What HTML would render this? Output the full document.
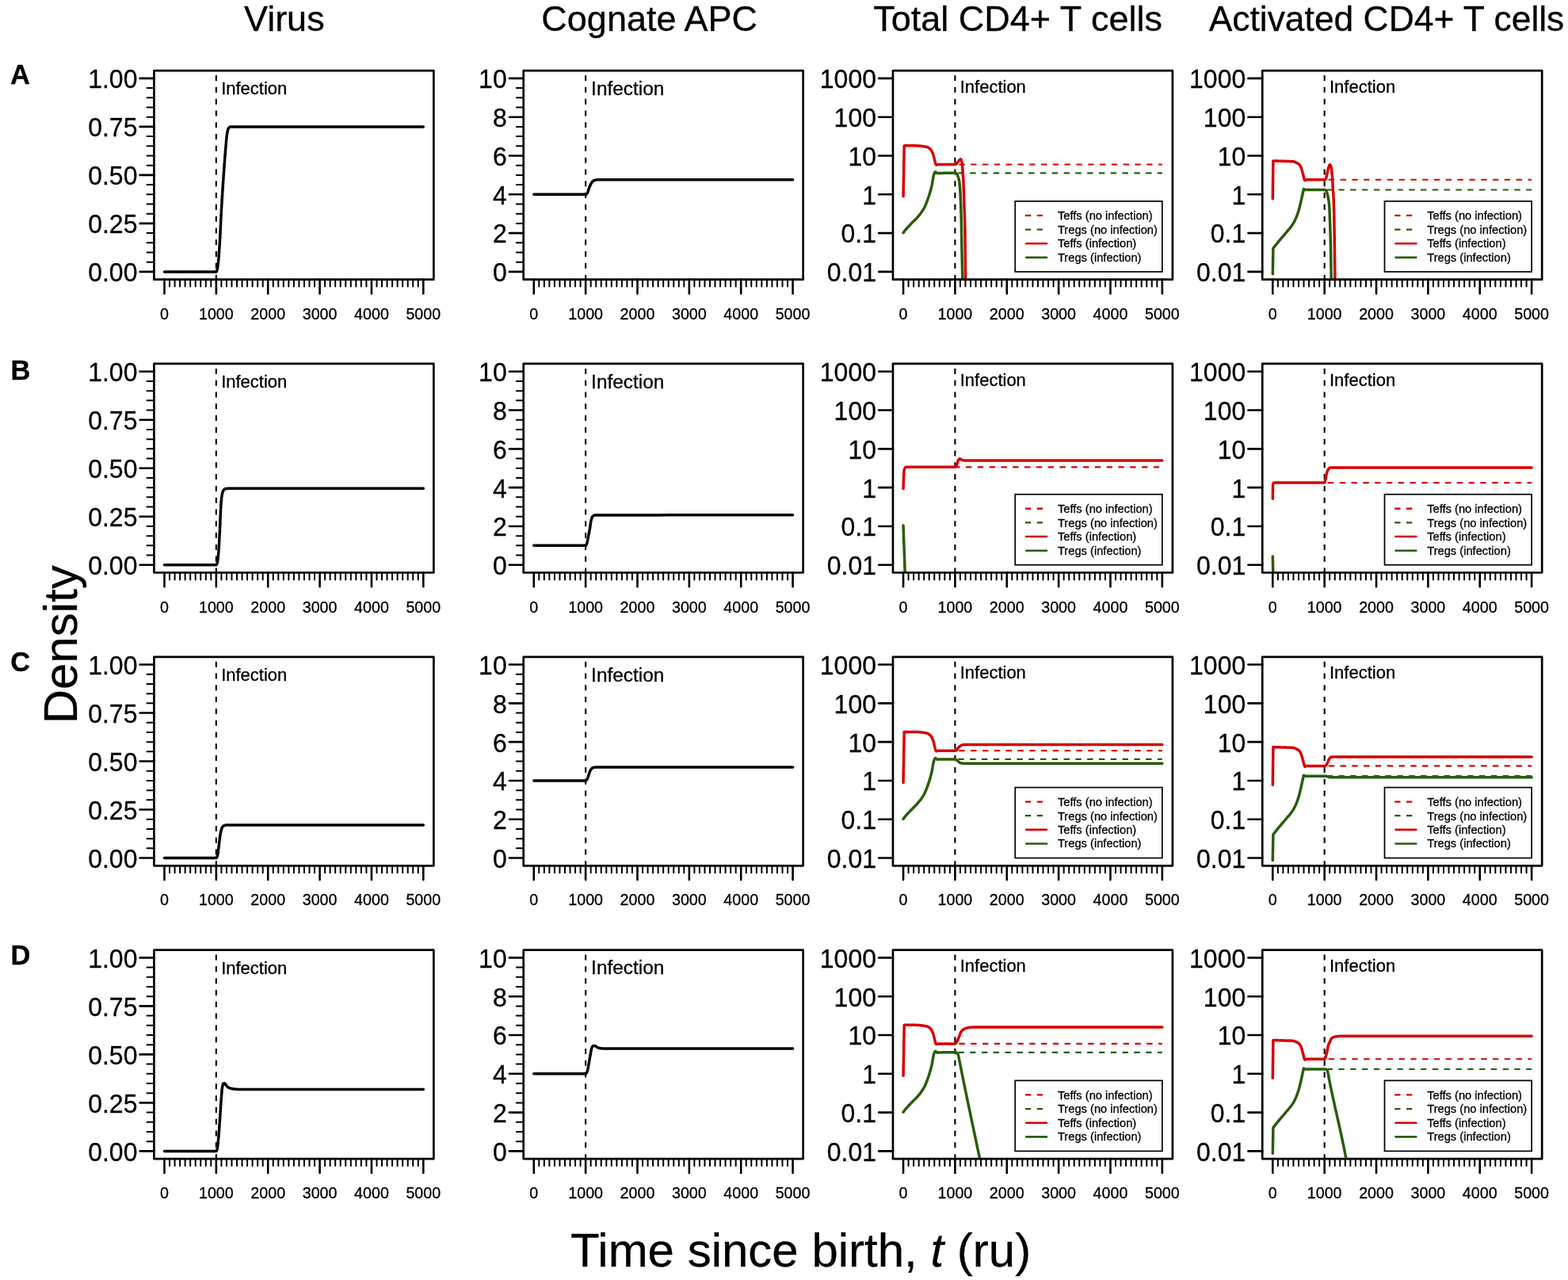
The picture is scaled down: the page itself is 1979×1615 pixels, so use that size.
<!DOCTYPE html><html><head><meta charset="utf-8"><title>Figure</title><style>html,body{margin:0;padding:0;background:#fff;}svg{display:block}text{font-family:'Liberation Sans',Arial,Helvetica,sans-serif;stroke:#000;stroke-width:0.3px}</style></head><body>
<svg width="1979" height="1615" viewBox="0 0 1979 1615">
<rect width="1979" height="1615" fill="#fff"/>
<defs>
<clipPath id="cp00"><rect x="194.43" y="89.14" width="352.94" height="263.52"/></clipPath>
<clipPath id="cp01"><rect x="660.70" y="89.14" width="352.94" height="263.52"/></clipPath>
<clipPath id="cp02"><rect x="1126.97" y="89.14" width="352.94" height="263.52"/></clipPath>
<clipPath id="cp03"><rect x="1593.24" y="89.14" width="352.94" height="263.52"/></clipPath>
<clipPath id="cp10"><rect x="194.43" y="458.97" width="352.94" height="263.52"/></clipPath>
<clipPath id="cp11"><rect x="660.70" y="458.97" width="352.94" height="263.52"/></clipPath>
<clipPath id="cp12"><rect x="1126.97" y="458.97" width="352.94" height="263.52"/></clipPath>
<clipPath id="cp13"><rect x="1593.24" y="458.97" width="352.94" height="263.52"/></clipPath>
<clipPath id="cp20"><rect x="194.43" y="828.80" width="352.94" height="263.52"/></clipPath>
<clipPath id="cp21"><rect x="660.70" y="828.80" width="352.94" height="263.52"/></clipPath>
<clipPath id="cp22"><rect x="1126.97" y="828.80" width="352.94" height="263.52"/></clipPath>
<clipPath id="cp23"><rect x="1593.24" y="828.80" width="352.94" height="263.52"/></clipPath>
<clipPath id="cp30"><rect x="194.43" y="1198.63" width="352.94" height="263.52"/></clipPath>
<clipPath id="cp31"><rect x="660.70" y="1198.63" width="352.94" height="263.52"/></clipPath>
<clipPath id="cp32"><rect x="1126.97" y="1198.63" width="352.94" height="263.52"/></clipPath>
<clipPath id="cp33"><rect x="1593.24" y="1198.63" width="352.94" height="263.52"/></clipPath>
</defs>
<text x="358.8" y="38.8" font-size="45.0" text-anchor="middle">Virus</text>
<text x="819.7" y="38.8" font-size="45.0" text-anchor="middle">Cognate APC</text>
<text x="1284.6" y="38.8" font-size="45.0" text-anchor="middle">Total CD4+ T cells</text>
<text x="1750.0" y="38.8" font-size="44.4" text-anchor="middle">Activated CD4+ T cells</text>
<text x="13.0" y="105.9" font-size="34.5" font-weight="bold">A</text>
<text x="13.6" y="479.2" font-size="34.5" font-weight="bold">B</text>
<text x="13.2" y="847.3" font-size="34.5" font-weight="bold">C</text>
<text x="13.6" y="1217.0" font-size="34.5" font-weight="bold">D</text>
<text transform="translate(96.9,813.3) rotate(-90)" font-size="60" text-anchor="middle">Density</text>
<text x="1010.5" y="1598.3" font-size="60" text-anchor="middle">Time since birth, <tspan font-style="italic">t</tspan> (ru)</text>
<g><line x1="194.43" y1="342.90" x2="176.63" y2="342.90" stroke="#000" stroke-width="2.60" stroke-linecap="round"/><text transform="translate(173.43,343.50) scale(1,1.050)" font-size="32.0" text-anchor="end" dominant-baseline="central">0.00</text><line x1="194.43" y1="281.90" x2="176.63" y2="281.90" stroke="#000" stroke-width="2.60" stroke-linecap="round"/><text transform="translate(173.43,282.50) scale(1,1.050)" font-size="32.0" text-anchor="end" dominant-baseline="central">0.25</text><line x1="194.43" y1="220.90" x2="176.63" y2="220.90" stroke="#000" stroke-width="2.60" stroke-linecap="round"/><text transform="translate(173.43,221.50) scale(1,1.050)" font-size="32.0" text-anchor="end" dominant-baseline="central">0.50</text><line x1="194.43" y1="159.90" x2="176.63" y2="159.90" stroke="#000" stroke-width="2.60" stroke-linecap="round"/><text transform="translate(173.43,160.50) scale(1,1.050)" font-size="32.0" text-anchor="end" dominant-baseline="central">0.75</text><line x1="194.43" y1="98.90" x2="176.63" y2="98.90" stroke="#000" stroke-width="2.60" stroke-linecap="round"/><text transform="translate(173.43,99.50) scale(1,1.050)" font-size="32.0" text-anchor="end" dominant-baseline="central">1.00</text><line x1="194.43" y1="330.70" x2="185.53" y2="330.70" stroke="#000" stroke-width="2.00" stroke-linecap="round"/><line x1="194.43" y1="318.50" x2="185.53" y2="318.50" stroke="#000" stroke-width="2.00" stroke-linecap="round"/><line x1="194.43" y1="306.30" x2="185.53" y2="306.30" stroke="#000" stroke-width="2.00" stroke-linecap="round"/><line x1="194.43" y1="294.10" x2="185.53" y2="294.10" stroke="#000" stroke-width="2.00" stroke-linecap="round"/><line x1="194.43" y1="269.70" x2="185.53" y2="269.70" stroke="#000" stroke-width="2.00" stroke-linecap="round"/><line x1="194.43" y1="257.50" x2="185.53" y2="257.50" stroke="#000" stroke-width="2.00" stroke-linecap="round"/><line x1="194.43" y1="245.30" x2="185.53" y2="245.30" stroke="#000" stroke-width="2.00" stroke-linecap="round"/><line x1="194.43" y1="233.10" x2="185.53" y2="233.10" stroke="#000" stroke-width="2.00" stroke-linecap="round"/><line x1="194.43" y1="208.70" x2="185.53" y2="208.70" stroke="#000" stroke-width="2.00" stroke-linecap="round"/><line x1="194.43" y1="196.50" x2="185.53" y2="196.50" stroke="#000" stroke-width="2.00" stroke-linecap="round"/><line x1="194.43" y1="184.30" x2="185.53" y2="184.30" stroke="#000" stroke-width="2.00" stroke-linecap="round"/><line x1="194.43" y1="172.10" x2="185.53" y2="172.10" stroke="#000" stroke-width="2.00" stroke-linecap="round"/><line x1="194.43" y1="147.70" x2="185.53" y2="147.70" stroke="#000" stroke-width="2.00" stroke-linecap="round"/><line x1="194.43" y1="135.50" x2="185.53" y2="135.50" stroke="#000" stroke-width="2.00" stroke-linecap="round"/><line x1="194.43" y1="123.30" x2="185.53" y2="123.30" stroke="#000" stroke-width="2.00" stroke-linecap="round"/><line x1="194.43" y1="111.10" x2="185.53" y2="111.10" stroke="#000" stroke-width="2.00" stroke-linecap="round"/><line x1="207.50" y1="352.66" x2="207.50" y2="370.46" stroke="#000" stroke-width="2.60" stroke-linecap="round"/><text transform="translate(207.50,402.80) scale(1,1.050)" font-size="19.7" text-anchor="middle">0</text><line x1="214.04" y1="352.66" x2="214.04" y2="361.56" stroke="#000" stroke-width="2.00" stroke-linecap="round"/><line x1="220.57" y1="352.66" x2="220.57" y2="361.56" stroke="#000" stroke-width="2.00" stroke-linecap="round"/><line x1="227.11" y1="352.66" x2="227.11" y2="361.56" stroke="#000" stroke-width="2.00" stroke-linecap="round"/><line x1="233.64" y1="352.66" x2="233.64" y2="361.56" stroke="#000" stroke-width="2.00" stroke-linecap="round"/><line x1="240.18" y1="352.66" x2="240.18" y2="361.56" stroke="#000" stroke-width="2.00" stroke-linecap="round"/><line x1="246.72" y1="352.66" x2="246.72" y2="361.56" stroke="#000" stroke-width="2.00" stroke-linecap="round"/><line x1="253.25" y1="352.66" x2="253.25" y2="361.56" stroke="#000" stroke-width="2.00" stroke-linecap="round"/><line x1="259.79" y1="352.66" x2="259.79" y2="361.56" stroke="#000" stroke-width="2.00" stroke-linecap="round"/><line x1="266.32" y1="352.66" x2="266.32" y2="361.56" stroke="#000" stroke-width="2.00" stroke-linecap="round"/><line x1="272.86" y1="352.66" x2="272.86" y2="370.46" stroke="#000" stroke-width="2.60" stroke-linecap="round"/><text transform="translate(272.86,402.80) scale(1,1.050)" font-size="19.7" text-anchor="middle">1000</text><line x1="279.40" y1="352.66" x2="279.40" y2="361.56" stroke="#000" stroke-width="2.00" stroke-linecap="round"/><line x1="285.93" y1="352.66" x2="285.93" y2="361.56" stroke="#000" stroke-width="2.00" stroke-linecap="round"/><line x1="292.47" y1="352.66" x2="292.47" y2="361.56" stroke="#000" stroke-width="2.00" stroke-linecap="round"/><line x1="299.00" y1="352.66" x2="299.00" y2="361.56" stroke="#000" stroke-width="2.00" stroke-linecap="round"/><line x1="305.54" y1="352.66" x2="305.54" y2="361.56" stroke="#000" stroke-width="2.00" stroke-linecap="round"/><line x1="312.08" y1="352.66" x2="312.08" y2="361.56" stroke="#000" stroke-width="2.00" stroke-linecap="round"/><line x1="318.61" y1="352.66" x2="318.61" y2="361.56" stroke="#000" stroke-width="2.00" stroke-linecap="round"/><line x1="325.15" y1="352.66" x2="325.15" y2="361.56" stroke="#000" stroke-width="2.00" stroke-linecap="round"/><line x1="331.68" y1="352.66" x2="331.68" y2="361.56" stroke="#000" stroke-width="2.00" stroke-linecap="round"/><line x1="338.22" y1="352.66" x2="338.22" y2="370.46" stroke="#000" stroke-width="2.60" stroke-linecap="round"/><text transform="translate(338.22,402.80) scale(1,1.050)" font-size="19.7" text-anchor="middle">2000</text><line x1="344.76" y1="352.66" x2="344.76" y2="361.56" stroke="#000" stroke-width="2.00" stroke-linecap="round"/><line x1="351.29" y1="352.66" x2="351.29" y2="361.56" stroke="#000" stroke-width="2.00" stroke-linecap="round"/><line x1="357.83" y1="352.66" x2="357.83" y2="361.56" stroke="#000" stroke-width="2.00" stroke-linecap="round"/><line x1="364.36" y1="352.66" x2="364.36" y2="361.56" stroke="#000" stroke-width="2.00" stroke-linecap="round"/><line x1="370.90" y1="352.66" x2="370.90" y2="361.56" stroke="#000" stroke-width="2.00" stroke-linecap="round"/><line x1="377.44" y1="352.66" x2="377.44" y2="361.56" stroke="#000" stroke-width="2.00" stroke-linecap="round"/><line x1="383.97" y1="352.66" x2="383.97" y2="361.56" stroke="#000" stroke-width="2.00" stroke-linecap="round"/><line x1="390.51" y1="352.66" x2="390.51" y2="361.56" stroke="#000" stroke-width="2.00" stroke-linecap="round"/><line x1="397.04" y1="352.66" x2="397.04" y2="361.56" stroke="#000" stroke-width="2.00" stroke-linecap="round"/><line x1="403.58" y1="352.66" x2="403.58" y2="370.46" stroke="#000" stroke-width="2.60" stroke-linecap="round"/><text transform="translate(403.58,402.80) scale(1,1.050)" font-size="19.7" text-anchor="middle">3000</text><line x1="410.12" y1="352.66" x2="410.12" y2="361.56" stroke="#000" stroke-width="2.00" stroke-linecap="round"/><line x1="416.65" y1="352.66" x2="416.65" y2="361.56" stroke="#000" stroke-width="2.00" stroke-linecap="round"/><line x1="423.19" y1="352.66" x2="423.19" y2="361.56" stroke="#000" stroke-width="2.00" stroke-linecap="round"/><line x1="429.72" y1="352.66" x2="429.72" y2="361.56" stroke="#000" stroke-width="2.00" stroke-linecap="round"/><line x1="436.26" y1="352.66" x2="436.26" y2="361.56" stroke="#000" stroke-width="2.00" stroke-linecap="round"/><line x1="442.80" y1="352.66" x2="442.80" y2="361.56" stroke="#000" stroke-width="2.00" stroke-linecap="round"/><line x1="449.33" y1="352.66" x2="449.33" y2="361.56" stroke="#000" stroke-width="2.00" stroke-linecap="round"/><line x1="455.87" y1="352.66" x2="455.87" y2="361.56" stroke="#000" stroke-width="2.00" stroke-linecap="round"/><line x1="462.40" y1="352.66" x2="462.40" y2="361.56" stroke="#000" stroke-width="2.00" stroke-linecap="round"/><line x1="468.94" y1="352.66" x2="468.94" y2="370.46" stroke="#000" stroke-width="2.60" stroke-linecap="round"/><text transform="translate(468.94,402.80) scale(1,1.050)" font-size="19.7" text-anchor="middle">4000</text><line x1="475.48" y1="352.66" x2="475.48" y2="361.56" stroke="#000" stroke-width="2.00" stroke-linecap="round"/><line x1="482.01" y1="352.66" x2="482.01" y2="361.56" stroke="#000" stroke-width="2.00" stroke-linecap="round"/><line x1="488.55" y1="352.66" x2="488.55" y2="361.56" stroke="#000" stroke-width="2.00" stroke-linecap="round"/><line x1="495.08" y1="352.66" x2="495.08" y2="361.56" stroke="#000" stroke-width="2.00" stroke-linecap="round"/><line x1="501.62" y1="352.66" x2="501.62" y2="361.56" stroke="#000" stroke-width="2.00" stroke-linecap="round"/><line x1="508.16" y1="352.66" x2="508.16" y2="361.56" stroke="#000" stroke-width="2.00" stroke-linecap="round"/><line x1="514.69" y1="352.66" x2="514.69" y2="361.56" stroke="#000" stroke-width="2.00" stroke-linecap="round"/><line x1="521.23" y1="352.66" x2="521.23" y2="361.56" stroke="#000" stroke-width="2.00" stroke-linecap="round"/><line x1="527.76" y1="352.66" x2="527.76" y2="361.56" stroke="#000" stroke-width="2.00" stroke-linecap="round"/><line x1="534.30" y1="352.66" x2="534.30" y2="370.46" stroke="#000" stroke-width="2.60" stroke-linecap="round"/><text transform="translate(534.30,402.80) scale(1,1.050)" font-size="19.7" text-anchor="middle">5000</text><line x1="272.86" y1="89.14" x2="272.86" y2="352.66" stroke="#000" stroke-width="2.10" stroke-dasharray="7.0 7.8" stroke-dashoffset="8.89"/><text x="279.16" y="119.20" font-size="22.0">Infection</text><path d="M207.50,342.90 L211.59,342.90 L215.67,342.90 L219.75,342.90 L223.84,342.90 L227.93,342.90 L232.01,342.90 L236.09,342.90 L240.18,342.90 L244.26,342.90 L248.35,342.90 L252.44,342.90 L256.52,342.90 L260.61,342.90 L264.69,342.90 L268.77,342.90 L272.86,342.90 L272.94,342.88 L273.02,342.84 L273.11,342.76 L273.19,342.65 L273.27,342.52 L273.35,342.36 L273.43,342.19 L273.51,341.99 L273.60,341.78 L273.68,341.55 L273.76,341.31 L273.84,341.06 L273.92,340.79 L274.00,340.52 L274.09,340.25 L274.17,339.97 L274.26,339.62 L274.36,339.20 L274.45,338.72 L274.54,338.18 L274.64,337.59 L274.73,336.95 L274.82,336.26 L274.92,335.53 L275.01,334.77 L275.11,333.97 L275.20,333.15 L275.29,332.30 L275.39,331.43 L275.48,330.55 L275.58,329.65 L275.67,328.75 L275.78,327.60 L275.90,326.37 L276.01,325.06 L276.13,323.67 L276.24,322.22 L276.36,320.70 L276.47,319.12 L276.59,317.49 L276.70,315.81 L276.81,314.09 L276.93,312.33 L277.04,310.53 L277.16,308.71 L277.27,306.86 L277.39,305.00 L277.50,303.13 L277.61,301.19 L277.73,299.13 L277.84,296.98 L277.96,294.75 L278.07,292.44 L278.19,290.08 L278.30,287.69 L278.42,285.26 L278.53,282.83 L278.64,280.41 L278.76,278.00 L278.87,275.62 L278.99,273.30 L279.10,271.04 L279.22,268.86 L279.33,266.77 L279.50,263.74 L279.67,260.76 L279.85,257.83 L280.02,254.94 L280.19,252.09 L280.36,249.28 L280.53,246.52 L280.70,243.79 L280.87,241.09 L281.05,238.43 L281.22,235.81 L281.39,233.21 L281.56,230.64 L281.73,228.10 L281.90,225.59 L282.08,223.10 L282.25,220.62 L282.42,218.17 L282.59,215.73 L282.76,213.31 L282.93,210.91 L283.11,208.54 L283.28,206.20 L283.45,203.88 L283.62,201.60 L283.79,199.36 L283.96,197.15 L284.13,194.98 L284.31,192.85 L284.48,190.76 L284.65,188.73 L284.82,186.74 L284.93,185.46 L285.04,184.16 L285.15,182.85 L285.26,181.53 L285.37,180.22 L285.48,178.92 L285.59,177.64 L285.70,176.40 L285.81,175.19 L285.92,174.04 L286.03,172.95 L286.14,171.92 L286.25,170.97 L286.37,170.11 L286.48,169.34 L286.59,168.68 L286.70,168.06 L286.81,167.46 L286.93,166.88 L287.04,166.31 L287.16,165.77 L287.27,165.25 L287.39,164.76 L287.50,164.30 L287.62,163.87 L287.73,163.47 L287.84,163.10 L287.96,162.77 L288.07,162.48 L288.19,162.23 L288.30,162.02 L288.42,161.85 L288.59,161.64 L288.76,161.44 L288.93,161.25 L289.10,161.06 L289.27,160.89 L289.45,160.73 L289.62,160.58 L289.79,160.45 L289.96,160.32 L290.13,160.22 L290.30,160.12 L290.47,160.04 L290.65,159.98 L290.82,159.94 L290.99,159.91 L291.16,159.90 L291.65,159.90 L292.14,159.90 L292.63,159.90 L293.12,159.90 L293.61,159.90 L294.10,159.90 L294.59,159.90 L295.08,159.90 L295.57,159.90 L296.06,159.90 L296.55,159.90 L297.04,159.90 L297.53,159.90 L298.02,159.90 L298.51,159.90 L299.00,159.90 L313.71,159.90 L328.42,159.90 L343.12,159.90 L357.83,159.90 L372.53,159.90 L387.24,159.90 L401.95,159.90 L416.65,159.90 L431.36,159.90 L446.06,159.90 L460.77,159.90 L475.48,159.90 L490.18,159.90 L504.89,159.90 L519.59,159.90 L534.30,159.90" fill="none" stroke="#000" stroke-width="3.50" stroke-linecap="round" stroke-linejoin="round" clip-path="url(#cp00)"/><rect x="194.43" y="89.14" width="352.94" height="263.52" fill="none" stroke="#000" stroke-width="2.70" stroke-linejoin="round"/></g>
<g><line x1="660.70" y1="342.90" x2="642.90" y2="342.90" stroke="#000" stroke-width="2.60" stroke-linecap="round"/><text transform="translate(639.70,343.50) scale(1,1.050)" font-size="32.0" text-anchor="end" dominant-baseline="central">0</text><line x1="660.70" y1="294.10" x2="642.90" y2="294.10" stroke="#000" stroke-width="2.60" stroke-linecap="round"/><text transform="translate(639.70,294.70) scale(1,1.050)" font-size="32.0" text-anchor="end" dominant-baseline="central">2</text><line x1="660.70" y1="245.30" x2="642.90" y2="245.30" stroke="#000" stroke-width="2.60" stroke-linecap="round"/><text transform="translate(639.70,245.90) scale(1,1.050)" font-size="32.0" text-anchor="end" dominant-baseline="central">4</text><line x1="660.70" y1="196.50" x2="642.90" y2="196.50" stroke="#000" stroke-width="2.60" stroke-linecap="round"/><text transform="translate(639.70,197.10) scale(1,1.050)" font-size="32.0" text-anchor="end" dominant-baseline="central">6</text><line x1="660.70" y1="147.70" x2="642.90" y2="147.70" stroke="#000" stroke-width="2.60" stroke-linecap="round"/><text transform="translate(639.70,148.30) scale(1,1.050)" font-size="32.0" text-anchor="end" dominant-baseline="central">8</text><line x1="660.70" y1="98.90" x2="642.90" y2="98.90" stroke="#000" stroke-width="2.60" stroke-linecap="round"/><text transform="translate(639.70,99.50) scale(1,1.050)" font-size="32.0" text-anchor="end" dominant-baseline="central">10</text><line x1="660.70" y1="330.70" x2="651.80" y2="330.70" stroke="#000" stroke-width="2.00" stroke-linecap="round"/><line x1="660.70" y1="318.50" x2="651.80" y2="318.50" stroke="#000" stroke-width="2.00" stroke-linecap="round"/><line x1="660.70" y1="306.30" x2="651.80" y2="306.30" stroke="#000" stroke-width="2.00" stroke-linecap="round"/><line x1="660.70" y1="281.90" x2="651.80" y2="281.90" stroke="#000" stroke-width="2.00" stroke-linecap="round"/><line x1="660.70" y1="269.70" x2="651.80" y2="269.70" stroke="#000" stroke-width="2.00" stroke-linecap="round"/><line x1="660.70" y1="257.50" x2="651.80" y2="257.50" stroke="#000" stroke-width="2.00" stroke-linecap="round"/><line x1="660.70" y1="233.10" x2="651.80" y2="233.10" stroke="#000" stroke-width="2.00" stroke-linecap="round"/><line x1="660.70" y1="220.90" x2="651.80" y2="220.90" stroke="#000" stroke-width="2.00" stroke-linecap="round"/><line x1="660.70" y1="208.70" x2="651.80" y2="208.70" stroke="#000" stroke-width="2.00" stroke-linecap="round"/><line x1="660.70" y1="184.30" x2="651.80" y2="184.30" stroke="#000" stroke-width="2.00" stroke-linecap="round"/><line x1="660.70" y1="172.10" x2="651.80" y2="172.10" stroke="#000" stroke-width="2.00" stroke-linecap="round"/><line x1="660.70" y1="159.90" x2="651.80" y2="159.90" stroke="#000" stroke-width="2.00" stroke-linecap="round"/><line x1="660.70" y1="135.50" x2="651.80" y2="135.50" stroke="#000" stroke-width="2.00" stroke-linecap="round"/><line x1="660.70" y1="123.30" x2="651.80" y2="123.30" stroke="#000" stroke-width="2.00" stroke-linecap="round"/><line x1="660.70" y1="111.10" x2="651.80" y2="111.10" stroke="#000" stroke-width="2.00" stroke-linecap="round"/><line x1="673.77" y1="352.66" x2="673.77" y2="370.46" stroke="#000" stroke-width="2.60" stroke-linecap="round"/><text transform="translate(673.77,402.80) scale(1,1.050)" font-size="19.7" text-anchor="middle">0</text><line x1="680.31" y1="352.66" x2="680.31" y2="361.56" stroke="#000" stroke-width="2.00" stroke-linecap="round"/><line x1="686.84" y1="352.66" x2="686.84" y2="361.56" stroke="#000" stroke-width="2.00" stroke-linecap="round"/><line x1="693.38" y1="352.66" x2="693.38" y2="361.56" stroke="#000" stroke-width="2.00" stroke-linecap="round"/><line x1="699.91" y1="352.66" x2="699.91" y2="361.56" stroke="#000" stroke-width="2.00" stroke-linecap="round"/><line x1="706.45" y1="352.66" x2="706.45" y2="361.56" stroke="#000" stroke-width="2.00" stroke-linecap="round"/><line x1="712.99" y1="352.66" x2="712.99" y2="361.56" stroke="#000" stroke-width="2.00" stroke-linecap="round"/><line x1="719.52" y1="352.66" x2="719.52" y2="361.56" stroke="#000" stroke-width="2.00" stroke-linecap="round"/><line x1="726.06" y1="352.66" x2="726.06" y2="361.56" stroke="#000" stroke-width="2.00" stroke-linecap="round"/><line x1="732.59" y1="352.66" x2="732.59" y2="361.56" stroke="#000" stroke-width="2.00" stroke-linecap="round"/><line x1="739.13" y1="352.66" x2="739.13" y2="370.46" stroke="#000" stroke-width="2.60" stroke-linecap="round"/><text transform="translate(739.13,402.80) scale(1,1.050)" font-size="19.7" text-anchor="middle">1000</text><line x1="745.67" y1="352.66" x2="745.67" y2="361.56" stroke="#000" stroke-width="2.00" stroke-linecap="round"/><line x1="752.20" y1="352.66" x2="752.20" y2="361.56" stroke="#000" stroke-width="2.00" stroke-linecap="round"/><line x1="758.74" y1="352.66" x2="758.74" y2="361.56" stroke="#000" stroke-width="2.00" stroke-linecap="round"/><line x1="765.27" y1="352.66" x2="765.27" y2="361.56" stroke="#000" stroke-width="2.00" stroke-linecap="round"/><line x1="771.81" y1="352.66" x2="771.81" y2="361.56" stroke="#000" stroke-width="2.00" stroke-linecap="round"/><line x1="778.35" y1="352.66" x2="778.35" y2="361.56" stroke="#000" stroke-width="2.00" stroke-linecap="round"/><line x1="784.88" y1="352.66" x2="784.88" y2="361.56" stroke="#000" stroke-width="2.00" stroke-linecap="round"/><line x1="791.42" y1="352.66" x2="791.42" y2="361.56" stroke="#000" stroke-width="2.00" stroke-linecap="round"/><line x1="797.95" y1="352.66" x2="797.95" y2="361.56" stroke="#000" stroke-width="2.00" stroke-linecap="round"/><line x1="804.49" y1="352.66" x2="804.49" y2="370.46" stroke="#000" stroke-width="2.60" stroke-linecap="round"/><text transform="translate(804.49,402.80) scale(1,1.050)" font-size="19.7" text-anchor="middle">2000</text><line x1="811.03" y1="352.66" x2="811.03" y2="361.56" stroke="#000" stroke-width="2.00" stroke-linecap="round"/><line x1="817.56" y1="352.66" x2="817.56" y2="361.56" stroke="#000" stroke-width="2.00" stroke-linecap="round"/><line x1="824.10" y1="352.66" x2="824.10" y2="361.56" stroke="#000" stroke-width="2.00" stroke-linecap="round"/><line x1="830.63" y1="352.66" x2="830.63" y2="361.56" stroke="#000" stroke-width="2.00" stroke-linecap="round"/><line x1="837.17" y1="352.66" x2="837.17" y2="361.56" stroke="#000" stroke-width="2.00" stroke-linecap="round"/><line x1="843.71" y1="352.66" x2="843.71" y2="361.56" stroke="#000" stroke-width="2.00" stroke-linecap="round"/><line x1="850.24" y1="352.66" x2="850.24" y2="361.56" stroke="#000" stroke-width="2.00" stroke-linecap="round"/><line x1="856.78" y1="352.66" x2="856.78" y2="361.56" stroke="#000" stroke-width="2.00" stroke-linecap="round"/><line x1="863.31" y1="352.66" x2="863.31" y2="361.56" stroke="#000" stroke-width="2.00" stroke-linecap="round"/><line x1="869.85" y1="352.66" x2="869.85" y2="370.46" stroke="#000" stroke-width="2.60" stroke-linecap="round"/><text transform="translate(869.85,402.80) scale(1,1.050)" font-size="19.7" text-anchor="middle">3000</text><line x1="876.39" y1="352.66" x2="876.39" y2="361.56" stroke="#000" stroke-width="2.00" stroke-linecap="round"/><line x1="882.92" y1="352.66" x2="882.92" y2="361.56" stroke="#000" stroke-width="2.00" stroke-linecap="round"/><line x1="889.46" y1="352.66" x2="889.46" y2="361.56" stroke="#000" stroke-width="2.00" stroke-linecap="round"/><line x1="895.99" y1="352.66" x2="895.99" y2="361.56" stroke="#000" stroke-width="2.00" stroke-linecap="round"/><line x1="902.53" y1="352.66" x2="902.53" y2="361.56" stroke="#000" stroke-width="2.00" stroke-linecap="round"/><line x1="909.07" y1="352.66" x2="909.07" y2="361.56" stroke="#000" stroke-width="2.00" stroke-linecap="round"/><line x1="915.60" y1="352.66" x2="915.60" y2="361.56" stroke="#000" stroke-width="2.00" stroke-linecap="round"/><line x1="922.14" y1="352.66" x2="922.14" y2="361.56" stroke="#000" stroke-width="2.00" stroke-linecap="round"/><line x1="928.67" y1="352.66" x2="928.67" y2="361.56" stroke="#000" stroke-width="2.00" stroke-linecap="round"/><line x1="935.21" y1="352.66" x2="935.21" y2="370.46" stroke="#000" stroke-width="2.60" stroke-linecap="round"/><text transform="translate(935.21,402.80) scale(1,1.050)" font-size="19.7" text-anchor="middle">4000</text><line x1="941.75" y1="352.66" x2="941.75" y2="361.56" stroke="#000" stroke-width="2.00" stroke-linecap="round"/><line x1="948.28" y1="352.66" x2="948.28" y2="361.56" stroke="#000" stroke-width="2.00" stroke-linecap="round"/><line x1="954.82" y1="352.66" x2="954.82" y2="361.56" stroke="#000" stroke-width="2.00" stroke-linecap="round"/><line x1="961.35" y1="352.66" x2="961.35" y2="361.56" stroke="#000" stroke-width="2.00" stroke-linecap="round"/><line x1="967.89" y1="352.66" x2="967.89" y2="361.56" stroke="#000" stroke-width="2.00" stroke-linecap="round"/><line x1="974.43" y1="352.66" x2="974.43" y2="361.56" stroke="#000" stroke-width="2.00" stroke-linecap="round"/><line x1="980.96" y1="352.66" x2="980.96" y2="361.56" stroke="#000" stroke-width="2.00" stroke-linecap="round"/><line x1="987.50" y1="352.66" x2="987.50" y2="361.56" stroke="#000" stroke-width="2.00" stroke-linecap="round"/><line x1="994.03" y1="352.66" x2="994.03" y2="361.56" stroke="#000" stroke-width="2.00" stroke-linecap="round"/><line x1="1000.57" y1="352.66" x2="1000.57" y2="370.46" stroke="#000" stroke-width="2.60" stroke-linecap="round"/><text transform="translate(1000.57,402.80) scale(1,1.050)" font-size="19.7" text-anchor="middle">5000</text><line x1="739.13" y1="89.14" x2="739.13" y2="352.66" stroke="#000" stroke-width="2.10" stroke-dasharray="7.0 7.8" stroke-dashoffset="8.89"/><text x="746.12" y="120.00" font-size="24.4">Infection</text><path d="M673.77,245.30 L677.86,245.30 L681.94,245.30 L686.02,245.30 L690.11,245.30 L694.19,245.30 L698.28,245.30 L702.37,245.30 L706.45,245.30 L710.53,245.30 L714.62,245.30 L718.70,245.30 L722.79,245.30 L726.88,245.30 L730.96,245.30 L735.04,245.30 L739.13,245.30 L739.25,245.29 L739.38,245.27 L739.50,245.23 L739.62,245.18 L739.74,245.11 L739.87,245.03 L739.99,244.95 L740.11,244.85 L740.23,244.74 L740.36,244.63 L740.48,244.51 L740.60,244.38 L740.72,244.25 L740.85,244.11 L740.97,243.98 L741.09,243.84 L741.25,243.62 L741.42,243.33 L741.58,242.99 L741.74,242.60 L741.91,242.18 L742.07,241.71 L742.23,241.22 L742.40,240.71 L742.56,240.18 L742.72,239.65 L742.89,239.13 L743.05,238.61 L743.22,238.10 L743.38,237.62 L743.54,237.17 L743.71,236.76 L743.87,236.37 L744.03,235.97 L744.20,235.57 L744.36,235.18 L744.52,234.78 L744.69,234.39 L744.85,234.01 L745.01,233.64 L745.18,233.27 L745.34,232.92 L745.50,232.58 L745.67,232.26 L745.83,231.95 L745.99,231.66 L746.16,231.39 L746.32,231.15 L746.52,230.86 L746.73,230.57 L746.93,230.29 L747.14,230.02 L747.34,229.75 L747.55,229.49 L747.75,229.24 L747.95,229.01 L748.16,228.79 L748.36,228.58 L748.57,228.39 L748.77,228.22 L748.97,228.06 L749.18,227.93 L749.38,227.82 L749.59,227.73 L749.87,227.63 L750.16,227.53 L750.45,227.43 L750.73,227.34 L751.02,227.26 L751.30,227.18 L751.59,227.10 L751.88,227.03 L752.16,226.97 L752.45,226.92 L752.73,226.87 L753.02,226.83 L753.30,226.80 L753.59,226.77 L753.88,226.76 L754.16,226.76 L769.56,226.76 L784.96,226.76 L800.36,226.76 L815.76,226.76 L831.17,226.76 L846.57,226.76 L861.97,226.76 L877.37,226.76 L892.77,226.76 L908.17,226.76 L923.57,226.76 L938.97,226.76 L954.37,226.76 L969.77,226.76 L985.17,226.76 L1000.57,226.76" fill="none" stroke="#000" stroke-width="3.50" stroke-linecap="round" stroke-linejoin="round" clip-path="url(#cp01)"/><rect x="660.70" y="89.14" width="352.94" height="263.52" fill="none" stroke="#000" stroke-width="2.70" stroke-linejoin="round"/></g>
<g><line x1="1126.97" y1="342.90" x2="1109.17" y2="342.90" stroke="#000" stroke-width="2.60" stroke-linecap="round"/><text transform="translate(1105.97,343.50) scale(1,1.050)" font-size="32.0" text-anchor="end" dominant-baseline="central">0.01</text><line x1="1126.97" y1="294.10" x2="1109.17" y2="294.10" stroke="#000" stroke-width="2.60" stroke-linecap="round"/><text transform="translate(1105.97,294.70) scale(1,1.050)" font-size="32.0" text-anchor="end" dominant-baseline="central">0.1</text><line x1="1126.97" y1="245.30" x2="1109.17" y2="245.30" stroke="#000" stroke-width="2.60" stroke-linecap="round"/><text transform="translate(1105.97,245.90) scale(1,1.050)" font-size="32.0" text-anchor="end" dominant-baseline="central">1</text><line x1="1126.97" y1="196.50" x2="1109.17" y2="196.50" stroke="#000" stroke-width="2.60" stroke-linecap="round"/><text transform="translate(1105.97,197.10) scale(1,1.050)" font-size="32.0" text-anchor="end" dominant-baseline="central">10</text><line x1="1126.97" y1="147.70" x2="1109.17" y2="147.70" stroke="#000" stroke-width="2.60" stroke-linecap="round"/><text transform="translate(1105.97,148.30) scale(1,1.050)" font-size="32.0" text-anchor="end" dominant-baseline="central">100</text><line x1="1126.97" y1="98.90" x2="1109.17" y2="98.90" stroke="#000" stroke-width="2.60" stroke-linecap="round"/><text transform="translate(1105.97,99.50) scale(1,1.050)" font-size="32.0" text-anchor="end" dominant-baseline="central">1000</text><line x1="1140.04" y1="352.66" x2="1140.04" y2="370.46" stroke="#000" stroke-width="2.60" stroke-linecap="round"/><text transform="translate(1140.04,402.80) scale(1,1.050)" font-size="19.7" text-anchor="middle">0</text><line x1="1146.58" y1="352.66" x2="1146.58" y2="361.56" stroke="#000" stroke-width="2.00" stroke-linecap="round"/><line x1="1153.11" y1="352.66" x2="1153.11" y2="361.56" stroke="#000" stroke-width="2.00" stroke-linecap="round"/><line x1="1159.65" y1="352.66" x2="1159.65" y2="361.56" stroke="#000" stroke-width="2.00" stroke-linecap="round"/><line x1="1166.18" y1="352.66" x2="1166.18" y2="361.56" stroke="#000" stroke-width="2.00" stroke-linecap="round"/><line x1="1172.72" y1="352.66" x2="1172.72" y2="361.56" stroke="#000" stroke-width="2.00" stroke-linecap="round"/><line x1="1179.26" y1="352.66" x2="1179.26" y2="361.56" stroke="#000" stroke-width="2.00" stroke-linecap="round"/><line x1="1185.79" y1="352.66" x2="1185.79" y2="361.56" stroke="#000" stroke-width="2.00" stroke-linecap="round"/><line x1="1192.33" y1="352.66" x2="1192.33" y2="361.56" stroke="#000" stroke-width="2.00" stroke-linecap="round"/><line x1="1198.86" y1="352.66" x2="1198.86" y2="361.56" stroke="#000" stroke-width="2.00" stroke-linecap="round"/><line x1="1205.40" y1="352.66" x2="1205.40" y2="370.46" stroke="#000" stroke-width="2.60" stroke-linecap="round"/><text transform="translate(1205.40,402.80) scale(1,1.050)" font-size="19.7" text-anchor="middle">1000</text><line x1="1211.94" y1="352.66" x2="1211.94" y2="361.56" stroke="#000" stroke-width="2.00" stroke-linecap="round"/><line x1="1218.47" y1="352.66" x2="1218.47" y2="361.56" stroke="#000" stroke-width="2.00" stroke-linecap="round"/><line x1="1225.01" y1="352.66" x2="1225.01" y2="361.56" stroke="#000" stroke-width="2.00" stroke-linecap="round"/><line x1="1231.54" y1="352.66" x2="1231.54" y2="361.56" stroke="#000" stroke-width="2.00" stroke-linecap="round"/><line x1="1238.08" y1="352.66" x2="1238.08" y2="361.56" stroke="#000" stroke-width="2.00" stroke-linecap="round"/><line x1="1244.62" y1="352.66" x2="1244.62" y2="361.56" stroke="#000" stroke-width="2.00" stroke-linecap="round"/><line x1="1251.15" y1="352.66" x2="1251.15" y2="361.56" stroke="#000" stroke-width="2.00" stroke-linecap="round"/><line x1="1257.69" y1="352.66" x2="1257.69" y2="361.56" stroke="#000" stroke-width="2.00" stroke-linecap="round"/><line x1="1264.22" y1="352.66" x2="1264.22" y2="361.56" stroke="#000" stroke-width="2.00" stroke-linecap="round"/><line x1="1270.76" y1="352.66" x2="1270.76" y2="370.46" stroke="#000" stroke-width="2.60" stroke-linecap="round"/><text transform="translate(1270.76,402.80) scale(1,1.050)" font-size="19.7" text-anchor="middle">2000</text><line x1="1277.30" y1="352.66" x2="1277.30" y2="361.56" stroke="#000" stroke-width="2.00" stroke-linecap="round"/><line x1="1283.83" y1="352.66" x2="1283.83" y2="361.56" stroke="#000" stroke-width="2.00" stroke-linecap="round"/><line x1="1290.37" y1="352.66" x2="1290.37" y2="361.56" stroke="#000" stroke-width="2.00" stroke-linecap="round"/><line x1="1296.90" y1="352.66" x2="1296.90" y2="361.56" stroke="#000" stroke-width="2.00" stroke-linecap="round"/><line x1="1303.44" y1="352.66" x2="1303.44" y2="361.56" stroke="#000" stroke-width="2.00" stroke-linecap="round"/><line x1="1309.98" y1="352.66" x2="1309.98" y2="361.56" stroke="#000" stroke-width="2.00" stroke-linecap="round"/><line x1="1316.51" y1="352.66" x2="1316.51" y2="361.56" stroke="#000" stroke-width="2.00" stroke-linecap="round"/><line x1="1323.05" y1="352.66" x2="1323.05" y2="361.56" stroke="#000" stroke-width="2.00" stroke-linecap="round"/><line x1="1329.58" y1="352.66" x2="1329.58" y2="361.56" stroke="#000" stroke-width="2.00" stroke-linecap="round"/><line x1="1336.12" y1="352.66" x2="1336.12" y2="370.46" stroke="#000" stroke-width="2.60" stroke-linecap="round"/><text transform="translate(1336.12,402.80) scale(1,1.050)" font-size="19.7" text-anchor="middle">3000</text><line x1="1342.66" y1="352.66" x2="1342.66" y2="361.56" stroke="#000" stroke-width="2.00" stroke-linecap="round"/><line x1="1349.19" y1="352.66" x2="1349.19" y2="361.56" stroke="#000" stroke-width="2.00" stroke-linecap="round"/><line x1="1355.73" y1="352.66" x2="1355.73" y2="361.56" stroke="#000" stroke-width="2.00" stroke-linecap="round"/><line x1="1362.26" y1="352.66" x2="1362.26" y2="361.56" stroke="#000" stroke-width="2.00" stroke-linecap="round"/><line x1="1368.80" y1="352.66" x2="1368.80" y2="361.56" stroke="#000" stroke-width="2.00" stroke-linecap="round"/><line x1="1375.34" y1="352.66" x2="1375.34" y2="361.56" stroke="#000" stroke-width="2.00" stroke-linecap="round"/><line x1="1381.87" y1="352.66" x2="1381.87" y2="361.56" stroke="#000" stroke-width="2.00" stroke-linecap="round"/><line x1="1388.41" y1="352.66" x2="1388.41" y2="361.56" stroke="#000" stroke-width="2.00" stroke-linecap="round"/><line x1="1394.94" y1="352.66" x2="1394.94" y2="361.56" stroke="#000" stroke-width="2.00" stroke-linecap="round"/><line x1="1401.48" y1="352.66" x2="1401.48" y2="370.46" stroke="#000" stroke-width="2.60" stroke-linecap="round"/><text transform="translate(1401.48,402.80) scale(1,1.050)" font-size="19.7" text-anchor="middle">4000</text><line x1="1408.02" y1="352.66" x2="1408.02" y2="361.56" stroke="#000" stroke-width="2.00" stroke-linecap="round"/><line x1="1414.55" y1="352.66" x2="1414.55" y2="361.56" stroke="#000" stroke-width="2.00" stroke-linecap="round"/><line x1="1421.09" y1="352.66" x2="1421.09" y2="361.56" stroke="#000" stroke-width="2.00" stroke-linecap="round"/><line x1="1427.62" y1="352.66" x2="1427.62" y2="361.56" stroke="#000" stroke-width="2.00" stroke-linecap="round"/><line x1="1434.16" y1="352.66" x2="1434.16" y2="361.56" stroke="#000" stroke-width="2.00" stroke-linecap="round"/><line x1="1440.70" y1="352.66" x2="1440.70" y2="361.56" stroke="#000" stroke-width="2.00" stroke-linecap="round"/><line x1="1447.23" y1="352.66" x2="1447.23" y2="361.56" stroke="#000" stroke-width="2.00" stroke-linecap="round"/><line x1="1453.77" y1="352.66" x2="1453.77" y2="361.56" stroke="#000" stroke-width="2.00" stroke-linecap="round"/><line x1="1460.30" y1="352.66" x2="1460.30" y2="361.56" stroke="#000" stroke-width="2.00" stroke-linecap="round"/><line x1="1466.84" y1="352.66" x2="1466.84" y2="370.46" stroke="#000" stroke-width="2.60" stroke-linecap="round"/><text transform="translate(1466.84,402.80) scale(1,1.050)" font-size="19.7" text-anchor="middle">5000</text><line x1="1205.40" y1="89.14" x2="1205.40" y2="352.66" stroke="#000" stroke-width="2.10" stroke-dasharray="7.0 7.8" stroke-dashoffset="8.89"/><text x="1211.70" y="116.80" font-size="22.0">Infection</text><path d="M1205.40,207.48 L1466.84,207.48" fill="none" stroke="#d70000" stroke-width="2.20" stroke-dasharray="7.4 7.4" stroke-dashoffset="9.80" clip-path="url(#cp02)"/><path d="M1205.40,218.31 L1466.84,218.31" fill="none" stroke="#2a5c0a" stroke-width="2.20" stroke-dasharray="7.4 7.4" stroke-dashoffset="10.85" clip-path="url(#cp02)"/><path d="M1140.04,247.79 L1141.22,183.91 L1141.39,183.90 L1141.56,183.88 L1141.73,183.87 L1141.90,183.85 L1142.07,183.84 L1142.25,183.82 L1142.42,183.80 L1142.59,183.79 L1142.76,183.77 L1142.93,183.76 L1143.10,183.75 L1143.28,183.74 L1143.45,183.73 L1143.62,183.72 L1143.79,183.72 L1143.96,183.71 L1144.84,183.72 L1145.73,183.72 L1146.61,183.72 L1147.49,183.73 L1148.37,183.73 L1149.26,183.74 L1150.14,183.75 L1151.02,183.77 L1151.90,183.78 L1152.79,183.79 L1153.67,183.81 L1154.55,183.83 L1155.43,183.85 L1156.31,183.87 L1157.20,183.89 L1158.08,183.91 L1158.59,183.93 L1159.09,183.95 L1159.60,183.98 L1160.11,184.02 L1160.61,184.07 L1161.12,184.12 L1161.63,184.17 L1162.13,184.23 L1162.64,184.30 L1163.14,184.36 L1163.65,184.43 L1164.16,184.50 L1164.66,184.57 L1165.17,184.64 L1165.68,184.72 L1166.18,184.79 L1166.43,184.82 L1166.68,184.86 L1166.93,184.89 L1167.18,184.93 L1167.43,184.96 L1167.68,185.00 L1167.93,185.04 L1168.18,185.08 L1168.43,185.12 L1168.68,185.17 L1168.93,185.22 L1169.17,185.27 L1169.42,185.33 L1169.67,185.39 L1169.92,185.45 L1170.17,185.52 L1170.35,185.58 L1170.53,185.64 L1170.71,185.72 L1170.89,185.80 L1171.07,185.90 L1171.25,185.99 L1171.43,186.10 L1171.61,186.21 L1171.79,186.33 L1171.97,186.45 L1172.15,186.57 L1172.33,186.70 L1172.51,186.83 L1172.69,186.96 L1172.87,187.09 L1173.05,187.23 L1173.17,187.32 L1173.29,187.41 L1173.41,187.51 L1173.54,187.61 L1173.66,187.71 L1173.78,187.81 L1173.90,187.92 L1174.03,188.03 L1174.15,188.14 L1174.27,188.26 L1174.39,188.38 L1174.52,188.51 L1174.64,188.65 L1174.76,188.79 L1174.89,188.93 L1175.01,189.08 L1175.11,189.22 L1175.21,189.36 L1175.31,189.52 L1175.42,189.68 L1175.52,189.86 L1175.62,190.04 L1175.72,190.23 L1175.82,190.42 L1175.93,190.62 L1176.03,190.83 L1176.13,191.04 L1176.23,191.25 L1176.34,191.46 L1176.44,191.68 L1176.54,191.89 L1176.64,192.11 L1176.72,192.27 L1176.80,192.44 L1176.87,192.60 L1176.95,192.77 L1177.03,192.94 L1177.11,193.11 L1177.18,193.29 L1177.26,193.47 L1177.34,193.65 L1177.42,193.84 L1177.50,194.03 L1177.57,194.23 L1177.65,194.44 L1177.73,194.65 L1177.81,194.86 L1177.88,195.08 L1177.95,195.28 L1178.01,195.49 L1178.08,195.70 L1178.14,195.92 L1178.21,196.15 L1178.28,196.39 L1178.34,196.63 L1178.41,196.87 L1178.47,197.12 L1178.54,197.38 L1178.60,197.64 L1178.67,197.89 L1178.73,198.16 L1178.80,198.42 L1178.86,198.68 L1178.93,198.94 L1178.99,199.19 L1179.05,199.44 L1179.11,199.70 L1179.17,199.97 L1179.24,200.24 L1179.30,200.52 L1179.36,200.79 L1179.42,201.07 L1179.48,201.34 L1179.54,201.62 L1179.60,201.89 L1179.66,202.16 L1179.73,202.43 L1179.79,202.69 L1179.85,202.94 L1179.91,203.19 L1179.97,203.43 L1180.03,203.68 L1180.09,203.94 L1180.15,204.20 L1180.22,204.46 L1180.28,204.72 L1180.34,204.98 L1180.40,205.23 L1180.46,205.47 L1180.52,205.70 L1180.58,205.92 L1180.64,206.12 L1180.71,206.31 L1180.77,206.48 L1180.83,206.62 L1180.89,206.75 L1180.96,206.87 L1181.02,206.99 L1181.09,207.10 L1181.15,207.22 L1181.22,207.32 L1181.28,207.43 L1181.35,207.53 L1181.41,207.62 L1181.48,207.71 L1181.54,207.78 L1181.61,207.85 L1181.67,207.91 L1181.74,207.95 L1181.81,207.99 L1181.87,208.01 L1181.94,208.02 L1182.10,208.01 L1182.25,207.99 L1182.41,207.97 L1182.57,207.93 L1182.73,207.89 L1182.89,207.85 L1183.05,207.80 L1183.21,207.75 L1183.37,207.70 L1183.53,207.65 L1183.69,207.60 L1183.85,207.56 L1184.01,207.53 L1184.17,207.50 L1184.33,207.49 L1184.48,207.48 L1185.79,207.48 L1187.10,207.48 L1188.41,207.48 L1189.71,207.48 L1191.02,207.48 L1192.33,207.48 L1193.64,207.48 L1194.94,207.48 L1196.25,207.48 L1197.56,207.48 L1198.86,207.48 L1200.17,207.48 L1201.48,207.48 L1202.79,207.48 L1204.09,207.48 L1205.40,207.48 L1205.49,207.48 L1205.58,207.46 L1205.67,207.44 L1205.76,207.42 L1205.85,207.38 L1205.94,207.34 L1206.03,207.30 L1206.12,207.25 L1206.21,207.20 L1206.30,207.15 L1206.39,207.09 L1206.48,207.03 L1206.57,206.97 L1206.66,206.91 L1206.75,206.85 L1206.84,206.80 L1206.96,206.71 L1207.08,206.62 L1207.21,206.52 L1207.33,206.41 L1207.45,206.30 L1207.57,206.18 L1207.70,206.05 L1207.82,205.92 L1207.94,205.78 L1208.06,205.64 L1208.19,205.50 L1208.31,205.36 L1208.43,205.22 L1208.55,205.08 L1208.68,204.94 L1208.80,204.80 L1208.95,204.61 L1209.11,204.42 L1209.26,204.22 L1209.42,204.00 L1209.57,203.79 L1209.73,203.57 L1209.89,203.34 L1210.04,203.12 L1210.20,202.90 L1210.35,202.69 L1210.51,202.48 L1210.66,202.28 L1210.82,202.10 L1210.97,201.92 L1211.13,201.77 L1211.28,201.62 L1211.36,201.56 L1211.44,201.49 L1211.52,201.42 L1211.59,201.35 L1211.67,201.28 L1211.75,201.21 L1211.83,201.14 L1211.90,201.08 L1211.98,201.02 L1212.06,200.96 L1212.14,200.92 L1212.21,200.87 L1212.29,200.84 L1212.37,200.82 L1212.45,200.80 L1212.52,200.79 L1212.58,200.80 L1212.63,200.82 L1212.68,200.84 L1212.74,200.88 L1212.79,200.93 L1212.84,200.98 L1212.90,201.05 L1212.95,201.12 L1213.00,201.20 L1213.06,201.28 L1213.11,201.37 L1213.16,201.46 L1213.21,201.56 L1213.27,201.66 L1213.32,201.76 L1213.37,201.87 L1213.42,201.97 L1213.46,202.08 L1213.51,202.21 L1213.55,202.36 L1213.60,202.53 L1213.64,202.70 L1213.69,202.89 L1213.73,203.10 L1213.78,203.31 L1213.82,203.54 L1213.87,203.77 L1213.91,204.02 L1213.96,204.28 L1214.00,204.54 L1214.05,204.81 L1214.09,205.09 L1214.15,205.50 L1214.22,205.97 L1214.28,206.49 L1214.34,207.06 L1214.40,207.67 L1214.46,208.32 L1214.52,209.00 L1214.58,209.71 L1214.64,210.45 L1214.71,211.22 L1214.77,212.00 L1214.83,212.79 L1214.89,213.60 L1214.95,214.40 L1215.01,215.21 L1215.07,216.02 L1215.13,216.77 L1215.19,217.53 L1215.24,218.30 L1215.30,219.09 L1215.36,219.89 L1215.42,220.71 L1215.47,221.55 L1215.53,222.41 L1215.59,223.30 L1215.65,224.22 L1215.70,225.17 L1215.76,226.16 L1215.82,227.18 L1215.87,228.25 L1215.93,229.36 L1215.99,230.51 L1216.05,231.75 L1216.10,233.10 L1216.16,234.56 L1216.22,236.10 L1216.27,237.73 L1216.33,239.42 L1216.39,241.16 L1216.45,242.95 L1216.50,244.77 L1216.56,246.62 L1216.62,248.47 L1216.67,250.33 L1216.73,252.17 L1216.79,253.99 L1216.85,255.77 L1216.90,257.50 L1216.96,259.16 L1217.02,260.75 L1217.07,262.28 L1217.13,263.77 L1217.19,265.24 L1217.25,266.70 L1217.30,268.18 L1217.36,269.69 L1217.42,271.25 L1217.48,272.88 L1217.53,274.60 L1217.59,276.42 L1217.65,278.37 L1217.70,280.45 L1217.76,282.70 L1217.82,285.12 L1217.87,287.77 L1217.92,290.97 L1217.98,294.67 L1218.03,298.78 L1218.08,303.23 L1218.14,307.94 L1218.19,312.84 L1218.24,317.84 L1218.30,322.87 L1218.35,327.87 L1218.40,332.74 L1218.46,337.42 L1218.51,341.83 L1218.56,345.89 L1218.61,349.52 L1218.67,352.66 L1218.70,354.16 L1218.73,355.59 L1218.75,356.96 L1218.78,358.26 L1218.81,359.52 L1218.84,360.73 L1218.87,361.91 L1218.90,363.06 L1218.93,364.19 L1218.95,365.31 L1218.98,366.43 L1219.01,367.54 L1219.04,368.67 L1219.07,369.81 L1219.10,370.98 L1219.13,372.18" fill="none" stroke="#d70000" stroke-width="3.50" stroke-linecap="round" stroke-linejoin="round" clip-path="url(#cp02)"/><path d="M1140.04,293.71 L1140.08,293.66 L1140.12,293.61 L1140.16,293.56 L1140.20,293.51 L1140.24,293.45 L1140.29,293.40 L1140.33,293.35 L1140.37,293.30 L1140.41,293.25 L1140.45,293.20 L1140.49,293.15 L1140.53,293.10 L1140.57,293.04 L1140.61,292.99 L1140.65,292.94 L1140.69,292.88 L1140.78,292.77 L1140.86,292.65 L1140.94,292.53 L1141.02,292.41 L1141.10,292.29 L1141.18,292.16 L1141.27,292.03 L1141.35,291.91 L1141.43,291.78 L1141.51,291.65 L1141.59,291.52 L1141.67,291.39 L1141.76,291.26 L1141.84,291.13 L1141.92,291.01 L1142.00,290.88 L1142.49,290.35 L1142.98,289.81 L1143.47,289.28 L1143.96,288.74 L1144.45,288.21 L1144.94,287.67 L1145.43,287.14 L1145.92,286.60 L1146.41,286.07 L1146.90,285.53 L1147.39,285.00 L1147.88,284.48 L1148.37,283.95 L1148.86,283.43 L1149.35,282.90 L1149.84,282.39 L1150.36,281.85 L1150.87,281.33 L1151.39,280.82 L1151.90,280.31 L1152.42,279.81 L1152.93,279.32 L1153.45,278.82 L1153.96,278.32 L1154.48,277.82 L1154.99,277.31 L1155.51,276.79 L1156.02,276.26 L1156.54,275.72 L1157.05,275.16 L1157.56,274.59 L1158.08,273.99 L1158.59,273.40 L1159.09,272.80 L1159.60,272.19 L1160.11,271.58 L1160.61,270.95 L1161.12,270.31 L1161.63,269.66 L1162.13,268.99 L1162.64,268.30 L1163.14,267.59 L1163.65,266.85 L1164.16,266.09 L1164.66,265.30 L1165.17,264.47 L1165.68,263.62 L1166.18,262.72 L1166.54,262.07 L1166.89,261.39 L1167.24,260.67 L1167.59,259.92 L1167.94,259.14 L1168.29,258.33 L1168.64,257.50 L1168.99,256.64 L1169.35,255.75 L1169.70,254.85 L1170.05,253.92 L1170.40,252.97 L1170.75,252.00 L1171.10,251.02 L1171.45,250.02 L1171.80,249.01 L1172.06,248.25 L1172.32,247.48 L1172.58,246.70 L1172.83,245.89 L1173.09,245.07 L1173.35,244.23 L1173.61,243.37 L1173.86,242.49 L1174.12,241.59 L1174.38,240.66 L1174.64,239.72 L1174.89,238.74 L1175.15,237.75 L1175.41,236.73 L1175.67,235.68 L1175.92,234.61 L1176.10,233.83 L1176.27,232.97 L1176.45,232.05 L1176.63,231.07 L1176.80,230.06 L1176.98,229.02 L1177.15,227.97 L1177.33,226.93 L1177.50,225.89 L1177.68,224.88 L1177.85,223.92 L1178.03,223.00 L1178.21,222.15 L1178.38,221.38 L1178.56,220.70 L1178.73,220.12 L1178.81,219.90 L1178.88,219.69 L1178.95,219.48 L1179.03,219.28 L1179.10,219.08 L1179.17,218.89 L1179.25,218.70 L1179.32,218.53 L1179.39,218.36 L1179.47,218.20 L1179.54,218.05 L1179.62,217.91 L1179.69,217.79 L1179.76,217.67 L1179.84,217.57 L1179.91,217.48 L1179.96,217.43 L1180.01,217.38 L1180.06,217.32 L1180.11,217.27 L1180.15,217.22 L1180.20,217.17 L1180.25,217.13 L1180.30,217.08 L1180.35,217.05 L1180.40,217.01 L1180.45,216.98 L1180.50,216.95 L1180.55,216.93 L1180.60,216.91 L1180.64,216.90 L1180.69,216.90 L1180.77,216.91 L1180.84,216.94 L1180.91,216.98 L1180.99,217.03 L1181.06,217.10 L1181.14,217.18 L1181.21,217.26 L1181.28,217.35 L1181.36,217.44 L1181.43,217.53 L1181.50,217.62 L1181.58,217.71 L1181.65,217.79 L1181.72,217.86 L1181.80,217.92 L1181.87,217.97 L1181.95,218.02 L1182.03,218.07 L1182.10,218.11 L1182.18,218.16 L1182.26,218.20 L1182.34,218.25 L1182.41,218.29 L1182.49,218.33 L1182.57,218.37 L1182.65,218.40 L1182.72,218.43 L1182.80,218.46 L1182.88,218.48 L1182.96,218.50 L1183.03,218.51 L1183.11,218.51 L1183.28,218.51 L1183.45,218.51 L1183.61,218.50 L1183.78,218.49 L1183.95,218.49 L1184.12,218.48 L1184.28,218.47 L1184.45,218.46 L1184.62,218.45 L1184.79,218.45 L1184.95,218.44 L1185.12,218.43 L1185.29,218.42 L1185.46,218.42 L1185.62,218.41 L1185.79,218.41 L1187.02,218.40 L1188.24,218.39 L1189.47,218.38 L1190.69,218.37 L1191.92,218.36 L1193.14,218.35 L1194.37,218.34 L1195.60,218.34 L1196.82,218.33 L1198.05,218.33 L1199.27,218.32 L1200.50,218.32 L1201.72,218.32 L1202.95,218.31 L1204.17,218.31 L1205.40,218.31 L1205.48,218.31 L1205.56,218.32 L1205.65,218.32 L1205.73,218.33 L1205.81,218.34 L1205.89,218.35 L1205.97,218.37 L1206.05,218.38 L1206.14,218.40 L1206.22,218.42 L1206.30,218.44 L1206.38,218.46 L1206.46,218.48 L1206.54,218.51 L1206.63,218.53 L1206.71,218.56 L1206.79,218.59 L1206.87,218.64 L1206.95,218.69 L1207.03,218.76 L1207.12,218.84 L1207.20,218.93 L1207.28,219.02 L1207.36,219.13 L1207.44,219.24 L1207.52,219.35 L1207.61,219.47 L1207.69,219.60 L1207.77,219.73 L1207.85,219.86 L1207.93,219.99 L1208.01,220.12 L1208.10,220.26 L1208.18,220.41 L1208.26,220.57 L1208.34,220.74 L1208.42,220.93 L1208.50,221.12 L1208.59,221.32 L1208.67,221.53 L1208.75,221.74 L1208.83,221.96 L1208.91,222.18 L1208.99,222.41 L1209.08,222.64 L1209.16,222.87 L1209.24,223.11 L1209.32,223.34 L1209.40,223.55 L1209.47,223.75 L1209.54,223.95 L1209.62,224.15 L1209.69,224.36 L1209.76,224.57 L1209.84,224.78 L1209.91,225.00 L1209.98,225.24 L1210.06,225.48 L1210.13,225.74 L1210.20,226.01 L1210.28,226.30 L1210.35,226.61 L1210.42,226.94 L1210.50,227.29 L1210.58,227.71 L1210.65,228.17 L1210.73,228.69 L1210.81,229.26 L1210.89,229.88 L1210.96,230.54 L1211.04,231.25 L1211.12,232.01 L1211.20,232.80 L1211.27,233.64 L1211.35,234.51 L1211.43,235.42 L1211.51,236.37 L1211.58,237.35 L1211.66,238.36 L1211.74,239.40 L1211.79,240.09 L1211.84,240.84 L1211.89,241.65 L1211.94,242.50 L1211.99,243.41 L1212.03,244.35 L1212.08,245.34 L1212.13,246.37 L1212.18,247.42 L1212.23,248.51 L1212.28,249.63 L1212.33,250.77 L1212.38,251.93 L1212.43,253.10 L1212.48,254.30 L1212.52,255.50 L1212.57,256.71 L1212.62,257.92 L1212.67,259.14 L1212.72,260.39 L1212.77,261.66 L1212.82,262.97 L1212.87,264.32 L1212.92,265.72 L1212.97,267.18 L1213.01,268.70 L1213.06,270.30 L1213.11,271.97 L1213.16,273.73 L1213.21,275.58 L1213.26,277.54 L1213.31,279.61 L1213.33,280.75 L1213.36,282.03 L1213.38,283.45 L1213.41,284.97 L1213.43,286.58 L1213.46,288.26 L1213.48,290.00 L1213.50,291.76 L1213.53,293.55 L1213.55,295.32 L1213.58,297.08 L1213.60,298.79 L1213.63,300.44 L1213.65,302.01 L1213.68,303.48 L1213.70,304.84 L1213.74,306.94 L1213.78,308.95 L1213.82,310.88 L1213.86,312.75 L1213.90,314.55 L1213.95,316.30 L1213.99,318.01 L1214.03,319.69 L1214.07,321.35 L1214.11,322.99 L1214.15,324.63 L1214.19,326.28 L1214.23,327.95 L1214.27,329.64 L1214.31,331.37 L1214.35,333.14 L1214.40,334.94 L1214.44,336.75 L1214.48,338.57 L1214.52,340.39 L1214.56,342.22 L1214.60,344.05 L1214.64,345.88 L1214.68,347.72 L1214.72,349.56 L1214.76,351.40 L1214.80,353.24 L1214.84,355.08 L1214.89,356.92 L1214.93,358.75 L1214.97,360.59 L1215.01,362.42" fill="none" stroke="#2a5c0a" stroke-width="3.50" stroke-linecap="round" stroke-linejoin="round" clip-path="url(#cp02)"/><rect x="1281.24" y="253.90" width="185.60" height="89.00" fill="#fff" stroke="#000" stroke-width="1.7"/><line x1="1293.94" y1="271.90" x2="1322.24" y2="271.90" stroke="#d70000" stroke-width="2.3" stroke-dasharray="7.3 7.5"/><text x="1334.94" y="277.40" font-size="14.7">Teffs (no infection)</text><line x1="1293.94" y1="289.55" x2="1322.24" y2="289.55" stroke="#2a5c0a" stroke-width="2.3" stroke-dasharray="7.3 7.5"/><text x="1334.94" y="294.85" font-size="14.7">Tregs (no infection)</text><line x1="1295.24" y1="307.20" x2="1321.04" y2="307.20" stroke="#d70000" stroke-width="2.6" stroke-linecap="round"/><text x="1334.94" y="312.30" font-size="14.7">Teffs (infection)</text><line x1="1295.24" y1="324.85" x2="1321.04" y2="324.85" stroke="#2a5c0a" stroke-width="2.6" stroke-linecap="round"/><text x="1334.94" y="329.75" font-size="14.7">Tregs (infection)</text><rect x="1126.97" y="89.14" width="352.94" height="263.52" fill="none" stroke="#000" stroke-width="2.70" stroke-linejoin="round"/></g>
<g><line x1="1593.24" y1="342.90" x2="1575.44" y2="342.90" stroke="#000" stroke-width="2.60" stroke-linecap="round"/><text transform="translate(1572.24,343.50) scale(1,1.050)" font-size="32.0" text-anchor="end" dominant-baseline="central">0.01</text><line x1="1593.24" y1="294.10" x2="1575.44" y2="294.10" stroke="#000" stroke-width="2.60" stroke-linecap="round"/><text transform="translate(1572.24,294.70) scale(1,1.050)" font-size="32.0" text-anchor="end" dominant-baseline="central">0.1</text><line x1="1593.24" y1="245.30" x2="1575.44" y2="245.30" stroke="#000" stroke-width="2.60" stroke-linecap="round"/><text transform="translate(1572.24,245.90) scale(1,1.050)" font-size="32.0" text-anchor="end" dominant-baseline="central">1</text><line x1="1593.24" y1="196.50" x2="1575.44" y2="196.50" stroke="#000" stroke-width="2.60" stroke-linecap="round"/><text transform="translate(1572.24,197.10) scale(1,1.050)" font-size="32.0" text-anchor="end" dominant-baseline="central">10</text><line x1="1593.24" y1="147.70" x2="1575.44" y2="147.70" stroke="#000" stroke-width="2.60" stroke-linecap="round"/><text transform="translate(1572.24,148.30) scale(1,1.050)" font-size="32.0" text-anchor="end" dominant-baseline="central">100</text><line x1="1593.24" y1="98.90" x2="1575.44" y2="98.90" stroke="#000" stroke-width="2.60" stroke-linecap="round"/><text transform="translate(1572.24,99.50) scale(1,1.050)" font-size="32.0" text-anchor="end" dominant-baseline="central">1000</text><line x1="1606.31" y1="352.66" x2="1606.31" y2="370.46" stroke="#000" stroke-width="2.60" stroke-linecap="round"/><text transform="translate(1606.31,402.80) scale(1,1.050)" font-size="19.7" text-anchor="middle">0</text><line x1="1612.85" y1="352.66" x2="1612.85" y2="361.56" stroke="#000" stroke-width="2.00" stroke-linecap="round"/><line x1="1619.38" y1="352.66" x2="1619.38" y2="361.56" stroke="#000" stroke-width="2.00" stroke-linecap="round"/><line x1="1625.92" y1="352.66" x2="1625.92" y2="361.56" stroke="#000" stroke-width="2.00" stroke-linecap="round"/><line x1="1632.45" y1="352.66" x2="1632.45" y2="361.56" stroke="#000" stroke-width="2.00" stroke-linecap="round"/><line x1="1638.99" y1="352.66" x2="1638.99" y2="361.56" stroke="#000" stroke-width="2.00" stroke-linecap="round"/><line x1="1645.53" y1="352.66" x2="1645.53" y2="361.56" stroke="#000" stroke-width="2.00" stroke-linecap="round"/><line x1="1652.06" y1="352.66" x2="1652.06" y2="361.56" stroke="#000" stroke-width="2.00" stroke-linecap="round"/><line x1="1658.60" y1="352.66" x2="1658.60" y2="361.56" stroke="#000" stroke-width="2.00" stroke-linecap="round"/><line x1="1665.13" y1="352.66" x2="1665.13" y2="361.56" stroke="#000" stroke-width="2.00" stroke-linecap="round"/><line x1="1671.67" y1="352.66" x2="1671.67" y2="370.46" stroke="#000" stroke-width="2.60" stroke-linecap="round"/><text transform="translate(1671.67,402.80) scale(1,1.050)" font-size="19.7" text-anchor="middle">1000</text><line x1="1678.21" y1="352.66" x2="1678.21" y2="361.56" stroke="#000" stroke-width="2.00" stroke-linecap="round"/><line x1="1684.74" y1="352.66" x2="1684.74" y2="361.56" stroke="#000" stroke-width="2.00" stroke-linecap="round"/><line x1="1691.28" y1="352.66" x2="1691.28" y2="361.56" stroke="#000" stroke-width="2.00" stroke-linecap="round"/><line x1="1697.81" y1="352.66" x2="1697.81" y2="361.56" stroke="#000" stroke-width="2.00" stroke-linecap="round"/><line x1="1704.35" y1="352.66" x2="1704.35" y2="361.56" stroke="#000" stroke-width="2.00" stroke-linecap="round"/><line x1="1710.89" y1="352.66" x2="1710.89" y2="361.56" stroke="#000" stroke-width="2.00" stroke-linecap="round"/><line x1="1717.42" y1="352.66" x2="1717.42" y2="361.56" stroke="#000" stroke-width="2.00" stroke-linecap="round"/><line x1="1723.96" y1="352.66" x2="1723.96" y2="361.56" stroke="#000" stroke-width="2.00" stroke-linecap="round"/><line x1="1730.49" y1="352.66" x2="1730.49" y2="361.56" stroke="#000" stroke-width="2.00" stroke-linecap="round"/><line x1="1737.03" y1="352.66" x2="1737.03" y2="370.46" stroke="#000" stroke-width="2.60" stroke-linecap="round"/><text transform="translate(1737.03,402.80) scale(1,1.050)" font-size="19.7" text-anchor="middle">2000</text><line x1="1743.57" y1="352.66" x2="1743.57" y2="361.56" stroke="#000" stroke-width="2.00" stroke-linecap="round"/><line x1="1750.10" y1="352.66" x2="1750.10" y2="361.56" stroke="#000" stroke-width="2.00" stroke-linecap="round"/><line x1="1756.64" y1="352.66" x2="1756.64" y2="361.56" stroke="#000" stroke-width="2.00" stroke-linecap="round"/><line x1="1763.17" y1="352.66" x2="1763.17" y2="361.56" stroke="#000" stroke-width="2.00" stroke-linecap="round"/><line x1="1769.71" y1="352.66" x2="1769.71" y2="361.56" stroke="#000" stroke-width="2.00" stroke-linecap="round"/><line x1="1776.25" y1="352.66" x2="1776.25" y2="361.56" stroke="#000" stroke-width="2.00" stroke-linecap="round"/><line x1="1782.78" y1="352.66" x2="1782.78" y2="361.56" stroke="#000" stroke-width="2.00" stroke-linecap="round"/><line x1="1789.32" y1="352.66" x2="1789.32" y2="361.56" stroke="#000" stroke-width="2.00" stroke-linecap="round"/><line x1="1795.85" y1="352.66" x2="1795.85" y2="361.56" stroke="#000" stroke-width="2.00" stroke-linecap="round"/><line x1="1802.39" y1="352.66" x2="1802.39" y2="370.46" stroke="#000" stroke-width="2.60" stroke-linecap="round"/><text transform="translate(1802.39,402.80) scale(1,1.050)" font-size="19.7" text-anchor="middle">3000</text><line x1="1808.93" y1="352.66" x2="1808.93" y2="361.56" stroke="#000" stroke-width="2.00" stroke-linecap="round"/><line x1="1815.46" y1="352.66" x2="1815.46" y2="361.56" stroke="#000" stroke-width="2.00" stroke-linecap="round"/><line x1="1822.00" y1="352.66" x2="1822.00" y2="361.56" stroke="#000" stroke-width="2.00" stroke-linecap="round"/><line x1="1828.53" y1="352.66" x2="1828.53" y2="361.56" stroke="#000" stroke-width="2.00" stroke-linecap="round"/><line x1="1835.07" y1="352.66" x2="1835.07" y2="361.56" stroke="#000" stroke-width="2.00" stroke-linecap="round"/><line x1="1841.61" y1="352.66" x2="1841.61" y2="361.56" stroke="#000" stroke-width="2.00" stroke-linecap="round"/><line x1="1848.14" y1="352.66" x2="1848.14" y2="361.56" stroke="#000" stroke-width="2.00" stroke-linecap="round"/><line x1="1854.68" y1="352.66" x2="1854.68" y2="361.56" stroke="#000" stroke-width="2.00" stroke-linecap="round"/><line x1="1861.21" y1="352.66" x2="1861.21" y2="361.56" stroke="#000" stroke-width="2.00" stroke-linecap="round"/><line x1="1867.75" y1="352.66" x2="1867.75" y2="370.46" stroke="#000" stroke-width="2.60" stroke-linecap="round"/><text transform="translate(1867.75,402.80) scale(1,1.050)" font-size="19.7" text-anchor="middle">4000</text><line x1="1874.29" y1="352.66" x2="1874.29" y2="361.56" stroke="#000" stroke-width="2.00" stroke-linecap="round"/><line x1="1880.82" y1="352.66" x2="1880.82" y2="361.56" stroke="#000" stroke-width="2.00" stroke-linecap="round"/><line x1="1887.36" y1="352.66" x2="1887.36" y2="361.56" stroke="#000" stroke-width="2.00" stroke-linecap="round"/><line x1="1893.89" y1="352.66" x2="1893.89" y2="361.56" stroke="#000" stroke-width="2.00" stroke-linecap="round"/><line x1="1900.43" y1="352.66" x2="1900.43" y2="361.56" stroke="#000" stroke-width="2.00" stroke-linecap="round"/><line x1="1906.97" y1="352.66" x2="1906.97" y2="361.56" stroke="#000" stroke-width="2.00" stroke-linecap="round"/><line x1="1913.50" y1="352.66" x2="1913.50" y2="361.56" stroke="#000" stroke-width="2.00" stroke-linecap="round"/><line x1="1920.04" y1="352.66" x2="1920.04" y2="361.56" stroke="#000" stroke-width="2.00" stroke-linecap="round"/><line x1="1926.57" y1="352.66" x2="1926.57" y2="361.56" stroke="#000" stroke-width="2.00" stroke-linecap="round"/><line x1="1933.11" y1="352.66" x2="1933.11" y2="370.46" stroke="#000" stroke-width="2.60" stroke-linecap="round"/><text transform="translate(1933.11,402.80) scale(1,1.050)" font-size="19.7" text-anchor="middle">5000</text><line x1="1671.67" y1="89.14" x2="1671.67" y2="352.66" stroke="#000" stroke-width="2.10" stroke-dasharray="7.0 7.8" stroke-dashoffset="8.89"/><text x="1677.97" y="116.70" font-size="22.0">Infection</text><path d="M1671.67,226.76 L1933.11,226.76" fill="none" stroke="#d70000" stroke-width="2.20" stroke-dasharray="7.4 7.4" stroke-dashoffset="9.75" clip-path="url(#cp03)"/><path d="M1671.67,239.49 L1933.11,239.49" fill="none" stroke="#2a5c0a" stroke-width="2.20" stroke-dasharray="7.4 7.4" stroke-dashoffset="11.88" clip-path="url(#cp03)"/><path d="M1606.31,250.81 L1606.90,202.89 L1607.47,202.91 L1608.05,202.94 L1608.63,202.96 L1609.20,202.98 L1609.78,203.00 L1610.35,203.02 L1610.93,203.04 L1611.51,203.06 L1612.08,203.08 L1612.66,203.10 L1613.23,203.13 L1613.81,203.15 L1614.39,203.17 L1614.96,203.19 L1615.54,203.21 L1616.11,203.23 L1617.15,203.27 L1618.19,203.31 L1619.23,203.33 L1620.26,203.36 L1621.30,203.39 L1622.34,203.41 L1623.38,203.44 L1624.41,203.47 L1625.45,203.50 L1626.49,203.54 L1627.53,203.58 L1628.57,203.63 L1629.60,203.69 L1630.64,203.75 L1631.68,203.83 L1632.72,203.92 L1632.99,203.95 L1633.25,204.00 L1633.52,204.07 L1633.79,204.16 L1634.06,204.26 L1634.33,204.37 L1634.60,204.49 L1634.87,204.62 L1635.14,204.76 L1635.41,204.90 L1635.68,205.05 L1635.95,205.19 L1636.22,205.34 L1636.49,205.49 L1636.76,205.63 L1637.03,205.77 L1637.19,205.85 L1637.35,205.93 L1637.51,206.01 L1637.67,206.09 L1637.83,206.17 L1637.99,206.25 L1638.14,206.33 L1638.30,206.42 L1638.46,206.51 L1638.62,206.60 L1638.78,206.70 L1638.94,206.80 L1639.10,206.91 L1639.26,207.03 L1639.42,207.15 L1639.58,207.28 L1639.68,207.38 L1639.79,207.49 L1639.90,207.60 L1640.00,207.72 L1640.11,207.85 L1640.22,207.99 L1640.32,208.13 L1640.43,208.28 L1640.53,208.44 L1640.64,208.60 L1640.75,208.77 L1640.85,208.94 L1640.96,209.12 L1641.07,209.30 L1641.17,209.49 L1641.28,209.68 L1641.36,209.83 L1641.44,209.98 L1641.52,210.15 L1641.60,210.32 L1641.69,210.50 L1641.77,210.68 L1641.85,210.88 L1641.93,211.07 L1642.01,211.27 L1642.09,211.48 L1642.18,211.69 L1642.26,211.90 L1642.34,212.12 L1642.42,212.35 L1642.50,212.57 L1642.58,212.80 L1642.69,213.09 L1642.79,213.40 L1642.89,213.72 L1642.99,214.04 L1643.10,214.38 L1643.20,214.73 L1643.30,215.08 L1643.40,215.44 L1643.50,215.81 L1643.61,216.18 L1643.71,216.56 L1643.81,216.94 L1643.91,217.32 L1644.01,217.70 L1644.12,218.08 L1644.22,218.46 L1644.30,218.77 L1644.38,219.09 L1644.46,219.43 L1644.55,219.77 L1644.63,220.11 L1644.71,220.46 L1644.79,220.81 L1644.87,221.16 L1644.95,221.51 L1645.04,221.85 L1645.12,222.19 L1645.20,222.51 L1645.28,222.83 L1645.36,223.13 L1645.44,223.41 L1645.53,223.68 L1645.62,223.99 L1645.71,224.30 L1645.81,224.63 L1645.90,224.96 L1646.00,225.29 L1646.09,225.61 L1646.18,225.93 L1646.28,226.23 L1646.37,226.51 L1646.47,226.77 L1646.56,227.00 L1646.65,227.20 L1646.75,227.36 L1646.84,227.48 L1646.94,227.56 L1647.03,227.59 L1647.10,227.58 L1647.17,227.56 L1647.24,227.54 L1647.31,227.50 L1647.38,227.46 L1647.45,227.41 L1647.52,227.36 L1647.58,227.31 L1647.65,227.26 L1647.72,227.21 L1647.79,227.16 L1647.86,227.11 L1647.93,227.07 L1648.00,227.04 L1648.07,227.01 L1648.14,227.00 L1648.39,226.97 L1648.63,226.94 L1648.88,226.91 L1649.12,226.89 L1649.37,226.87 L1649.61,226.85 L1649.86,226.83 L1650.10,226.81 L1650.35,226.80 L1650.59,226.79 L1650.84,226.78 L1651.08,226.77 L1651.33,226.76 L1651.57,226.76 L1651.82,226.76 L1652.06,226.76 L1653.29,226.76 L1654.51,226.76 L1655.74,226.76 L1656.96,226.76 L1658.19,226.76 L1659.41,226.76 L1660.64,226.76 L1661.87,226.76 L1663.09,226.76 L1664.32,226.76 L1665.54,226.76 L1666.77,226.76 L1667.99,226.76 L1669.22,226.76 L1670.44,226.76 L1671.67,226.76 L1671.79,226.75 L1671.92,226.72 L1672.04,226.67 L1672.16,226.61 L1672.28,226.53 L1672.41,226.43 L1672.53,226.32 L1672.65,226.20 L1672.77,226.06 L1672.90,225.91 L1673.02,225.75 L1673.14,225.58 L1673.26,225.40 L1673.39,225.21 L1673.51,225.01 L1673.63,224.80 L1673.71,224.65 L1673.79,224.45 L1673.86,224.20 L1673.94,223.92 L1674.02,223.61 L1674.10,223.27 L1674.17,222.91 L1674.25,222.53 L1674.33,222.14 L1674.41,221.75 L1674.48,221.35 L1674.56,220.95 L1674.64,220.56 L1674.72,220.18 L1674.80,219.82 L1674.87,219.48 L1675.00,218.94 L1675.13,218.39 L1675.25,217.82 L1675.38,217.24 L1675.51,216.66 L1675.63,216.08 L1675.76,215.51 L1675.89,214.94 L1676.01,214.39 L1676.14,213.85 L1676.27,213.32 L1676.39,212.83 L1676.52,212.35 L1676.65,211.91 L1676.77,211.51 L1676.90,211.14 L1677.00,210.86 L1677.10,210.56 L1677.21,210.27 L1677.31,209.98 L1677.41,209.69 L1677.51,209.40 L1677.61,209.13 L1677.72,208.87 L1677.82,208.63 L1677.92,208.41 L1678.02,208.22 L1678.12,208.05 L1678.23,207.91 L1678.33,207.81 L1678.43,207.75 L1678.53,207.72 L1678.61,207.74 L1678.70,207.78 L1678.78,207.84 L1678.86,207.92 L1678.94,208.03 L1679.02,208.16 L1679.10,208.30 L1679.19,208.46 L1679.27,208.64 L1679.35,208.83 L1679.43,209.03 L1679.51,209.24 L1679.59,209.46 L1679.68,209.69 L1679.76,209.92 L1679.84,210.16 L1679.93,210.46 L1680.02,210.82 L1680.11,211.24 L1680.20,211.71 L1680.29,212.24 L1680.38,212.82 L1680.47,213.45 L1680.56,214.13 L1680.65,214.84 L1680.74,215.61 L1680.83,216.41 L1680.92,217.24 L1681.01,218.11 L1681.10,219.01 L1681.19,219.94 L1681.28,220.90 L1681.33,221.52 L1681.38,222.22 L1681.44,223.01 L1681.49,223.85 L1681.54,224.76 L1681.60,225.71 L1681.65,226.69 L1681.70,227.70 L1681.76,228.73 L1681.81,229.77 L1681.86,230.80 L1681.92,231.81 L1681.97,232.81 L1682.02,233.76 L1682.07,234.68 L1682.13,235.54 L1682.18,236.40 L1682.24,237.21 L1682.30,237.98 L1682.36,238.71 L1682.41,239.42 L1682.47,240.11 L1682.53,240.80 L1682.59,241.50 L1682.64,242.22 L1682.70,242.97 L1682.76,243.75 L1682.81,244.58 L1682.87,245.48 L1682.93,246.44 L1682.99,247.48 L1683.04,248.62 L1683.11,250.06 L1683.17,251.67 L1683.24,253.45 L1683.30,255.40 L1683.37,257.49 L1683.43,259.74 L1683.50,262.13 L1683.57,264.67 L1683.63,267.33 L1683.70,270.12 L1683.76,273.04 L1683.83,276.06 L1683.89,279.20 L1683.96,282.45 L1684.02,285.79 L1684.09,289.22 L1684.14,292.04 L1684.19,295.27 L1684.24,298.83 L1684.28,302.69 L1684.33,306.78 L1684.38,311.06 L1684.43,315.46 L1684.48,319.94 L1684.53,324.45 L1684.58,328.93 L1684.63,333.32 L1684.68,337.58 L1684.73,341.64 L1684.77,345.47 L1684.82,349.00 L1684.87,352.17 L1684.90,353.63 L1684.92,355.04 L1684.95,356.40 L1684.97,357.72 L1685.00,359.00 L1685.02,360.24 L1685.04,361.46 L1685.07,362.66 L1685.09,363.84 L1685.12,365.02 L1685.14,366.19 L1685.17,367.36 L1685.19,368.54 L1685.22,369.73 L1685.24,370.94 L1685.26,372.18" fill="none" stroke="#d70000" stroke-width="3.50" stroke-linecap="round" stroke-linejoin="round" clip-path="url(#cp03)"/><path d="M1606.31,345.83 L1606.90,313.28 L1607.39,312.66 L1607.89,312.04 L1608.38,311.41 L1608.88,310.79 L1609.37,310.16 L1609.86,309.54 L1610.36,308.91 L1610.85,308.29 L1611.35,307.66 L1611.84,307.04 L1612.34,306.42 L1612.83,305.80 L1613.32,305.19 L1613.82,304.58 L1614.31,303.97 L1614.81,303.37 L1615.31,302.77 L1615.80,302.18 L1616.30,301.59 L1616.80,301.01 L1617.30,300.43 L1617.80,299.85 L1618.30,299.28 L1618.79,298.71 L1619.29,298.13 L1619.79,297.55 L1620.29,296.98 L1620.79,296.39 L1621.29,295.81 L1621.78,295.21 L1622.28,294.61 L1622.78,294.00 L1623.40,293.25 L1624.02,292.51 L1624.64,291.79 L1625.26,291.07 L1625.89,290.35 L1626.51,289.63 L1627.13,288.91 L1627.75,288.17 L1628.37,287.41 L1628.99,286.62 L1629.61,285.81 L1630.23,284.96 L1630.85,284.07 L1631.47,283.14 L1632.09,282.16 L1632.72,281.12 L1633.08,280.47 L1633.45,279.80 L1633.82,279.09 L1634.19,278.36 L1634.55,277.59 L1634.92,276.80 L1635.29,275.97 L1635.66,275.12 L1636.02,274.23 L1636.39,273.32 L1636.76,272.37 L1637.13,271.40 L1637.49,270.40 L1637.86,269.37 L1638.23,268.30 L1638.60,267.21 L1638.85,266.44 L1639.10,265.62 L1639.35,264.76 L1639.59,263.86 L1639.84,262.92 L1640.09,261.96 L1640.34,260.96 L1640.59,259.95 L1640.84,258.91 L1641.09,257.86 L1641.34,256.79 L1641.59,255.72 L1641.84,254.64 L1642.09,253.56 L1642.34,252.47 L1642.58,251.40 L1642.71,250.87 L1642.83,250.32 L1642.95,249.76 L1643.08,249.19 L1643.20,248.62 L1643.32,248.03 L1643.44,247.45 L1643.57,246.86 L1643.69,246.28 L1643.81,245.70 L1643.93,245.12 L1644.06,244.55 L1644.18,243.99 L1644.30,243.43 L1644.42,242.90 L1644.55,242.37 L1644.61,242.10 L1644.67,241.81 L1644.73,241.51 L1644.79,241.19 L1644.85,240.87 L1644.91,240.55 L1644.97,240.23 L1645.04,239.93 L1645.10,239.64 L1645.16,239.37 L1645.22,239.13 L1645.28,238.93 L1645.34,238.75 L1645.40,238.63 L1645.46,238.54 L1645.53,238.52 L1645.59,238.53 L1645.65,238.56 L1645.71,238.60 L1645.77,238.66 L1645.83,238.73 L1645.89,238.81 L1645.95,238.89 L1646.02,238.97 L1646.08,239.06 L1646.14,239.14 L1646.20,239.22 L1646.26,239.29 L1646.32,239.35 L1646.38,239.40 L1646.45,239.43 L1646.51,239.44 L1646.65,239.45 L1646.79,239.46 L1646.94,239.46 L1647.08,239.47 L1647.22,239.47 L1647.36,239.48 L1647.51,239.48 L1647.65,239.48 L1647.79,239.48 L1647.94,239.49 L1648.08,239.49 L1648.22,239.49 L1648.37,239.49 L1648.51,239.49 L1648.65,239.49 L1648.79,239.49 L1650.22,239.49 L1651.65,239.49 L1653.08,239.49 L1654.51,239.49 L1655.94,239.49 L1657.37,239.49 L1658.80,239.49 L1660.23,239.49 L1661.66,239.49 L1663.09,239.49 L1664.52,239.49 L1665.95,239.49 L1667.38,239.49 L1668.81,239.49 L1670.24,239.49 L1671.67,239.49 L1671.79,239.50 L1671.92,239.51 L1672.04,239.53 L1672.16,239.56 L1672.28,239.60 L1672.41,239.64 L1672.53,239.70 L1672.65,239.76 L1672.77,239.82 L1672.90,239.89 L1673.02,239.97 L1673.14,240.05 L1673.26,240.14 L1673.39,240.23 L1673.51,240.32 L1673.63,240.42 L1673.71,240.49 L1673.79,240.59 L1673.86,240.70 L1673.94,240.83 L1674.02,240.97 L1674.10,241.13 L1674.17,241.30 L1674.25,241.48 L1674.33,241.67 L1674.41,241.88 L1674.48,242.08 L1674.56,242.30 L1674.64,242.52 L1674.72,242.75 L1674.80,242.97 L1674.87,243.20 L1674.96,243.46 L1675.04,243.75 L1675.13,244.05 L1675.22,244.37 L1675.30,244.71 L1675.39,245.06 L1675.47,245.43 L1675.56,245.81 L1675.64,246.20 L1675.73,246.61 L1675.82,247.02 L1675.90,247.45 L1675.99,247.88 L1676.07,248.31 L1676.16,248.76 L1676.25,249.20 L1676.33,249.63 L1676.41,250.04 L1676.49,250.45 L1676.57,250.86 L1676.65,251.28 L1676.74,251.71 L1676.82,252.15 L1676.90,252.62 L1676.98,253.11 L1677.06,253.63 L1677.14,254.19 L1677.23,254.79 L1677.31,255.44 L1677.39,256.13 L1677.47,256.88 L1677.55,257.70 L1677.61,258.40 L1677.67,259.25 L1677.74,260.23 L1677.80,261.33 L1677.86,262.54 L1677.92,263.84 L1677.98,265.22 L1678.04,266.68 L1678.10,268.19 L1678.17,269.75 L1678.23,271.35 L1678.29,272.97 L1678.35,274.60 L1678.41,276.24 L1678.47,277.86 L1678.53,279.46 L1678.58,280.73 L1678.63,282.01 L1678.68,283.30 L1678.73,284.62 L1678.78,285.95 L1678.83,287.31 L1678.88,288.71 L1678.92,290.14 L1678.97,291.61 L1679.02,293.12 L1679.07,294.68 L1679.12,296.30 L1679.17,297.97 L1679.22,299.70 L1679.27,301.50 L1679.32,303.37 L1679.38,305.88 L1679.44,308.61 L1679.50,311.54 L1679.56,314.66 L1679.62,317.93 L1679.68,321.33 L1679.75,324.85 L1679.81,328.45 L1679.87,332.11 L1679.93,335.82 L1679.99,339.53 L1680.05,343.25 L1680.11,346.92 L1680.17,350.55 L1680.24,354.10 L1680.30,357.54" fill="none" stroke="#2a5c0a" stroke-width="3.50" stroke-linecap="round" stroke-linejoin="round" clip-path="url(#cp03)"/><rect x="1747.51" y="253.90" width="185.60" height="89.00" fill="#fff" stroke="#000" stroke-width="1.7"/><line x1="1760.21" y1="271.90" x2="1788.51" y2="271.90" stroke="#d70000" stroke-width="2.3" stroke-dasharray="7.3 7.5"/><text x="1801.21" y="277.40" font-size="14.7">Teffs (no infection)</text><line x1="1760.21" y1="289.55" x2="1788.51" y2="289.55" stroke="#2a5c0a" stroke-width="2.3" stroke-dasharray="7.3 7.5"/><text x="1801.21" y="294.85" font-size="14.7">Tregs (no infection)</text><line x1="1761.51" y1="307.20" x2="1787.31" y2="307.20" stroke="#d70000" stroke-width="2.6" stroke-linecap="round"/><text x="1801.21" y="312.30" font-size="14.7">Teffs (infection)</text><line x1="1761.51" y1="324.85" x2="1787.31" y2="324.85" stroke="#2a5c0a" stroke-width="2.6" stroke-linecap="round"/><text x="1801.21" y="329.75" font-size="14.7">Tregs (infection)</text><rect x="1593.24" y="89.14" width="352.94" height="263.52" fill="none" stroke="#000" stroke-width="2.70" stroke-linejoin="round"/></g>
<g><line x1="194.43" y1="712.73" x2="176.63" y2="712.73" stroke="#000" stroke-width="2.60" stroke-linecap="round"/><text transform="translate(173.43,713.33) scale(1,1.050)" font-size="32.0" text-anchor="end" dominant-baseline="central">0.00</text><line x1="194.43" y1="651.73" x2="176.63" y2="651.73" stroke="#000" stroke-width="2.60" stroke-linecap="round"/><text transform="translate(173.43,652.33) scale(1,1.050)" font-size="32.0" text-anchor="end" dominant-baseline="central">0.25</text><line x1="194.43" y1="590.73" x2="176.63" y2="590.73" stroke="#000" stroke-width="2.60" stroke-linecap="round"/><text transform="translate(173.43,591.33) scale(1,1.050)" font-size="32.0" text-anchor="end" dominant-baseline="central">0.50</text><line x1="194.43" y1="529.73" x2="176.63" y2="529.73" stroke="#000" stroke-width="2.60" stroke-linecap="round"/><text transform="translate(173.43,530.33) scale(1,1.050)" font-size="32.0" text-anchor="end" dominant-baseline="central">0.75</text><line x1="194.43" y1="468.73" x2="176.63" y2="468.73" stroke="#000" stroke-width="2.60" stroke-linecap="round"/><text transform="translate(173.43,469.33) scale(1,1.050)" font-size="32.0" text-anchor="end" dominant-baseline="central">1.00</text><line x1="194.43" y1="700.53" x2="185.53" y2="700.53" stroke="#000" stroke-width="2.00" stroke-linecap="round"/><line x1="194.43" y1="688.33" x2="185.53" y2="688.33" stroke="#000" stroke-width="2.00" stroke-linecap="round"/><line x1="194.43" y1="676.13" x2="185.53" y2="676.13" stroke="#000" stroke-width="2.00" stroke-linecap="round"/><line x1="194.43" y1="663.93" x2="185.53" y2="663.93" stroke="#000" stroke-width="2.00" stroke-linecap="round"/><line x1="194.43" y1="639.53" x2="185.53" y2="639.53" stroke="#000" stroke-width="2.00" stroke-linecap="round"/><line x1="194.43" y1="627.33" x2="185.53" y2="627.33" stroke="#000" stroke-width="2.00" stroke-linecap="round"/><line x1="194.43" y1="615.13" x2="185.53" y2="615.13" stroke="#000" stroke-width="2.00" stroke-linecap="round"/><line x1="194.43" y1="602.93" x2="185.53" y2="602.93" stroke="#000" stroke-width="2.00" stroke-linecap="round"/><line x1="194.43" y1="578.53" x2="185.53" y2="578.53" stroke="#000" stroke-width="2.00" stroke-linecap="round"/><line x1="194.43" y1="566.33" x2="185.53" y2="566.33" stroke="#000" stroke-width="2.00" stroke-linecap="round"/><line x1="194.43" y1="554.13" x2="185.53" y2="554.13" stroke="#000" stroke-width="2.00" stroke-linecap="round"/><line x1="194.43" y1="541.93" x2="185.53" y2="541.93" stroke="#000" stroke-width="2.00" stroke-linecap="round"/><line x1="194.43" y1="517.53" x2="185.53" y2="517.53" stroke="#000" stroke-width="2.00" stroke-linecap="round"/><line x1="194.43" y1="505.33" x2="185.53" y2="505.33" stroke="#000" stroke-width="2.00" stroke-linecap="round"/><line x1="194.43" y1="493.13" x2="185.53" y2="493.13" stroke="#000" stroke-width="2.00" stroke-linecap="round"/><line x1="194.43" y1="480.93" x2="185.53" y2="480.93" stroke="#000" stroke-width="2.00" stroke-linecap="round"/><line x1="207.50" y1="722.49" x2="207.50" y2="740.29" stroke="#000" stroke-width="2.60" stroke-linecap="round"/><text transform="translate(207.50,772.63) scale(1,1.050)" font-size="19.7" text-anchor="middle">0</text><line x1="214.04" y1="722.49" x2="214.04" y2="731.39" stroke="#000" stroke-width="2.00" stroke-linecap="round"/><line x1="220.57" y1="722.49" x2="220.57" y2="731.39" stroke="#000" stroke-width="2.00" stroke-linecap="round"/><line x1="227.11" y1="722.49" x2="227.11" y2="731.39" stroke="#000" stroke-width="2.00" stroke-linecap="round"/><line x1="233.64" y1="722.49" x2="233.64" y2="731.39" stroke="#000" stroke-width="2.00" stroke-linecap="round"/><line x1="240.18" y1="722.49" x2="240.18" y2="731.39" stroke="#000" stroke-width="2.00" stroke-linecap="round"/><line x1="246.72" y1="722.49" x2="246.72" y2="731.39" stroke="#000" stroke-width="2.00" stroke-linecap="round"/><line x1="253.25" y1="722.49" x2="253.25" y2="731.39" stroke="#000" stroke-width="2.00" stroke-linecap="round"/><line x1="259.79" y1="722.49" x2="259.79" y2="731.39" stroke="#000" stroke-width="2.00" stroke-linecap="round"/><line x1="266.32" y1="722.49" x2="266.32" y2="731.39" stroke="#000" stroke-width="2.00" stroke-linecap="round"/><line x1="272.86" y1="722.49" x2="272.86" y2="740.29" stroke="#000" stroke-width="2.60" stroke-linecap="round"/><text transform="translate(272.86,772.63) scale(1,1.050)" font-size="19.7" text-anchor="middle">1000</text><line x1="279.40" y1="722.49" x2="279.40" y2="731.39" stroke="#000" stroke-width="2.00" stroke-linecap="round"/><line x1="285.93" y1="722.49" x2="285.93" y2="731.39" stroke="#000" stroke-width="2.00" stroke-linecap="round"/><line x1="292.47" y1="722.49" x2="292.47" y2="731.39" stroke="#000" stroke-width="2.00" stroke-linecap="round"/><line x1="299.00" y1="722.49" x2="299.00" y2="731.39" stroke="#000" stroke-width="2.00" stroke-linecap="round"/><line x1="305.54" y1="722.49" x2="305.54" y2="731.39" stroke="#000" stroke-width="2.00" stroke-linecap="round"/><line x1="312.08" y1="722.49" x2="312.08" y2="731.39" stroke="#000" stroke-width="2.00" stroke-linecap="round"/><line x1="318.61" y1="722.49" x2="318.61" y2="731.39" stroke="#000" stroke-width="2.00" stroke-linecap="round"/><line x1="325.15" y1="722.49" x2="325.15" y2="731.39" stroke="#000" stroke-width="2.00" stroke-linecap="round"/><line x1="331.68" y1="722.49" x2="331.68" y2="731.39" stroke="#000" stroke-width="2.00" stroke-linecap="round"/><line x1="338.22" y1="722.49" x2="338.22" y2="740.29" stroke="#000" stroke-width="2.60" stroke-linecap="round"/><text transform="translate(338.22,772.63) scale(1,1.050)" font-size="19.7" text-anchor="middle">2000</text><line x1="344.76" y1="722.49" x2="344.76" y2="731.39" stroke="#000" stroke-width="2.00" stroke-linecap="round"/><line x1="351.29" y1="722.49" x2="351.29" y2="731.39" stroke="#000" stroke-width="2.00" stroke-linecap="round"/><line x1="357.83" y1="722.49" x2="357.83" y2="731.39" stroke="#000" stroke-width="2.00" stroke-linecap="round"/><line x1="364.36" y1="722.49" x2="364.36" y2="731.39" stroke="#000" stroke-width="2.00" stroke-linecap="round"/><line x1="370.90" y1="722.49" x2="370.90" y2="731.39" stroke="#000" stroke-width="2.00" stroke-linecap="round"/><line x1="377.44" y1="722.49" x2="377.44" y2="731.39" stroke="#000" stroke-width="2.00" stroke-linecap="round"/><line x1="383.97" y1="722.49" x2="383.97" y2="731.39" stroke="#000" stroke-width="2.00" stroke-linecap="round"/><line x1="390.51" y1="722.49" x2="390.51" y2="731.39" stroke="#000" stroke-width="2.00" stroke-linecap="round"/><line x1="397.04" y1="722.49" x2="397.04" y2="731.39" stroke="#000" stroke-width="2.00" stroke-linecap="round"/><line x1="403.58" y1="722.49" x2="403.58" y2="740.29" stroke="#000" stroke-width="2.60" stroke-linecap="round"/><text transform="translate(403.58,772.63) scale(1,1.050)" font-size="19.7" text-anchor="middle">3000</text><line x1="410.12" y1="722.49" x2="410.12" y2="731.39" stroke="#000" stroke-width="2.00" stroke-linecap="round"/><line x1="416.65" y1="722.49" x2="416.65" y2="731.39" stroke="#000" stroke-width="2.00" stroke-linecap="round"/><line x1="423.19" y1="722.49" x2="423.19" y2="731.39" stroke="#000" stroke-width="2.00" stroke-linecap="round"/><line x1="429.72" y1="722.49" x2="429.72" y2="731.39" stroke="#000" stroke-width="2.00" stroke-linecap="round"/><line x1="436.26" y1="722.49" x2="436.26" y2="731.39" stroke="#000" stroke-width="2.00" stroke-linecap="round"/><line x1="442.80" y1="722.49" x2="442.80" y2="731.39" stroke="#000" stroke-width="2.00" stroke-linecap="round"/><line x1="449.33" y1="722.49" x2="449.33" y2="731.39" stroke="#000" stroke-width="2.00" stroke-linecap="round"/><line x1="455.87" y1="722.49" x2="455.87" y2="731.39" stroke="#000" stroke-width="2.00" stroke-linecap="round"/><line x1="462.40" y1="722.49" x2="462.40" y2="731.39" stroke="#000" stroke-width="2.00" stroke-linecap="round"/><line x1="468.94" y1="722.49" x2="468.94" y2="740.29" stroke="#000" stroke-width="2.60" stroke-linecap="round"/><text transform="translate(468.94,772.63) scale(1,1.050)" font-size="19.7" text-anchor="middle">4000</text><line x1="475.48" y1="722.49" x2="475.48" y2="731.39" stroke="#000" stroke-width="2.00" stroke-linecap="round"/><line x1="482.01" y1="722.49" x2="482.01" y2="731.39" stroke="#000" stroke-width="2.00" stroke-linecap="round"/><line x1="488.55" y1="722.49" x2="488.55" y2="731.39" stroke="#000" stroke-width="2.00" stroke-linecap="round"/><line x1="495.08" y1="722.49" x2="495.08" y2="731.39" stroke="#000" stroke-width="2.00" stroke-linecap="round"/><line x1="501.62" y1="722.49" x2="501.62" y2="731.39" stroke="#000" stroke-width="2.00" stroke-linecap="round"/><line x1="508.16" y1="722.49" x2="508.16" y2="731.39" stroke="#000" stroke-width="2.00" stroke-linecap="round"/><line x1="514.69" y1="722.49" x2="514.69" y2="731.39" stroke="#000" stroke-width="2.00" stroke-linecap="round"/><line x1="521.23" y1="722.49" x2="521.23" y2="731.39" stroke="#000" stroke-width="2.00" stroke-linecap="round"/><line x1="527.76" y1="722.49" x2="527.76" y2="731.39" stroke="#000" stroke-width="2.00" stroke-linecap="round"/><line x1="534.30" y1="722.49" x2="534.30" y2="740.29" stroke="#000" stroke-width="2.60" stroke-linecap="round"/><text transform="translate(534.30,772.63) scale(1,1.050)" font-size="19.7" text-anchor="middle">5000</text><line x1="272.86" y1="458.97" x2="272.86" y2="722.49" stroke="#000" stroke-width="2.10" stroke-dasharray="7.0 7.8" stroke-dashoffset="8.89"/><text x="279.16" y="489.03" font-size="22.0">Infection</text><path d="M207.50,712.73 L211.59,712.73 L215.67,712.73 L219.75,712.73 L223.84,712.73 L227.93,712.73 L232.01,712.73 L236.09,712.73 L240.18,712.73 L244.26,712.73 L248.35,712.73 L252.44,712.73 L256.52,712.73 L260.61,712.73 L264.69,712.73 L268.77,712.73 L272.86,712.73 L272.95,712.71 L273.04,712.67 L273.13,712.59 L273.22,712.49 L273.31,712.37 L273.40,712.22 L273.49,712.05 L273.58,711.86 L273.67,711.65 L273.76,711.42 L273.85,711.18 L273.94,710.92 L274.03,710.66 L274.12,710.38 L274.21,710.09 L274.30,709.80 L274.39,709.45 L274.49,709.01 L274.58,708.49 L274.67,707.89 L274.77,707.23 L274.86,706.50 L274.96,705.71 L275.05,704.86 L275.14,703.97 L275.24,703.04 L275.33,702.07 L275.43,701.07 L275.52,700.05 L275.61,699.00 L275.71,697.94 L275.80,696.87 L275.90,695.65 L276.01,694.32 L276.11,692.88 L276.21,691.36 L276.31,689.75 L276.41,688.07 L276.52,686.31 L276.62,684.50 L276.72,682.63 L276.82,680.73 L276.92,678.78 L277.03,676.81 L277.13,674.82 L277.23,672.82 L277.33,670.81 L277.44,668.81 L277.52,667.15 L277.60,665.38 L277.68,663.51 L277.76,661.56 L277.84,659.57 L277.93,657.53 L278.01,655.48 L278.09,653.43 L278.17,651.41 L278.25,649.43 L278.33,647.51 L278.42,645.67 L278.50,643.93 L278.58,642.32 L278.66,640.84 L278.74,639.53 L278.82,638.43 L278.89,637.36 L278.96,636.30 L279.04,635.28 L279.11,634.28 L279.18,633.31 L279.26,632.38 L279.33,631.49 L279.40,630.64 L279.48,629.83 L279.55,629.07 L279.62,628.37 L279.70,627.71 L279.77,627.12 L279.85,626.58 L279.92,626.11 L280.03,625.46 L280.14,624.84 L280.25,624.25 L280.36,623.69 L280.47,623.15 L280.58,622.65 L280.69,622.17 L280.80,621.72 L280.91,621.30 L281.02,620.92 L281.13,620.56 L281.24,620.24 L281.35,619.95 L281.46,619.69 L281.57,619.47 L281.68,619.28 L281.85,619.03 L282.01,618.79 L282.17,618.56 L282.34,618.35 L282.50,618.15 L282.66,617.96 L282.83,617.78 L282.99,617.62 L283.15,617.47 L283.32,617.33 L283.48,617.21 L283.64,617.11 L283.81,617.02 L283.97,616.94 L284.13,616.88 L284.30,616.84 L284.56,616.78 L284.83,616.73 L285.09,616.68 L285.36,616.63 L285.63,616.59 L285.89,616.55 L286.16,616.51 L286.42,616.48 L286.69,616.45 L286.95,616.42 L287.22,616.40 L287.48,616.38 L287.75,616.37 L288.02,616.36 L288.28,616.35 L288.55,616.35 L303.91,616.35 L319.27,616.35 L334.63,616.35 L349.98,616.35 L365.34,616.35 L380.70,616.35 L396.06,616.35 L411.42,616.35 L426.78,616.35 L442.14,616.35 L457.50,616.35 L472.86,616.35 L488.22,616.35 L503.58,616.35 L518.94,616.35 L534.30,616.35" fill="none" stroke="#000" stroke-width="3.50" stroke-linecap="round" stroke-linejoin="round" clip-path="url(#cp10)"/><rect x="194.43" y="458.97" width="352.94" height="263.52" fill="none" stroke="#000" stroke-width="2.70" stroke-linejoin="round"/></g>
<g><line x1="660.70" y1="712.73" x2="642.90" y2="712.73" stroke="#000" stroke-width="2.60" stroke-linecap="round"/><text transform="translate(639.70,713.33) scale(1,1.050)" font-size="32.0" text-anchor="end" dominant-baseline="central">0</text><line x1="660.70" y1="663.93" x2="642.90" y2="663.93" stroke="#000" stroke-width="2.60" stroke-linecap="round"/><text transform="translate(639.70,664.53) scale(1,1.050)" font-size="32.0" text-anchor="end" dominant-baseline="central">2</text><line x1="660.70" y1="615.13" x2="642.90" y2="615.13" stroke="#000" stroke-width="2.60" stroke-linecap="round"/><text transform="translate(639.70,615.73) scale(1,1.050)" font-size="32.0" text-anchor="end" dominant-baseline="central">4</text><line x1="660.70" y1="566.33" x2="642.90" y2="566.33" stroke="#000" stroke-width="2.60" stroke-linecap="round"/><text transform="translate(639.70,566.93) scale(1,1.050)" font-size="32.0" text-anchor="end" dominant-baseline="central">6</text><line x1="660.70" y1="517.53" x2="642.90" y2="517.53" stroke="#000" stroke-width="2.60" stroke-linecap="round"/><text transform="translate(639.70,518.13) scale(1,1.050)" font-size="32.0" text-anchor="end" dominant-baseline="central">8</text><line x1="660.70" y1="468.73" x2="642.90" y2="468.73" stroke="#000" stroke-width="2.60" stroke-linecap="round"/><text transform="translate(639.70,469.33) scale(1,1.050)" font-size="32.0" text-anchor="end" dominant-baseline="central">10</text><line x1="660.70" y1="700.53" x2="651.80" y2="700.53" stroke="#000" stroke-width="2.00" stroke-linecap="round"/><line x1="660.70" y1="688.33" x2="651.80" y2="688.33" stroke="#000" stroke-width="2.00" stroke-linecap="round"/><line x1="660.70" y1="676.13" x2="651.80" y2="676.13" stroke="#000" stroke-width="2.00" stroke-linecap="round"/><line x1="660.70" y1="651.73" x2="651.80" y2="651.73" stroke="#000" stroke-width="2.00" stroke-linecap="round"/><line x1="660.70" y1="639.53" x2="651.80" y2="639.53" stroke="#000" stroke-width="2.00" stroke-linecap="round"/><line x1="660.70" y1="627.33" x2="651.80" y2="627.33" stroke="#000" stroke-width="2.00" stroke-linecap="round"/><line x1="660.70" y1="602.93" x2="651.80" y2="602.93" stroke="#000" stroke-width="2.00" stroke-linecap="round"/><line x1="660.70" y1="590.73" x2="651.80" y2="590.73" stroke="#000" stroke-width="2.00" stroke-linecap="round"/><line x1="660.70" y1="578.53" x2="651.80" y2="578.53" stroke="#000" stroke-width="2.00" stroke-linecap="round"/><line x1="660.70" y1="554.13" x2="651.80" y2="554.13" stroke="#000" stroke-width="2.00" stroke-linecap="round"/><line x1="660.70" y1="541.93" x2="651.80" y2="541.93" stroke="#000" stroke-width="2.00" stroke-linecap="round"/><line x1="660.70" y1="529.73" x2="651.80" y2="529.73" stroke="#000" stroke-width="2.00" stroke-linecap="round"/><line x1="660.70" y1="505.33" x2="651.80" y2="505.33" stroke="#000" stroke-width="2.00" stroke-linecap="round"/><line x1="660.70" y1="493.13" x2="651.80" y2="493.13" stroke="#000" stroke-width="2.00" stroke-linecap="round"/><line x1="660.70" y1="480.93" x2="651.80" y2="480.93" stroke="#000" stroke-width="2.00" stroke-linecap="round"/><line x1="673.77" y1="722.49" x2="673.77" y2="740.29" stroke="#000" stroke-width="2.60" stroke-linecap="round"/><text transform="translate(673.77,772.63) scale(1,1.050)" font-size="19.7" text-anchor="middle">0</text><line x1="680.31" y1="722.49" x2="680.31" y2="731.39" stroke="#000" stroke-width="2.00" stroke-linecap="round"/><line x1="686.84" y1="722.49" x2="686.84" y2="731.39" stroke="#000" stroke-width="2.00" stroke-linecap="round"/><line x1="693.38" y1="722.49" x2="693.38" y2="731.39" stroke="#000" stroke-width="2.00" stroke-linecap="round"/><line x1="699.91" y1="722.49" x2="699.91" y2="731.39" stroke="#000" stroke-width="2.00" stroke-linecap="round"/><line x1="706.45" y1="722.49" x2="706.45" y2="731.39" stroke="#000" stroke-width="2.00" stroke-linecap="round"/><line x1="712.99" y1="722.49" x2="712.99" y2="731.39" stroke="#000" stroke-width="2.00" stroke-linecap="round"/><line x1="719.52" y1="722.49" x2="719.52" y2="731.39" stroke="#000" stroke-width="2.00" stroke-linecap="round"/><line x1="726.06" y1="722.49" x2="726.06" y2="731.39" stroke="#000" stroke-width="2.00" stroke-linecap="round"/><line x1="732.59" y1="722.49" x2="732.59" y2="731.39" stroke="#000" stroke-width="2.00" stroke-linecap="round"/><line x1="739.13" y1="722.49" x2="739.13" y2="740.29" stroke="#000" stroke-width="2.60" stroke-linecap="round"/><text transform="translate(739.13,772.63) scale(1,1.050)" font-size="19.7" text-anchor="middle">1000</text><line x1="745.67" y1="722.49" x2="745.67" y2="731.39" stroke="#000" stroke-width="2.00" stroke-linecap="round"/><line x1="752.20" y1="722.49" x2="752.20" y2="731.39" stroke="#000" stroke-width="2.00" stroke-linecap="round"/><line x1="758.74" y1="722.49" x2="758.74" y2="731.39" stroke="#000" stroke-width="2.00" stroke-linecap="round"/><line x1="765.27" y1="722.49" x2="765.27" y2="731.39" stroke="#000" stroke-width="2.00" stroke-linecap="round"/><line x1="771.81" y1="722.49" x2="771.81" y2="731.39" stroke="#000" stroke-width="2.00" stroke-linecap="round"/><line x1="778.35" y1="722.49" x2="778.35" y2="731.39" stroke="#000" stroke-width="2.00" stroke-linecap="round"/><line x1="784.88" y1="722.49" x2="784.88" y2="731.39" stroke="#000" stroke-width="2.00" stroke-linecap="round"/><line x1="791.42" y1="722.49" x2="791.42" y2="731.39" stroke="#000" stroke-width="2.00" stroke-linecap="round"/><line x1="797.95" y1="722.49" x2="797.95" y2="731.39" stroke="#000" stroke-width="2.00" stroke-linecap="round"/><line x1="804.49" y1="722.49" x2="804.49" y2="740.29" stroke="#000" stroke-width="2.60" stroke-linecap="round"/><text transform="translate(804.49,772.63) scale(1,1.050)" font-size="19.7" text-anchor="middle">2000</text><line x1="811.03" y1="722.49" x2="811.03" y2="731.39" stroke="#000" stroke-width="2.00" stroke-linecap="round"/><line x1="817.56" y1="722.49" x2="817.56" y2="731.39" stroke="#000" stroke-width="2.00" stroke-linecap="round"/><line x1="824.10" y1="722.49" x2="824.10" y2="731.39" stroke="#000" stroke-width="2.00" stroke-linecap="round"/><line x1="830.63" y1="722.49" x2="830.63" y2="731.39" stroke="#000" stroke-width="2.00" stroke-linecap="round"/><line x1="837.17" y1="722.49" x2="837.17" y2="731.39" stroke="#000" stroke-width="2.00" stroke-linecap="round"/><line x1="843.71" y1="722.49" x2="843.71" y2="731.39" stroke="#000" stroke-width="2.00" stroke-linecap="round"/><line x1="850.24" y1="722.49" x2="850.24" y2="731.39" stroke="#000" stroke-width="2.00" stroke-linecap="round"/><line x1="856.78" y1="722.49" x2="856.78" y2="731.39" stroke="#000" stroke-width="2.00" stroke-linecap="round"/><line x1="863.31" y1="722.49" x2="863.31" y2="731.39" stroke="#000" stroke-width="2.00" stroke-linecap="round"/><line x1="869.85" y1="722.49" x2="869.85" y2="740.29" stroke="#000" stroke-width="2.60" stroke-linecap="round"/><text transform="translate(869.85,772.63) scale(1,1.050)" font-size="19.7" text-anchor="middle">3000</text><line x1="876.39" y1="722.49" x2="876.39" y2="731.39" stroke="#000" stroke-width="2.00" stroke-linecap="round"/><line x1="882.92" y1="722.49" x2="882.92" y2="731.39" stroke="#000" stroke-width="2.00" stroke-linecap="round"/><line x1="889.46" y1="722.49" x2="889.46" y2="731.39" stroke="#000" stroke-width="2.00" stroke-linecap="round"/><line x1="895.99" y1="722.49" x2="895.99" y2="731.39" stroke="#000" stroke-width="2.00" stroke-linecap="round"/><line x1="902.53" y1="722.49" x2="902.53" y2="731.39" stroke="#000" stroke-width="2.00" stroke-linecap="round"/><line x1="909.07" y1="722.49" x2="909.07" y2="731.39" stroke="#000" stroke-width="2.00" stroke-linecap="round"/><line x1="915.60" y1="722.49" x2="915.60" y2="731.39" stroke="#000" stroke-width="2.00" stroke-linecap="round"/><line x1="922.14" y1="722.49" x2="922.14" y2="731.39" stroke="#000" stroke-width="2.00" stroke-linecap="round"/><line x1="928.67" y1="722.49" x2="928.67" y2="731.39" stroke="#000" stroke-width="2.00" stroke-linecap="round"/><line x1="935.21" y1="722.49" x2="935.21" y2="740.29" stroke="#000" stroke-width="2.60" stroke-linecap="round"/><text transform="translate(935.21,772.63) scale(1,1.050)" font-size="19.7" text-anchor="middle">4000</text><line x1="941.75" y1="722.49" x2="941.75" y2="731.39" stroke="#000" stroke-width="2.00" stroke-linecap="round"/><line x1="948.28" y1="722.49" x2="948.28" y2="731.39" stroke="#000" stroke-width="2.00" stroke-linecap="round"/><line x1="954.82" y1="722.49" x2="954.82" y2="731.39" stroke="#000" stroke-width="2.00" stroke-linecap="round"/><line x1="961.35" y1="722.49" x2="961.35" y2="731.39" stroke="#000" stroke-width="2.00" stroke-linecap="round"/><line x1="967.89" y1="722.49" x2="967.89" y2="731.39" stroke="#000" stroke-width="2.00" stroke-linecap="round"/><line x1="974.43" y1="722.49" x2="974.43" y2="731.39" stroke="#000" stroke-width="2.00" stroke-linecap="round"/><line x1="980.96" y1="722.49" x2="980.96" y2="731.39" stroke="#000" stroke-width="2.00" stroke-linecap="round"/><line x1="987.50" y1="722.49" x2="987.50" y2="731.39" stroke="#000" stroke-width="2.00" stroke-linecap="round"/><line x1="994.03" y1="722.49" x2="994.03" y2="731.39" stroke="#000" stroke-width="2.00" stroke-linecap="round"/><line x1="1000.57" y1="722.49" x2="1000.57" y2="740.29" stroke="#000" stroke-width="2.60" stroke-linecap="round"/><text transform="translate(1000.57,772.63) scale(1,1.050)" font-size="19.7" text-anchor="middle">5000</text><line x1="739.13" y1="458.97" x2="739.13" y2="722.49" stroke="#000" stroke-width="2.10" stroke-dasharray="7.0 7.8" stroke-dashoffset="8.89"/><text x="746.12" y="489.83" font-size="24.4">Infection</text><path d="M673.77,688.33 L677.86,688.33 L681.94,688.33 L686.02,688.33 L690.11,688.33 L694.19,688.33 L698.28,688.33 L702.37,688.33 L706.45,688.33 L710.53,688.33 L714.62,688.33 L718.70,688.33 L722.79,688.33 L726.88,688.33 L730.96,688.33 L735.04,688.33 L739.13,688.33 L739.23,688.31 L739.33,688.26 L739.44,688.18 L739.54,688.07 L739.64,687.94 L739.74,687.78 L739.84,687.60 L739.95,687.40 L740.05,687.19 L740.15,686.96 L740.25,686.72 L740.36,686.46 L740.46,686.20 L740.56,685.94 L740.66,685.67 L740.76,685.40 L740.87,685.11 L740.97,684.76 L741.07,684.36 L741.17,683.92 L741.27,683.44 L741.38,682.94 L741.48,682.40 L741.58,681.85 L741.68,681.28 L741.79,680.71 L741.89,680.12 L741.99,679.54 L742.09,678.97 L742.19,678.41 L742.30,677.87 L742.40,677.35 L742.52,676.75 L742.64,676.15 L742.77,675.56 L742.89,674.97 L743.01,674.38 L743.13,673.79 L743.26,673.20 L743.38,672.61 L743.50,672.02 L743.62,671.41 L743.75,670.80 L743.87,670.18 L743.99,669.56 L744.11,668.91 L744.24,668.26 L744.36,667.59 L744.48,666.88 L744.60,666.11 L744.73,665.30 L744.85,664.45 L744.97,663.57 L745.09,662.69 L745.22,661.79 L745.34,660.91 L745.46,660.04 L745.58,659.20 L745.71,658.41 L745.83,657.66 L745.95,656.97 L746.07,656.36 L746.20,655.83 L746.32,655.39 L746.44,655.01 L746.56,654.64 L746.69,654.29 L746.81,653.94 L746.93,653.62 L747.05,653.31 L747.18,653.01 L747.30,652.74 L747.42,652.48 L747.55,652.24 L747.67,652.02 L747.79,651.82 L747.91,651.64 L748.04,651.48 L748.16,651.35 L748.28,651.24 L748.44,651.12 L748.61,650.99 L748.77,650.87 L748.93,650.76 L749.10,650.66 L749.26,650.55 L749.42,650.46 L749.59,650.38 L749.75,650.30 L749.91,650.23 L750.08,650.17 L750.24,650.12 L750.40,650.08 L750.57,650.05 L750.73,650.03 L750.89,650.02 L766.50,649.98 L782.10,649.95 L797.71,649.92 L813.31,649.89 L828.92,649.88 L844.52,649.86 L860.13,649.85 L875.73,649.84 L891.34,649.83 L906.94,649.83 L922.55,649.82 L938.15,649.82 L953.76,649.81 L969.36,649.80 L984.97,649.79 L1000.57,649.78" fill="none" stroke="#000" stroke-width="3.50" stroke-linecap="round" stroke-linejoin="round" clip-path="url(#cp11)"/><rect x="660.70" y="458.97" width="352.94" height="263.52" fill="none" stroke="#000" stroke-width="2.70" stroke-linejoin="round"/></g>
<g><line x1="1126.97" y1="712.73" x2="1109.17" y2="712.73" stroke="#000" stroke-width="2.60" stroke-linecap="round"/><text transform="translate(1105.97,713.33) scale(1,1.050)" font-size="32.0" text-anchor="end" dominant-baseline="central">0.01</text><line x1="1126.97" y1="663.93" x2="1109.17" y2="663.93" stroke="#000" stroke-width="2.60" stroke-linecap="round"/><text transform="translate(1105.97,664.53) scale(1,1.050)" font-size="32.0" text-anchor="end" dominant-baseline="central">0.1</text><line x1="1126.97" y1="615.13" x2="1109.17" y2="615.13" stroke="#000" stroke-width="2.60" stroke-linecap="round"/><text transform="translate(1105.97,615.73) scale(1,1.050)" font-size="32.0" text-anchor="end" dominant-baseline="central">1</text><line x1="1126.97" y1="566.33" x2="1109.17" y2="566.33" stroke="#000" stroke-width="2.60" stroke-linecap="round"/><text transform="translate(1105.97,566.93) scale(1,1.050)" font-size="32.0" text-anchor="end" dominant-baseline="central">10</text><line x1="1126.97" y1="517.53" x2="1109.17" y2="517.53" stroke="#000" stroke-width="2.60" stroke-linecap="round"/><text transform="translate(1105.97,518.13) scale(1,1.050)" font-size="32.0" text-anchor="end" dominant-baseline="central">100</text><line x1="1126.97" y1="468.73" x2="1109.17" y2="468.73" stroke="#000" stroke-width="2.60" stroke-linecap="round"/><text transform="translate(1105.97,469.33) scale(1,1.050)" font-size="32.0" text-anchor="end" dominant-baseline="central">1000</text><line x1="1140.04" y1="722.49" x2="1140.04" y2="740.29" stroke="#000" stroke-width="2.60" stroke-linecap="round"/><text transform="translate(1140.04,772.63) scale(1,1.050)" font-size="19.7" text-anchor="middle">0</text><line x1="1146.58" y1="722.49" x2="1146.58" y2="731.39" stroke="#000" stroke-width="2.00" stroke-linecap="round"/><line x1="1153.11" y1="722.49" x2="1153.11" y2="731.39" stroke="#000" stroke-width="2.00" stroke-linecap="round"/><line x1="1159.65" y1="722.49" x2="1159.65" y2="731.39" stroke="#000" stroke-width="2.00" stroke-linecap="round"/><line x1="1166.18" y1="722.49" x2="1166.18" y2="731.39" stroke="#000" stroke-width="2.00" stroke-linecap="round"/><line x1="1172.72" y1="722.49" x2="1172.72" y2="731.39" stroke="#000" stroke-width="2.00" stroke-linecap="round"/><line x1="1179.26" y1="722.49" x2="1179.26" y2="731.39" stroke="#000" stroke-width="2.00" stroke-linecap="round"/><line x1="1185.79" y1="722.49" x2="1185.79" y2="731.39" stroke="#000" stroke-width="2.00" stroke-linecap="round"/><line x1="1192.33" y1="722.49" x2="1192.33" y2="731.39" stroke="#000" stroke-width="2.00" stroke-linecap="round"/><line x1="1198.86" y1="722.49" x2="1198.86" y2="731.39" stroke="#000" stroke-width="2.00" stroke-linecap="round"/><line x1="1205.40" y1="722.49" x2="1205.40" y2="740.29" stroke="#000" stroke-width="2.60" stroke-linecap="round"/><text transform="translate(1205.40,772.63) scale(1,1.050)" font-size="19.7" text-anchor="middle">1000</text><line x1="1211.94" y1="722.49" x2="1211.94" y2="731.39" stroke="#000" stroke-width="2.00" stroke-linecap="round"/><line x1="1218.47" y1="722.49" x2="1218.47" y2="731.39" stroke="#000" stroke-width="2.00" stroke-linecap="round"/><line x1="1225.01" y1="722.49" x2="1225.01" y2="731.39" stroke="#000" stroke-width="2.00" stroke-linecap="round"/><line x1="1231.54" y1="722.49" x2="1231.54" y2="731.39" stroke="#000" stroke-width="2.00" stroke-linecap="round"/><line x1="1238.08" y1="722.49" x2="1238.08" y2="731.39" stroke="#000" stroke-width="2.00" stroke-linecap="round"/><line x1="1244.62" y1="722.49" x2="1244.62" y2="731.39" stroke="#000" stroke-width="2.00" stroke-linecap="round"/><line x1="1251.15" y1="722.49" x2="1251.15" y2="731.39" stroke="#000" stroke-width="2.00" stroke-linecap="round"/><line x1="1257.69" y1="722.49" x2="1257.69" y2="731.39" stroke="#000" stroke-width="2.00" stroke-linecap="round"/><line x1="1264.22" y1="722.49" x2="1264.22" y2="731.39" stroke="#000" stroke-width="2.00" stroke-linecap="round"/><line x1="1270.76" y1="722.49" x2="1270.76" y2="740.29" stroke="#000" stroke-width="2.60" stroke-linecap="round"/><text transform="translate(1270.76,772.63) scale(1,1.050)" font-size="19.7" text-anchor="middle">2000</text><line x1="1277.30" y1="722.49" x2="1277.30" y2="731.39" stroke="#000" stroke-width="2.00" stroke-linecap="round"/><line x1="1283.83" y1="722.49" x2="1283.83" y2="731.39" stroke="#000" stroke-width="2.00" stroke-linecap="round"/><line x1="1290.37" y1="722.49" x2="1290.37" y2="731.39" stroke="#000" stroke-width="2.00" stroke-linecap="round"/><line x1="1296.90" y1="722.49" x2="1296.90" y2="731.39" stroke="#000" stroke-width="2.00" stroke-linecap="round"/><line x1="1303.44" y1="722.49" x2="1303.44" y2="731.39" stroke="#000" stroke-width="2.00" stroke-linecap="round"/><line x1="1309.98" y1="722.49" x2="1309.98" y2="731.39" stroke="#000" stroke-width="2.00" stroke-linecap="round"/><line x1="1316.51" y1="722.49" x2="1316.51" y2="731.39" stroke="#000" stroke-width="2.00" stroke-linecap="round"/><line x1="1323.05" y1="722.49" x2="1323.05" y2="731.39" stroke="#000" stroke-width="2.00" stroke-linecap="round"/><line x1="1329.58" y1="722.49" x2="1329.58" y2="731.39" stroke="#000" stroke-width="2.00" stroke-linecap="round"/><line x1="1336.12" y1="722.49" x2="1336.12" y2="740.29" stroke="#000" stroke-width="2.60" stroke-linecap="round"/><text transform="translate(1336.12,772.63) scale(1,1.050)" font-size="19.7" text-anchor="middle">3000</text><line x1="1342.66" y1="722.49" x2="1342.66" y2="731.39" stroke="#000" stroke-width="2.00" stroke-linecap="round"/><line x1="1349.19" y1="722.49" x2="1349.19" y2="731.39" stroke="#000" stroke-width="2.00" stroke-linecap="round"/><line x1="1355.73" y1="722.49" x2="1355.73" y2="731.39" stroke="#000" stroke-width="2.00" stroke-linecap="round"/><line x1="1362.26" y1="722.49" x2="1362.26" y2="731.39" stroke="#000" stroke-width="2.00" stroke-linecap="round"/><line x1="1368.80" y1="722.49" x2="1368.80" y2="731.39" stroke="#000" stroke-width="2.00" stroke-linecap="round"/><line x1="1375.34" y1="722.49" x2="1375.34" y2="731.39" stroke="#000" stroke-width="2.00" stroke-linecap="round"/><line x1="1381.87" y1="722.49" x2="1381.87" y2="731.39" stroke="#000" stroke-width="2.00" stroke-linecap="round"/><line x1="1388.41" y1="722.49" x2="1388.41" y2="731.39" stroke="#000" stroke-width="2.00" stroke-linecap="round"/><line x1="1394.94" y1="722.49" x2="1394.94" y2="731.39" stroke="#000" stroke-width="2.00" stroke-linecap="round"/><line x1="1401.48" y1="722.49" x2="1401.48" y2="740.29" stroke="#000" stroke-width="2.60" stroke-linecap="round"/><text transform="translate(1401.48,772.63) scale(1,1.050)" font-size="19.7" text-anchor="middle">4000</text><line x1="1408.02" y1="722.49" x2="1408.02" y2="731.39" stroke="#000" stroke-width="2.00" stroke-linecap="round"/><line x1="1414.55" y1="722.49" x2="1414.55" y2="731.39" stroke="#000" stroke-width="2.00" stroke-linecap="round"/><line x1="1421.09" y1="722.49" x2="1421.09" y2="731.39" stroke="#000" stroke-width="2.00" stroke-linecap="round"/><line x1="1427.62" y1="722.49" x2="1427.62" y2="731.39" stroke="#000" stroke-width="2.00" stroke-linecap="round"/><line x1="1434.16" y1="722.49" x2="1434.16" y2="731.39" stroke="#000" stroke-width="2.00" stroke-linecap="round"/><line x1="1440.70" y1="722.49" x2="1440.70" y2="731.39" stroke="#000" stroke-width="2.00" stroke-linecap="round"/><line x1="1447.23" y1="722.49" x2="1447.23" y2="731.39" stroke="#000" stroke-width="2.00" stroke-linecap="round"/><line x1="1453.77" y1="722.49" x2="1453.77" y2="731.39" stroke="#000" stroke-width="2.00" stroke-linecap="round"/><line x1="1460.30" y1="722.49" x2="1460.30" y2="731.39" stroke="#000" stroke-width="2.00" stroke-linecap="round"/><line x1="1466.84" y1="722.49" x2="1466.84" y2="740.29" stroke="#000" stroke-width="2.60" stroke-linecap="round"/><text transform="translate(1466.84,772.63) scale(1,1.050)" font-size="19.7" text-anchor="middle">5000</text><line x1="1205.40" y1="458.97" x2="1205.40" y2="722.49" stroke="#000" stroke-width="2.10" stroke-dasharray="7.0 7.8" stroke-dashoffset="8.89"/><text x="1211.70" y="486.63" font-size="22.0">Infection</text><path d="M1205.40,589.31 L1466.84,589.31" fill="none" stroke="#d70000" stroke-width="2.20" stroke-dasharray="7.4 7.4" stroke-dashoffset="1.23" clip-path="url(#cp12)"/><path d="M1140.04,616.59 L1140.08,615.57 L1140.12,614.52 L1140.16,613.45 L1140.20,612.36 L1140.24,611.27 L1140.29,610.17 L1140.33,609.07 L1140.37,607.99 L1140.41,606.93 L1140.45,605.88 L1140.49,604.87 L1140.53,603.90 L1140.57,602.96 L1140.61,602.08 L1140.65,601.25 L1140.69,600.49 L1140.73,599.90 L1140.76,599.30 L1140.79,598.71 L1140.82,598.11 L1140.86,597.53 L1140.89,596.95 L1140.92,596.40 L1140.96,595.87 L1140.99,595.36 L1141.02,594.89 L1141.05,594.46 L1141.09,594.07 L1141.12,593.72 L1141.15,593.43 L1141.18,593.20 L1141.22,593.02 L1141.31,592.64 L1141.40,592.28 L1141.50,591.94 L1141.59,591.64 L1141.69,591.36 L1141.78,591.10 L1141.87,590.87 L1141.97,590.67 L1142.06,590.48 L1142.16,590.32 L1142.25,590.18 L1142.34,590.05 L1142.44,589.95 L1142.53,589.87 L1142.63,589.80 L1142.72,589.75 L1142.84,589.70 L1142.96,589.66 L1143.08,589.61 L1143.19,589.57 L1143.31,589.53 L1143.43,589.50 L1143.55,589.46 L1143.67,589.43 L1143.79,589.41 L1143.90,589.38 L1144.02,589.36 L1144.14,589.35 L1144.26,589.33 L1144.38,589.32 L1144.50,589.32 L1144.62,589.31 L1148.41,589.31 L1152.21,589.31 L1156.01,589.31 L1159.81,589.31 L1163.61,589.31 L1167.41,589.31 L1171.21,589.31 L1175.01,589.31 L1178.81,589.31 L1182.61,589.31 L1186.40,589.31 L1190.20,589.31 L1194.00,589.31 L1197.80,589.31 L1201.60,589.31 L1205.40,589.31 L1205.52,589.30 L1205.65,589.26 L1205.77,589.18 L1205.89,589.09 L1206.01,588.97 L1206.14,588.83 L1206.26,588.68 L1206.38,588.51 L1206.50,588.32 L1206.63,588.13 L1206.75,587.92 L1206.87,587.71 L1206.99,587.49 L1207.12,587.27 L1207.24,587.05 L1207.36,586.83 L1207.48,586.58 L1207.61,586.28 L1207.73,585.94 L1207.85,585.56 L1207.97,585.15 L1208.10,584.72 L1208.22,584.28 L1208.34,583.83 L1208.46,583.38 L1208.59,582.95 L1208.71,582.53 L1208.83,582.14 L1208.95,581.77 L1209.08,581.46 L1209.20,581.18 L1209.32,580.97 L1209.46,580.76 L1209.60,580.56 L1209.74,580.35 L1209.88,580.16 L1210.02,579.97 L1210.15,579.79 L1210.29,579.62 L1210.43,579.46 L1210.57,579.31 L1210.71,579.18 L1210.85,579.06 L1210.99,578.96 L1211.13,578.88 L1211.27,578.82 L1211.40,578.79 L1211.54,578.77 L1211.65,578.79 L1211.76,578.82 L1211.86,578.87 L1211.97,578.93 L1212.07,579.01 L1212.18,579.10 L1212.29,579.20 L1212.39,579.30 L1212.50,579.41 L1212.61,579.51 L1212.71,579.61 L1212.82,579.71 L1212.92,579.80 L1213.03,579.88 L1213.14,579.94 L1213.24,579.99 L1213.50,580.09 L1213.76,580.19 L1214.02,580.28 L1214.27,580.37 L1214.53,580.45 L1214.79,580.53 L1215.04,580.61 L1215.30,580.68 L1215.56,580.74 L1215.82,580.80 L1216.07,580.85 L1216.33,580.89 L1216.59,580.92 L1216.85,580.95 L1217.10,580.96 L1217.36,580.97 L1232.95,580.97 L1248.55,580.97 L1264.14,580.97 L1279.73,580.97 L1295.32,580.97 L1310.92,580.97 L1326.51,580.97 L1342.10,580.97 L1357.69,580.97 L1373.29,580.97 L1388.88,580.97 L1404.47,580.97 L1420.06,580.97 L1435.66,580.97 L1451.25,580.97 L1466.84,580.97" fill="none" stroke="#d70000" stroke-width="3.50" stroke-linecap="round" stroke-linejoin="round" clip-path="url(#cp12)"/><path d="M1140.04,662.95 L1140.12,665.15 L1140.20,667.33 L1140.29,669.51 L1140.37,671.69 L1140.45,673.87 L1140.53,676.04 L1140.61,678.22 L1140.69,680.40 L1140.78,682.58 L1140.86,684.77 L1140.94,686.96 L1141.02,689.17 L1141.10,691.38 L1141.18,693.60 L1141.27,695.84 L1141.35,698.09 L1141.43,700.47 L1141.52,702.86 L1141.60,705.27 L1141.69,707.69 L1141.78,710.13 L1141.86,712.57 L1141.95,715.02 L1142.03,717.47 L1142.12,719.93 L1142.21,722.39 L1142.29,724.86 L1142.38,727.32 L1142.46,729.78 L1142.55,732.23 L1142.63,734.69 L1142.72,737.13" fill="none" stroke="#2a5c0a" stroke-width="3.50" stroke-linecap="round" stroke-linejoin="round" clip-path="url(#cp12)"/><rect x="1281.24" y="623.73" width="185.60" height="89.00" fill="#fff" stroke="#000" stroke-width="1.7"/><line x1="1293.94" y1="641.73" x2="1322.24" y2="641.73" stroke="#d70000" stroke-width="2.3" stroke-dasharray="7.3 7.5"/><text x="1334.94" y="647.23" font-size="14.7">Teffs (no infection)</text><line x1="1293.94" y1="659.38" x2="1322.24" y2="659.38" stroke="#2a5c0a" stroke-width="2.3" stroke-dasharray="7.3 7.5"/><text x="1334.94" y="664.68" font-size="14.7">Tregs (no infection)</text><line x1="1295.24" y1="677.03" x2="1321.04" y2="677.03" stroke="#d70000" stroke-width="2.6" stroke-linecap="round"/><text x="1334.94" y="682.13" font-size="14.7">Teffs (infection)</text><line x1="1295.24" y1="694.68" x2="1321.04" y2="694.68" stroke="#2a5c0a" stroke-width="2.6" stroke-linecap="round"/><text x="1334.94" y="699.58" font-size="14.7">Tregs (infection)</text><rect x="1126.97" y="458.97" width="352.94" height="263.52" fill="none" stroke="#000" stroke-width="2.70" stroke-linejoin="round"/></g>
<g><line x1="1593.24" y1="712.73" x2="1575.44" y2="712.73" stroke="#000" stroke-width="2.60" stroke-linecap="round"/><text transform="translate(1572.24,713.33) scale(1,1.050)" font-size="32.0" text-anchor="end" dominant-baseline="central">0.01</text><line x1="1593.24" y1="663.93" x2="1575.44" y2="663.93" stroke="#000" stroke-width="2.60" stroke-linecap="round"/><text transform="translate(1572.24,664.53) scale(1,1.050)" font-size="32.0" text-anchor="end" dominant-baseline="central">0.1</text><line x1="1593.24" y1="615.13" x2="1575.44" y2="615.13" stroke="#000" stroke-width="2.60" stroke-linecap="round"/><text transform="translate(1572.24,615.73) scale(1,1.050)" font-size="32.0" text-anchor="end" dominant-baseline="central">1</text><line x1="1593.24" y1="566.33" x2="1575.44" y2="566.33" stroke="#000" stroke-width="2.60" stroke-linecap="round"/><text transform="translate(1572.24,566.93) scale(1,1.050)" font-size="32.0" text-anchor="end" dominant-baseline="central">10</text><line x1="1593.24" y1="517.53" x2="1575.44" y2="517.53" stroke="#000" stroke-width="2.60" stroke-linecap="round"/><text transform="translate(1572.24,518.13) scale(1,1.050)" font-size="32.0" text-anchor="end" dominant-baseline="central">100</text><line x1="1593.24" y1="468.73" x2="1575.44" y2="468.73" stroke="#000" stroke-width="2.60" stroke-linecap="round"/><text transform="translate(1572.24,469.33) scale(1,1.050)" font-size="32.0" text-anchor="end" dominant-baseline="central">1000</text><line x1="1606.31" y1="722.49" x2="1606.31" y2="740.29" stroke="#000" stroke-width="2.60" stroke-linecap="round"/><text transform="translate(1606.31,772.63) scale(1,1.050)" font-size="19.7" text-anchor="middle">0</text><line x1="1612.85" y1="722.49" x2="1612.85" y2="731.39" stroke="#000" stroke-width="2.00" stroke-linecap="round"/><line x1="1619.38" y1="722.49" x2="1619.38" y2="731.39" stroke="#000" stroke-width="2.00" stroke-linecap="round"/><line x1="1625.92" y1="722.49" x2="1625.92" y2="731.39" stroke="#000" stroke-width="2.00" stroke-linecap="round"/><line x1="1632.45" y1="722.49" x2="1632.45" y2="731.39" stroke="#000" stroke-width="2.00" stroke-linecap="round"/><line x1="1638.99" y1="722.49" x2="1638.99" y2="731.39" stroke="#000" stroke-width="2.00" stroke-linecap="round"/><line x1="1645.53" y1="722.49" x2="1645.53" y2="731.39" stroke="#000" stroke-width="2.00" stroke-linecap="round"/><line x1="1652.06" y1="722.49" x2="1652.06" y2="731.39" stroke="#000" stroke-width="2.00" stroke-linecap="round"/><line x1="1658.60" y1="722.49" x2="1658.60" y2="731.39" stroke="#000" stroke-width="2.00" stroke-linecap="round"/><line x1="1665.13" y1="722.49" x2="1665.13" y2="731.39" stroke="#000" stroke-width="2.00" stroke-linecap="round"/><line x1="1671.67" y1="722.49" x2="1671.67" y2="740.29" stroke="#000" stroke-width="2.60" stroke-linecap="round"/><text transform="translate(1671.67,772.63) scale(1,1.050)" font-size="19.7" text-anchor="middle">1000</text><line x1="1678.21" y1="722.49" x2="1678.21" y2="731.39" stroke="#000" stroke-width="2.00" stroke-linecap="round"/><line x1="1684.74" y1="722.49" x2="1684.74" y2="731.39" stroke="#000" stroke-width="2.00" stroke-linecap="round"/><line x1="1691.28" y1="722.49" x2="1691.28" y2="731.39" stroke="#000" stroke-width="2.00" stroke-linecap="round"/><line x1="1697.81" y1="722.49" x2="1697.81" y2="731.39" stroke="#000" stroke-width="2.00" stroke-linecap="round"/><line x1="1704.35" y1="722.49" x2="1704.35" y2="731.39" stroke="#000" stroke-width="2.00" stroke-linecap="round"/><line x1="1710.89" y1="722.49" x2="1710.89" y2="731.39" stroke="#000" stroke-width="2.00" stroke-linecap="round"/><line x1="1717.42" y1="722.49" x2="1717.42" y2="731.39" stroke="#000" stroke-width="2.00" stroke-linecap="round"/><line x1="1723.96" y1="722.49" x2="1723.96" y2="731.39" stroke="#000" stroke-width="2.00" stroke-linecap="round"/><line x1="1730.49" y1="722.49" x2="1730.49" y2="731.39" stroke="#000" stroke-width="2.00" stroke-linecap="round"/><line x1="1737.03" y1="722.49" x2="1737.03" y2="740.29" stroke="#000" stroke-width="2.60" stroke-linecap="round"/><text transform="translate(1737.03,772.63) scale(1,1.050)" font-size="19.7" text-anchor="middle">2000</text><line x1="1743.57" y1="722.49" x2="1743.57" y2="731.39" stroke="#000" stroke-width="2.00" stroke-linecap="round"/><line x1="1750.10" y1="722.49" x2="1750.10" y2="731.39" stroke="#000" stroke-width="2.00" stroke-linecap="round"/><line x1="1756.64" y1="722.49" x2="1756.64" y2="731.39" stroke="#000" stroke-width="2.00" stroke-linecap="round"/><line x1="1763.17" y1="722.49" x2="1763.17" y2="731.39" stroke="#000" stroke-width="2.00" stroke-linecap="round"/><line x1="1769.71" y1="722.49" x2="1769.71" y2="731.39" stroke="#000" stroke-width="2.00" stroke-linecap="round"/><line x1="1776.25" y1="722.49" x2="1776.25" y2="731.39" stroke="#000" stroke-width="2.00" stroke-linecap="round"/><line x1="1782.78" y1="722.49" x2="1782.78" y2="731.39" stroke="#000" stroke-width="2.00" stroke-linecap="round"/><line x1="1789.32" y1="722.49" x2="1789.32" y2="731.39" stroke="#000" stroke-width="2.00" stroke-linecap="round"/><line x1="1795.85" y1="722.49" x2="1795.85" y2="731.39" stroke="#000" stroke-width="2.00" stroke-linecap="round"/><line x1="1802.39" y1="722.49" x2="1802.39" y2="740.29" stroke="#000" stroke-width="2.60" stroke-linecap="round"/><text transform="translate(1802.39,772.63) scale(1,1.050)" font-size="19.7" text-anchor="middle">3000</text><line x1="1808.93" y1="722.49" x2="1808.93" y2="731.39" stroke="#000" stroke-width="2.00" stroke-linecap="round"/><line x1="1815.46" y1="722.49" x2="1815.46" y2="731.39" stroke="#000" stroke-width="2.00" stroke-linecap="round"/><line x1="1822.00" y1="722.49" x2="1822.00" y2="731.39" stroke="#000" stroke-width="2.00" stroke-linecap="round"/><line x1="1828.53" y1="722.49" x2="1828.53" y2="731.39" stroke="#000" stroke-width="2.00" stroke-linecap="round"/><line x1="1835.07" y1="722.49" x2="1835.07" y2="731.39" stroke="#000" stroke-width="2.00" stroke-linecap="round"/><line x1="1841.61" y1="722.49" x2="1841.61" y2="731.39" stroke="#000" stroke-width="2.00" stroke-linecap="round"/><line x1="1848.14" y1="722.49" x2="1848.14" y2="731.39" stroke="#000" stroke-width="2.00" stroke-linecap="round"/><line x1="1854.68" y1="722.49" x2="1854.68" y2="731.39" stroke="#000" stroke-width="2.00" stroke-linecap="round"/><line x1="1861.21" y1="722.49" x2="1861.21" y2="731.39" stroke="#000" stroke-width="2.00" stroke-linecap="round"/><line x1="1867.75" y1="722.49" x2="1867.75" y2="740.29" stroke="#000" stroke-width="2.60" stroke-linecap="round"/><text transform="translate(1867.75,772.63) scale(1,1.050)" font-size="19.7" text-anchor="middle">4000</text><line x1="1874.29" y1="722.49" x2="1874.29" y2="731.39" stroke="#000" stroke-width="2.00" stroke-linecap="round"/><line x1="1880.82" y1="722.49" x2="1880.82" y2="731.39" stroke="#000" stroke-width="2.00" stroke-linecap="round"/><line x1="1887.36" y1="722.49" x2="1887.36" y2="731.39" stroke="#000" stroke-width="2.00" stroke-linecap="round"/><line x1="1893.89" y1="722.49" x2="1893.89" y2="731.39" stroke="#000" stroke-width="2.00" stroke-linecap="round"/><line x1="1900.43" y1="722.49" x2="1900.43" y2="731.39" stroke="#000" stroke-width="2.00" stroke-linecap="round"/><line x1="1906.97" y1="722.49" x2="1906.97" y2="731.39" stroke="#000" stroke-width="2.00" stroke-linecap="round"/><line x1="1913.50" y1="722.49" x2="1913.50" y2="731.39" stroke="#000" stroke-width="2.00" stroke-linecap="round"/><line x1="1920.04" y1="722.49" x2="1920.04" y2="731.39" stroke="#000" stroke-width="2.00" stroke-linecap="round"/><line x1="1926.57" y1="722.49" x2="1926.57" y2="731.39" stroke="#000" stroke-width="2.00" stroke-linecap="round"/><line x1="1933.11" y1="722.49" x2="1933.11" y2="740.29" stroke="#000" stroke-width="2.60" stroke-linecap="round"/><text transform="translate(1933.11,772.63) scale(1,1.050)" font-size="19.7" text-anchor="middle">5000</text><line x1="1671.67" y1="458.97" x2="1671.67" y2="722.49" stroke="#000" stroke-width="2.10" stroke-dasharray="7.0 7.8" stroke-dashoffset="8.89"/><text x="1677.97" y="486.53" font-size="22.0">Infection</text><path d="M1671.67,609.03 L1933.11,609.03" fill="none" stroke="#d70000" stroke-width="2.20" stroke-dasharray="7.4 7.4" stroke-dashoffset="10.57" clip-path="url(#cp13)"/><path d="M1606.31,629.33 L1606.32,628.59 L1606.33,627.84 L1606.35,627.09 L1606.36,626.33 L1606.37,625.57 L1606.38,624.81 L1606.40,624.05 L1606.41,623.30 L1606.42,622.55 L1606.43,621.80 L1606.44,621.06 L1606.46,620.34 L1606.47,619.62 L1606.48,618.92 L1606.49,618.24 L1606.51,617.57 L1606.51,617.11 L1606.52,616.63 L1606.53,616.13 L1606.54,615.61 L1606.55,615.09 L1606.56,614.58 L1606.56,614.07 L1606.57,613.57 L1606.58,613.11 L1606.59,612.67 L1606.60,612.27 L1606.60,611.92 L1606.61,611.63 L1606.62,611.39 L1606.63,611.22 L1606.64,611.13 L1606.68,610.88 L1606.72,610.66 L1606.76,610.46 L1606.80,610.29 L1606.84,610.13 L1606.88,610.00 L1606.92,609.88 L1606.96,609.78 L1607.00,609.69 L1607.05,609.62 L1607.09,609.55 L1607.13,609.50 L1607.17,609.46 L1607.21,609.43 L1607.25,609.40 L1607.29,609.37 L1607.36,609.33 L1607.44,609.29 L1607.51,609.26 L1607.58,609.22 L1607.66,609.19 L1607.73,609.17 L1607.81,609.14 L1607.88,609.12 L1607.95,609.10 L1608.03,609.08 L1608.10,609.06 L1608.17,609.05 L1608.25,609.04 L1608.32,609.04 L1608.39,609.03 L1608.47,609.03 L1612.42,609.03 L1616.37,609.03 L1620.32,609.03 L1624.27,609.03 L1628.22,609.03 L1632.17,609.03 L1636.12,609.03 L1640.07,609.03 L1644.02,609.03 L1647.97,609.03 L1651.92,609.03 L1655.87,609.03 L1659.82,609.03 L1663.77,609.03 L1667.72,609.03 L1671.67,609.03 L1671.76,608.99 L1671.84,608.89 L1671.93,608.71 L1672.01,608.49 L1672.10,608.21 L1672.18,607.89 L1672.27,607.54 L1672.36,607.16 L1672.44,606.75 L1672.53,606.33 L1672.61,605.91 L1672.70,605.48 L1672.79,605.06 L1672.87,604.65 L1672.96,604.27 L1673.04,603.91 L1673.16,603.41 L1673.28,602.89 L1673.40,602.35 L1673.52,601.79 L1673.63,601.22 L1673.75,600.64 L1673.87,600.05 L1673.99,599.47 L1674.11,598.90 L1674.23,598.35 L1674.35,597.81 L1674.46,597.30 L1674.58,596.82 L1674.70,596.37 L1674.82,595.97 L1674.94,595.61 L1675.04,595.32 L1675.15,595.03 L1675.26,594.76 L1675.36,594.50 L1675.47,594.25 L1675.58,594.00 L1675.68,593.77 L1675.79,593.54 L1675.89,593.33 L1676.00,593.12 L1676.11,592.92 L1676.21,592.73 L1676.32,592.55 L1676.42,592.38 L1676.53,592.21 L1676.64,592.05 L1676.74,591.90 L1676.83,591.76 L1676.93,591.61 L1677.03,591.47 L1677.13,591.33 L1677.23,591.19 L1677.32,591.06 L1677.42,590.93 L1677.52,590.81 L1677.62,590.70 L1677.72,590.60 L1677.81,590.50 L1677.91,590.42 L1678.01,590.35 L1678.11,590.29 L1678.21,590.24 L1678.28,590.21 L1678.35,590.18 L1678.43,590.16 L1678.50,590.13 L1678.57,590.11 L1678.65,590.08 L1678.72,590.06 L1678.79,590.04 L1678.87,590.02 L1678.94,590.00 L1679.01,589.99 L1679.09,589.97 L1679.16,589.96 L1679.24,589.96 L1679.31,589.95 L1679.38,589.95 L1695.24,589.95 L1711.10,589.95 L1726.96,589.95 L1742.81,589.95 L1758.67,589.95 L1774.53,589.95 L1790.39,589.95 L1806.25,589.95 L1822.10,589.95 L1837.96,589.95 L1853.82,589.95 L1869.68,589.95 L1885.54,589.95 L1901.39,589.95 L1917.25,589.95 L1933.11,589.95" fill="none" stroke="#d70000" stroke-width="3.50" stroke-linecap="round" stroke-linejoin="round" clip-path="url(#cp13)"/><path d="M1606.31,701.99 L1606.33,702.81 L1606.35,703.62 L1606.37,704.42 L1606.39,705.21 L1606.41,706.00 L1606.43,706.79 L1606.45,707.58 L1606.47,708.37 L1606.49,709.17 L1606.51,709.98 L1606.53,710.80 L1606.56,711.64 L1606.58,712.49 L1606.60,713.36 L1606.62,714.25 L1606.64,715.17 L1606.66,716.12 L1606.68,717.09 L1606.70,718.10 L1606.72,719.13 L1606.74,720.18 L1606.76,721.25 L1606.78,722.34 L1606.80,723.43 L1606.82,724.54 L1606.84,725.65 L1606.86,726.76 L1606.88,727.88 L1606.90,728.98 L1606.92,730.08 L1606.94,731.17 L1606.96,732.25" fill="none" stroke="#2a5c0a" stroke-width="3.50" stroke-linecap="round" stroke-linejoin="round" clip-path="url(#cp13)"/><rect x="1747.51" y="623.73" width="185.60" height="89.00" fill="#fff" stroke="#000" stroke-width="1.7"/><line x1="1760.21" y1="641.73" x2="1788.51" y2="641.73" stroke="#d70000" stroke-width="2.3" stroke-dasharray="7.3 7.5"/><text x="1801.21" y="647.23" font-size="14.7">Teffs (no infection)</text><line x1="1760.21" y1="659.38" x2="1788.51" y2="659.38" stroke="#2a5c0a" stroke-width="2.3" stroke-dasharray="7.3 7.5"/><text x="1801.21" y="664.68" font-size="14.7">Tregs (no infection)</text><line x1="1761.51" y1="677.03" x2="1787.31" y2="677.03" stroke="#d70000" stroke-width="2.6" stroke-linecap="round"/><text x="1801.21" y="682.13" font-size="14.7">Teffs (infection)</text><line x1="1761.51" y1="694.68" x2="1787.31" y2="694.68" stroke="#2a5c0a" stroke-width="2.6" stroke-linecap="round"/><text x="1801.21" y="699.58" font-size="14.7">Tregs (infection)</text><rect x="1593.24" y="458.97" width="352.94" height="263.52" fill="none" stroke="#000" stroke-width="2.70" stroke-linejoin="round"/></g>
<g><line x1="194.43" y1="1082.56" x2="176.63" y2="1082.56" stroke="#000" stroke-width="2.60" stroke-linecap="round"/><text transform="translate(173.43,1083.16) scale(1,1.050)" font-size="32.0" text-anchor="end" dominant-baseline="central">0.00</text><line x1="194.43" y1="1021.56" x2="176.63" y2="1021.56" stroke="#000" stroke-width="2.60" stroke-linecap="round"/><text transform="translate(173.43,1022.16) scale(1,1.050)" font-size="32.0" text-anchor="end" dominant-baseline="central">0.25</text><line x1="194.43" y1="960.56" x2="176.63" y2="960.56" stroke="#000" stroke-width="2.60" stroke-linecap="round"/><text transform="translate(173.43,961.16) scale(1,1.050)" font-size="32.0" text-anchor="end" dominant-baseline="central">0.50</text><line x1="194.43" y1="899.56" x2="176.63" y2="899.56" stroke="#000" stroke-width="2.60" stroke-linecap="round"/><text transform="translate(173.43,900.16) scale(1,1.050)" font-size="32.0" text-anchor="end" dominant-baseline="central">0.75</text><line x1="194.43" y1="838.56" x2="176.63" y2="838.56" stroke="#000" stroke-width="2.60" stroke-linecap="round"/><text transform="translate(173.43,839.16) scale(1,1.050)" font-size="32.0" text-anchor="end" dominant-baseline="central">1.00</text><line x1="194.43" y1="1070.36" x2="185.53" y2="1070.36" stroke="#000" stroke-width="2.00" stroke-linecap="round"/><line x1="194.43" y1="1058.16" x2="185.53" y2="1058.16" stroke="#000" stroke-width="2.00" stroke-linecap="round"/><line x1="194.43" y1="1045.96" x2="185.53" y2="1045.96" stroke="#000" stroke-width="2.00" stroke-linecap="round"/><line x1="194.43" y1="1033.76" x2="185.53" y2="1033.76" stroke="#000" stroke-width="2.00" stroke-linecap="round"/><line x1="194.43" y1="1009.36" x2="185.53" y2="1009.36" stroke="#000" stroke-width="2.00" stroke-linecap="round"/><line x1="194.43" y1="997.16" x2="185.53" y2="997.16" stroke="#000" stroke-width="2.00" stroke-linecap="round"/><line x1="194.43" y1="984.96" x2="185.53" y2="984.96" stroke="#000" stroke-width="2.00" stroke-linecap="round"/><line x1="194.43" y1="972.76" x2="185.53" y2="972.76" stroke="#000" stroke-width="2.00" stroke-linecap="round"/><line x1="194.43" y1="948.36" x2="185.53" y2="948.36" stroke="#000" stroke-width="2.00" stroke-linecap="round"/><line x1="194.43" y1="936.16" x2="185.53" y2="936.16" stroke="#000" stroke-width="2.00" stroke-linecap="round"/><line x1="194.43" y1="923.96" x2="185.53" y2="923.96" stroke="#000" stroke-width="2.00" stroke-linecap="round"/><line x1="194.43" y1="911.76" x2="185.53" y2="911.76" stroke="#000" stroke-width="2.00" stroke-linecap="round"/><line x1="194.43" y1="887.36" x2="185.53" y2="887.36" stroke="#000" stroke-width="2.00" stroke-linecap="round"/><line x1="194.43" y1="875.16" x2="185.53" y2="875.16" stroke="#000" stroke-width="2.00" stroke-linecap="round"/><line x1="194.43" y1="862.96" x2="185.53" y2="862.96" stroke="#000" stroke-width="2.00" stroke-linecap="round"/><line x1="194.43" y1="850.76" x2="185.53" y2="850.76" stroke="#000" stroke-width="2.00" stroke-linecap="round"/><line x1="207.50" y1="1092.32" x2="207.50" y2="1110.12" stroke="#000" stroke-width="2.60" stroke-linecap="round"/><text transform="translate(207.50,1142.46) scale(1,1.050)" font-size="19.7" text-anchor="middle">0</text><line x1="214.04" y1="1092.32" x2="214.04" y2="1101.22" stroke="#000" stroke-width="2.00" stroke-linecap="round"/><line x1="220.57" y1="1092.32" x2="220.57" y2="1101.22" stroke="#000" stroke-width="2.00" stroke-linecap="round"/><line x1="227.11" y1="1092.32" x2="227.11" y2="1101.22" stroke="#000" stroke-width="2.00" stroke-linecap="round"/><line x1="233.64" y1="1092.32" x2="233.64" y2="1101.22" stroke="#000" stroke-width="2.00" stroke-linecap="round"/><line x1="240.18" y1="1092.32" x2="240.18" y2="1101.22" stroke="#000" stroke-width="2.00" stroke-linecap="round"/><line x1="246.72" y1="1092.32" x2="246.72" y2="1101.22" stroke="#000" stroke-width="2.00" stroke-linecap="round"/><line x1="253.25" y1="1092.32" x2="253.25" y2="1101.22" stroke="#000" stroke-width="2.00" stroke-linecap="round"/><line x1="259.79" y1="1092.32" x2="259.79" y2="1101.22" stroke="#000" stroke-width="2.00" stroke-linecap="round"/><line x1="266.32" y1="1092.32" x2="266.32" y2="1101.22" stroke="#000" stroke-width="2.00" stroke-linecap="round"/><line x1="272.86" y1="1092.32" x2="272.86" y2="1110.12" stroke="#000" stroke-width="2.60" stroke-linecap="round"/><text transform="translate(272.86,1142.46) scale(1,1.050)" font-size="19.7" text-anchor="middle">1000</text><line x1="279.40" y1="1092.32" x2="279.40" y2="1101.22" stroke="#000" stroke-width="2.00" stroke-linecap="round"/><line x1="285.93" y1="1092.32" x2="285.93" y2="1101.22" stroke="#000" stroke-width="2.00" stroke-linecap="round"/><line x1="292.47" y1="1092.32" x2="292.47" y2="1101.22" stroke="#000" stroke-width="2.00" stroke-linecap="round"/><line x1="299.00" y1="1092.32" x2="299.00" y2="1101.22" stroke="#000" stroke-width="2.00" stroke-linecap="round"/><line x1="305.54" y1="1092.32" x2="305.54" y2="1101.22" stroke="#000" stroke-width="2.00" stroke-linecap="round"/><line x1="312.08" y1="1092.32" x2="312.08" y2="1101.22" stroke="#000" stroke-width="2.00" stroke-linecap="round"/><line x1="318.61" y1="1092.32" x2="318.61" y2="1101.22" stroke="#000" stroke-width="2.00" stroke-linecap="round"/><line x1="325.15" y1="1092.32" x2="325.15" y2="1101.22" stroke="#000" stroke-width="2.00" stroke-linecap="round"/><line x1="331.68" y1="1092.32" x2="331.68" y2="1101.22" stroke="#000" stroke-width="2.00" stroke-linecap="round"/><line x1="338.22" y1="1092.32" x2="338.22" y2="1110.12" stroke="#000" stroke-width="2.60" stroke-linecap="round"/><text transform="translate(338.22,1142.46) scale(1,1.050)" font-size="19.7" text-anchor="middle">2000</text><line x1="344.76" y1="1092.32" x2="344.76" y2="1101.22" stroke="#000" stroke-width="2.00" stroke-linecap="round"/><line x1="351.29" y1="1092.32" x2="351.29" y2="1101.22" stroke="#000" stroke-width="2.00" stroke-linecap="round"/><line x1="357.83" y1="1092.32" x2="357.83" y2="1101.22" stroke="#000" stroke-width="2.00" stroke-linecap="round"/><line x1="364.36" y1="1092.32" x2="364.36" y2="1101.22" stroke="#000" stroke-width="2.00" stroke-linecap="round"/><line x1="370.90" y1="1092.32" x2="370.90" y2="1101.22" stroke="#000" stroke-width="2.00" stroke-linecap="round"/><line x1="377.44" y1="1092.32" x2="377.44" y2="1101.22" stroke="#000" stroke-width="2.00" stroke-linecap="round"/><line x1="383.97" y1="1092.32" x2="383.97" y2="1101.22" stroke="#000" stroke-width="2.00" stroke-linecap="round"/><line x1="390.51" y1="1092.32" x2="390.51" y2="1101.22" stroke="#000" stroke-width="2.00" stroke-linecap="round"/><line x1="397.04" y1="1092.32" x2="397.04" y2="1101.22" stroke="#000" stroke-width="2.00" stroke-linecap="round"/><line x1="403.58" y1="1092.32" x2="403.58" y2="1110.12" stroke="#000" stroke-width="2.60" stroke-linecap="round"/><text transform="translate(403.58,1142.46) scale(1,1.050)" font-size="19.7" text-anchor="middle">3000</text><line x1="410.12" y1="1092.32" x2="410.12" y2="1101.22" stroke="#000" stroke-width="2.00" stroke-linecap="round"/><line x1="416.65" y1="1092.32" x2="416.65" y2="1101.22" stroke="#000" stroke-width="2.00" stroke-linecap="round"/><line x1="423.19" y1="1092.32" x2="423.19" y2="1101.22" stroke="#000" stroke-width="2.00" stroke-linecap="round"/><line x1="429.72" y1="1092.32" x2="429.72" y2="1101.22" stroke="#000" stroke-width="2.00" stroke-linecap="round"/><line x1="436.26" y1="1092.32" x2="436.26" y2="1101.22" stroke="#000" stroke-width="2.00" stroke-linecap="round"/><line x1="442.80" y1="1092.32" x2="442.80" y2="1101.22" stroke="#000" stroke-width="2.00" stroke-linecap="round"/><line x1="449.33" y1="1092.32" x2="449.33" y2="1101.22" stroke="#000" stroke-width="2.00" stroke-linecap="round"/><line x1="455.87" y1="1092.32" x2="455.87" y2="1101.22" stroke="#000" stroke-width="2.00" stroke-linecap="round"/><line x1="462.40" y1="1092.32" x2="462.40" y2="1101.22" stroke="#000" stroke-width="2.00" stroke-linecap="round"/><line x1="468.94" y1="1092.32" x2="468.94" y2="1110.12" stroke="#000" stroke-width="2.60" stroke-linecap="round"/><text transform="translate(468.94,1142.46) scale(1,1.050)" font-size="19.7" text-anchor="middle">4000</text><line x1="475.48" y1="1092.32" x2="475.48" y2="1101.22" stroke="#000" stroke-width="2.00" stroke-linecap="round"/><line x1="482.01" y1="1092.32" x2="482.01" y2="1101.22" stroke="#000" stroke-width="2.00" stroke-linecap="round"/><line x1="488.55" y1="1092.32" x2="488.55" y2="1101.22" stroke="#000" stroke-width="2.00" stroke-linecap="round"/><line x1="495.08" y1="1092.32" x2="495.08" y2="1101.22" stroke="#000" stroke-width="2.00" stroke-linecap="round"/><line x1="501.62" y1="1092.32" x2="501.62" y2="1101.22" stroke="#000" stroke-width="2.00" stroke-linecap="round"/><line x1="508.16" y1="1092.32" x2="508.16" y2="1101.22" stroke="#000" stroke-width="2.00" stroke-linecap="round"/><line x1="514.69" y1="1092.32" x2="514.69" y2="1101.22" stroke="#000" stroke-width="2.00" stroke-linecap="round"/><line x1="521.23" y1="1092.32" x2="521.23" y2="1101.22" stroke="#000" stroke-width="2.00" stroke-linecap="round"/><line x1="527.76" y1="1092.32" x2="527.76" y2="1101.22" stroke="#000" stroke-width="2.00" stroke-linecap="round"/><line x1="534.30" y1="1092.32" x2="534.30" y2="1110.12" stroke="#000" stroke-width="2.60" stroke-linecap="round"/><text transform="translate(534.30,1142.46) scale(1,1.050)" font-size="19.7" text-anchor="middle">5000</text><line x1="272.86" y1="828.80" x2="272.86" y2="1092.32" stroke="#000" stroke-width="2.10" stroke-dasharray="7.0 7.8" stroke-dashoffset="8.89"/><text x="279.16" y="858.86" font-size="22.0">Infection</text><path d="M207.50,1082.56 L211.59,1082.56 L215.67,1082.56 L219.75,1082.56 L223.84,1082.56 L227.93,1082.56 L232.01,1082.56 L236.09,1082.56 L240.18,1082.56 L244.26,1082.56 L248.35,1082.56 L252.44,1082.56 L256.52,1082.56 L260.61,1082.56 L264.69,1082.56 L268.77,1082.56 L272.86,1082.56 L272.96,1082.54 L273.06,1082.50 L273.17,1082.42 L273.27,1082.32 L273.37,1082.20 L273.47,1082.05 L273.57,1081.87 L273.68,1081.68 L273.78,1081.47 L273.88,1081.24 L273.98,1081.00 L274.09,1080.75 L274.19,1080.48 L274.29,1080.21 L274.39,1079.92 L274.49,1079.63 L274.60,1079.29 L274.70,1078.85 L274.80,1078.32 L274.90,1077.71 L275.00,1077.04 L275.11,1076.31 L275.21,1075.53 L275.31,1074.71 L275.41,1073.86 L275.52,1072.99 L275.62,1072.11 L275.72,1071.24 L275.82,1070.37 L275.92,1069.52 L276.03,1068.70 L276.13,1067.92 L276.25,1066.99 L276.37,1066.02 L276.50,1065.02 L276.62,1064.00 L276.74,1062.97 L276.86,1061.93 L276.99,1060.88 L277.11,1059.85 L277.23,1058.83 L277.35,1057.84 L277.48,1056.88 L277.60,1055.95 L277.72,1055.07 L277.84,1054.25 L277.97,1053.49 L278.09,1052.79 L278.21,1052.14 L278.33,1051.50 L278.46,1050.86 L278.58,1050.24 L278.70,1049.64 L278.82,1049.06 L278.95,1048.50 L279.07,1047.96 L279.19,1047.44 L279.31,1046.95 L279.44,1046.50 L279.56,1046.07 L279.68,1045.68 L279.80,1045.33 L279.93,1045.01 L280.05,1044.74 L280.17,1044.49 L280.29,1044.25 L280.42,1044.02 L280.54,1043.80 L280.66,1043.58 L280.78,1043.38 L280.91,1043.19 L281.03,1043.01 L281.15,1042.84 L281.28,1042.68 L281.40,1042.54 L281.52,1042.41 L281.64,1042.30 L281.77,1042.20 L281.89,1042.12 L282.01,1042.06 L282.26,1041.95 L282.50,1041.84 L282.75,1041.74 L282.99,1041.65 L283.24,1041.57 L283.48,1041.49 L283.73,1041.41 L283.97,1041.34 L284.22,1041.28 L284.46,1041.23 L284.71,1041.19 L284.95,1041.15 L285.20,1041.12 L285.44,1041.10 L285.69,1041.08 L285.93,1041.08 L301.45,1041.08 L316.98,1041.08 L332.50,1041.08 L348.02,1041.08 L363.55,1041.08 L379.07,1041.08 L394.59,1041.08 L410.12,1041.08 L425.64,1041.08 L441.16,1041.08 L456.69,1041.08 L472.21,1041.08 L487.73,1041.08 L503.25,1041.08 L518.78,1041.08 L534.30,1041.08" fill="none" stroke="#000" stroke-width="3.50" stroke-linecap="round" stroke-linejoin="round" clip-path="url(#cp20)"/><rect x="194.43" y="828.80" width="352.94" height="263.52" fill="none" stroke="#000" stroke-width="2.70" stroke-linejoin="round"/></g>
<g><line x1="660.70" y1="1082.56" x2="642.90" y2="1082.56" stroke="#000" stroke-width="2.60" stroke-linecap="round"/><text transform="translate(639.70,1083.16) scale(1,1.050)" font-size="32.0" text-anchor="end" dominant-baseline="central">0</text><line x1="660.70" y1="1033.76" x2="642.90" y2="1033.76" stroke="#000" stroke-width="2.60" stroke-linecap="round"/><text transform="translate(639.70,1034.36) scale(1,1.050)" font-size="32.0" text-anchor="end" dominant-baseline="central">2</text><line x1="660.70" y1="984.96" x2="642.90" y2="984.96" stroke="#000" stroke-width="2.60" stroke-linecap="round"/><text transform="translate(639.70,985.56) scale(1,1.050)" font-size="32.0" text-anchor="end" dominant-baseline="central">4</text><line x1="660.70" y1="936.16" x2="642.90" y2="936.16" stroke="#000" stroke-width="2.60" stroke-linecap="round"/><text transform="translate(639.70,936.76) scale(1,1.050)" font-size="32.0" text-anchor="end" dominant-baseline="central">6</text><line x1="660.70" y1="887.36" x2="642.90" y2="887.36" stroke="#000" stroke-width="2.60" stroke-linecap="round"/><text transform="translate(639.70,887.96) scale(1,1.050)" font-size="32.0" text-anchor="end" dominant-baseline="central">8</text><line x1="660.70" y1="838.56" x2="642.90" y2="838.56" stroke="#000" stroke-width="2.60" stroke-linecap="round"/><text transform="translate(639.70,839.16) scale(1,1.050)" font-size="32.0" text-anchor="end" dominant-baseline="central">10</text><line x1="660.70" y1="1070.36" x2="651.80" y2="1070.36" stroke="#000" stroke-width="2.00" stroke-linecap="round"/><line x1="660.70" y1="1058.16" x2="651.80" y2="1058.16" stroke="#000" stroke-width="2.00" stroke-linecap="round"/><line x1="660.70" y1="1045.96" x2="651.80" y2="1045.96" stroke="#000" stroke-width="2.00" stroke-linecap="round"/><line x1="660.70" y1="1021.56" x2="651.80" y2="1021.56" stroke="#000" stroke-width="2.00" stroke-linecap="round"/><line x1="660.70" y1="1009.36" x2="651.80" y2="1009.36" stroke="#000" stroke-width="2.00" stroke-linecap="round"/><line x1="660.70" y1="997.16" x2="651.80" y2="997.16" stroke="#000" stroke-width="2.00" stroke-linecap="round"/><line x1="660.70" y1="972.76" x2="651.80" y2="972.76" stroke="#000" stroke-width="2.00" stroke-linecap="round"/><line x1="660.70" y1="960.56" x2="651.80" y2="960.56" stroke="#000" stroke-width="2.00" stroke-linecap="round"/><line x1="660.70" y1="948.36" x2="651.80" y2="948.36" stroke="#000" stroke-width="2.00" stroke-linecap="round"/><line x1="660.70" y1="923.96" x2="651.80" y2="923.96" stroke="#000" stroke-width="2.00" stroke-linecap="round"/><line x1="660.70" y1="911.76" x2="651.80" y2="911.76" stroke="#000" stroke-width="2.00" stroke-linecap="round"/><line x1="660.70" y1="899.56" x2="651.80" y2="899.56" stroke="#000" stroke-width="2.00" stroke-linecap="round"/><line x1="660.70" y1="875.16" x2="651.80" y2="875.16" stroke="#000" stroke-width="2.00" stroke-linecap="round"/><line x1="660.70" y1="862.96" x2="651.80" y2="862.96" stroke="#000" stroke-width="2.00" stroke-linecap="round"/><line x1="660.70" y1="850.76" x2="651.80" y2="850.76" stroke="#000" stroke-width="2.00" stroke-linecap="round"/><line x1="673.77" y1="1092.32" x2="673.77" y2="1110.12" stroke="#000" stroke-width="2.60" stroke-linecap="round"/><text transform="translate(673.77,1142.46) scale(1,1.050)" font-size="19.7" text-anchor="middle">0</text><line x1="680.31" y1="1092.32" x2="680.31" y2="1101.22" stroke="#000" stroke-width="2.00" stroke-linecap="round"/><line x1="686.84" y1="1092.32" x2="686.84" y2="1101.22" stroke="#000" stroke-width="2.00" stroke-linecap="round"/><line x1="693.38" y1="1092.32" x2="693.38" y2="1101.22" stroke="#000" stroke-width="2.00" stroke-linecap="round"/><line x1="699.91" y1="1092.32" x2="699.91" y2="1101.22" stroke="#000" stroke-width="2.00" stroke-linecap="round"/><line x1="706.45" y1="1092.32" x2="706.45" y2="1101.22" stroke="#000" stroke-width="2.00" stroke-linecap="round"/><line x1="712.99" y1="1092.32" x2="712.99" y2="1101.22" stroke="#000" stroke-width="2.00" stroke-linecap="round"/><line x1="719.52" y1="1092.32" x2="719.52" y2="1101.22" stroke="#000" stroke-width="2.00" stroke-linecap="round"/><line x1="726.06" y1="1092.32" x2="726.06" y2="1101.22" stroke="#000" stroke-width="2.00" stroke-linecap="round"/><line x1="732.59" y1="1092.32" x2="732.59" y2="1101.22" stroke="#000" stroke-width="2.00" stroke-linecap="round"/><line x1="739.13" y1="1092.32" x2="739.13" y2="1110.12" stroke="#000" stroke-width="2.60" stroke-linecap="round"/><text transform="translate(739.13,1142.46) scale(1,1.050)" font-size="19.7" text-anchor="middle">1000</text><line x1="745.67" y1="1092.32" x2="745.67" y2="1101.22" stroke="#000" stroke-width="2.00" stroke-linecap="round"/><line x1="752.20" y1="1092.32" x2="752.20" y2="1101.22" stroke="#000" stroke-width="2.00" stroke-linecap="round"/><line x1="758.74" y1="1092.32" x2="758.74" y2="1101.22" stroke="#000" stroke-width="2.00" stroke-linecap="round"/><line x1="765.27" y1="1092.32" x2="765.27" y2="1101.22" stroke="#000" stroke-width="2.00" stroke-linecap="round"/><line x1="771.81" y1="1092.32" x2="771.81" y2="1101.22" stroke="#000" stroke-width="2.00" stroke-linecap="round"/><line x1="778.35" y1="1092.32" x2="778.35" y2="1101.22" stroke="#000" stroke-width="2.00" stroke-linecap="round"/><line x1="784.88" y1="1092.32" x2="784.88" y2="1101.22" stroke="#000" stroke-width="2.00" stroke-linecap="round"/><line x1="791.42" y1="1092.32" x2="791.42" y2="1101.22" stroke="#000" stroke-width="2.00" stroke-linecap="round"/><line x1="797.95" y1="1092.32" x2="797.95" y2="1101.22" stroke="#000" stroke-width="2.00" stroke-linecap="round"/><line x1="804.49" y1="1092.32" x2="804.49" y2="1110.12" stroke="#000" stroke-width="2.60" stroke-linecap="round"/><text transform="translate(804.49,1142.46) scale(1,1.050)" font-size="19.7" text-anchor="middle">2000</text><line x1="811.03" y1="1092.32" x2="811.03" y2="1101.22" stroke="#000" stroke-width="2.00" stroke-linecap="round"/><line x1="817.56" y1="1092.32" x2="817.56" y2="1101.22" stroke="#000" stroke-width="2.00" stroke-linecap="round"/><line x1="824.10" y1="1092.32" x2="824.10" y2="1101.22" stroke="#000" stroke-width="2.00" stroke-linecap="round"/><line x1="830.63" y1="1092.32" x2="830.63" y2="1101.22" stroke="#000" stroke-width="2.00" stroke-linecap="round"/><line x1="837.17" y1="1092.32" x2="837.17" y2="1101.22" stroke="#000" stroke-width="2.00" stroke-linecap="round"/><line x1="843.71" y1="1092.32" x2="843.71" y2="1101.22" stroke="#000" stroke-width="2.00" stroke-linecap="round"/><line x1="850.24" y1="1092.32" x2="850.24" y2="1101.22" stroke="#000" stroke-width="2.00" stroke-linecap="round"/><line x1="856.78" y1="1092.32" x2="856.78" y2="1101.22" stroke="#000" stroke-width="2.00" stroke-linecap="round"/><line x1="863.31" y1="1092.32" x2="863.31" y2="1101.22" stroke="#000" stroke-width="2.00" stroke-linecap="round"/><line x1="869.85" y1="1092.32" x2="869.85" y2="1110.12" stroke="#000" stroke-width="2.60" stroke-linecap="round"/><text transform="translate(869.85,1142.46) scale(1,1.050)" font-size="19.7" text-anchor="middle">3000</text><line x1="876.39" y1="1092.32" x2="876.39" y2="1101.22" stroke="#000" stroke-width="2.00" stroke-linecap="round"/><line x1="882.92" y1="1092.32" x2="882.92" y2="1101.22" stroke="#000" stroke-width="2.00" stroke-linecap="round"/><line x1="889.46" y1="1092.32" x2="889.46" y2="1101.22" stroke="#000" stroke-width="2.00" stroke-linecap="round"/><line x1="895.99" y1="1092.32" x2="895.99" y2="1101.22" stroke="#000" stroke-width="2.00" stroke-linecap="round"/><line x1="902.53" y1="1092.32" x2="902.53" y2="1101.22" stroke="#000" stroke-width="2.00" stroke-linecap="round"/><line x1="909.07" y1="1092.32" x2="909.07" y2="1101.22" stroke="#000" stroke-width="2.00" stroke-linecap="round"/><line x1="915.60" y1="1092.32" x2="915.60" y2="1101.22" stroke="#000" stroke-width="2.00" stroke-linecap="round"/><line x1="922.14" y1="1092.32" x2="922.14" y2="1101.22" stroke="#000" stroke-width="2.00" stroke-linecap="round"/><line x1="928.67" y1="1092.32" x2="928.67" y2="1101.22" stroke="#000" stroke-width="2.00" stroke-linecap="round"/><line x1="935.21" y1="1092.32" x2="935.21" y2="1110.12" stroke="#000" stroke-width="2.60" stroke-linecap="round"/><text transform="translate(935.21,1142.46) scale(1,1.050)" font-size="19.7" text-anchor="middle">4000</text><line x1="941.75" y1="1092.32" x2="941.75" y2="1101.22" stroke="#000" stroke-width="2.00" stroke-linecap="round"/><line x1="948.28" y1="1092.32" x2="948.28" y2="1101.22" stroke="#000" stroke-width="2.00" stroke-linecap="round"/><line x1="954.82" y1="1092.32" x2="954.82" y2="1101.22" stroke="#000" stroke-width="2.00" stroke-linecap="round"/><line x1="961.35" y1="1092.32" x2="961.35" y2="1101.22" stroke="#000" stroke-width="2.00" stroke-linecap="round"/><line x1="967.89" y1="1092.32" x2="967.89" y2="1101.22" stroke="#000" stroke-width="2.00" stroke-linecap="round"/><line x1="974.43" y1="1092.32" x2="974.43" y2="1101.22" stroke="#000" stroke-width="2.00" stroke-linecap="round"/><line x1="980.96" y1="1092.32" x2="980.96" y2="1101.22" stroke="#000" stroke-width="2.00" stroke-linecap="round"/><line x1="987.50" y1="1092.32" x2="987.50" y2="1101.22" stroke="#000" stroke-width="2.00" stroke-linecap="round"/><line x1="994.03" y1="1092.32" x2="994.03" y2="1101.22" stroke="#000" stroke-width="2.00" stroke-linecap="round"/><line x1="1000.57" y1="1092.32" x2="1000.57" y2="1110.12" stroke="#000" stroke-width="2.60" stroke-linecap="round"/><text transform="translate(1000.57,1142.46) scale(1,1.050)" font-size="19.7" text-anchor="middle">5000</text><line x1="739.13" y1="828.80" x2="739.13" y2="1092.32" stroke="#000" stroke-width="2.10" stroke-dasharray="7.0 7.8" stroke-dashoffset="8.89"/><text x="746.12" y="859.66" font-size="24.4">Infection</text><path d="M673.77,984.96 L677.86,984.96 L681.94,984.96 L686.02,984.96 L690.11,984.96 L694.19,984.96 L698.28,984.96 L702.37,984.96 L706.45,984.96 L710.53,984.96 L714.62,984.96 L718.70,984.96 L722.79,984.96 L726.88,984.96 L730.96,984.96 L735.04,984.96 L739.13,984.96 L739.25,984.95 L739.38,984.92 L739.50,984.86 L739.62,984.79 L739.74,984.70 L739.87,984.59 L739.99,984.47 L740.11,984.34 L740.23,984.20 L740.36,984.04 L740.48,983.88 L740.60,983.72 L740.72,983.54 L740.85,983.37 L740.97,983.19 L741.09,983.01 L741.21,982.81 L741.34,982.58 L741.46,982.31 L741.58,982.02 L741.70,981.70 L741.83,981.36 L741.95,981.01 L742.07,980.64 L742.19,980.26 L742.32,979.87 L742.44,979.49 L742.56,979.10 L742.68,978.72 L742.81,978.35 L742.93,977.98 L743.05,977.64 L743.17,977.30 L743.30,976.94 L743.42,976.58 L743.54,976.20 L743.66,975.83 L743.79,975.45 L743.91,975.08 L744.03,974.70 L744.15,974.34 L744.28,973.99 L744.40,973.65 L744.52,973.33 L744.64,973.03 L744.77,972.75 L744.89,972.50 L745.01,972.27 L745.18,972.00 L745.34,971.72 L745.50,971.46 L745.67,971.21 L745.83,970.96 L745.99,970.73 L746.16,970.50 L746.32,970.29 L746.48,970.09 L746.65,969.90 L746.81,969.72 L746.97,969.57 L747.14,969.42 L747.30,969.30 L747.46,969.19 L747.63,969.10 L747.83,969.00 L748.04,968.90 L748.24,968.81 L748.44,968.72 L748.65,968.64 L748.85,968.56 L749.06,968.48 L749.26,968.41 L749.47,968.35 L749.67,968.29 L749.87,968.24 L750.08,968.20 L750.28,968.17 L750.49,968.14 L750.69,968.13 L750.89,968.12 L766.50,968.12 L782.10,968.12 L797.71,968.12 L813.31,968.12 L828.92,968.12 L844.52,968.12 L860.13,968.12 L875.73,968.12 L891.34,968.12 L906.94,968.12 L922.55,968.12 L938.15,968.12 L953.76,968.12 L969.36,968.12 L984.97,968.12 L1000.57,968.12" fill="none" stroke="#000" stroke-width="3.50" stroke-linecap="round" stroke-linejoin="round" clip-path="url(#cp21)"/><rect x="660.70" y="828.80" width="352.94" height="263.52" fill="none" stroke="#000" stroke-width="2.70" stroke-linejoin="round"/></g>
<g><line x1="1126.97" y1="1082.56" x2="1109.17" y2="1082.56" stroke="#000" stroke-width="2.60" stroke-linecap="round"/><text transform="translate(1105.97,1083.16) scale(1,1.050)" font-size="32.0" text-anchor="end" dominant-baseline="central">0.01</text><line x1="1126.97" y1="1033.76" x2="1109.17" y2="1033.76" stroke="#000" stroke-width="2.60" stroke-linecap="round"/><text transform="translate(1105.97,1034.36) scale(1,1.050)" font-size="32.0" text-anchor="end" dominant-baseline="central">0.1</text><line x1="1126.97" y1="984.96" x2="1109.17" y2="984.96" stroke="#000" stroke-width="2.60" stroke-linecap="round"/><text transform="translate(1105.97,985.56) scale(1,1.050)" font-size="32.0" text-anchor="end" dominant-baseline="central">1</text><line x1="1126.97" y1="936.16" x2="1109.17" y2="936.16" stroke="#000" stroke-width="2.60" stroke-linecap="round"/><text transform="translate(1105.97,936.76) scale(1,1.050)" font-size="32.0" text-anchor="end" dominant-baseline="central">10</text><line x1="1126.97" y1="887.36" x2="1109.17" y2="887.36" stroke="#000" stroke-width="2.60" stroke-linecap="round"/><text transform="translate(1105.97,887.96) scale(1,1.050)" font-size="32.0" text-anchor="end" dominant-baseline="central">100</text><line x1="1126.97" y1="838.56" x2="1109.17" y2="838.56" stroke="#000" stroke-width="2.60" stroke-linecap="round"/><text transform="translate(1105.97,839.16) scale(1,1.050)" font-size="32.0" text-anchor="end" dominant-baseline="central">1000</text><line x1="1140.04" y1="1092.32" x2="1140.04" y2="1110.12" stroke="#000" stroke-width="2.60" stroke-linecap="round"/><text transform="translate(1140.04,1142.46) scale(1,1.050)" font-size="19.7" text-anchor="middle">0</text><line x1="1146.58" y1="1092.32" x2="1146.58" y2="1101.22" stroke="#000" stroke-width="2.00" stroke-linecap="round"/><line x1="1153.11" y1="1092.32" x2="1153.11" y2="1101.22" stroke="#000" stroke-width="2.00" stroke-linecap="round"/><line x1="1159.65" y1="1092.32" x2="1159.65" y2="1101.22" stroke="#000" stroke-width="2.00" stroke-linecap="round"/><line x1="1166.18" y1="1092.32" x2="1166.18" y2="1101.22" stroke="#000" stroke-width="2.00" stroke-linecap="round"/><line x1="1172.72" y1="1092.32" x2="1172.72" y2="1101.22" stroke="#000" stroke-width="2.00" stroke-linecap="round"/><line x1="1179.26" y1="1092.32" x2="1179.26" y2="1101.22" stroke="#000" stroke-width="2.00" stroke-linecap="round"/><line x1="1185.79" y1="1092.32" x2="1185.79" y2="1101.22" stroke="#000" stroke-width="2.00" stroke-linecap="round"/><line x1="1192.33" y1="1092.32" x2="1192.33" y2="1101.22" stroke="#000" stroke-width="2.00" stroke-linecap="round"/><line x1="1198.86" y1="1092.32" x2="1198.86" y2="1101.22" stroke="#000" stroke-width="2.00" stroke-linecap="round"/><line x1="1205.40" y1="1092.32" x2="1205.40" y2="1110.12" stroke="#000" stroke-width="2.60" stroke-linecap="round"/><text transform="translate(1205.40,1142.46) scale(1,1.050)" font-size="19.7" text-anchor="middle">1000</text><line x1="1211.94" y1="1092.32" x2="1211.94" y2="1101.22" stroke="#000" stroke-width="2.00" stroke-linecap="round"/><line x1="1218.47" y1="1092.32" x2="1218.47" y2="1101.22" stroke="#000" stroke-width="2.00" stroke-linecap="round"/><line x1="1225.01" y1="1092.32" x2="1225.01" y2="1101.22" stroke="#000" stroke-width="2.00" stroke-linecap="round"/><line x1="1231.54" y1="1092.32" x2="1231.54" y2="1101.22" stroke="#000" stroke-width="2.00" stroke-linecap="round"/><line x1="1238.08" y1="1092.32" x2="1238.08" y2="1101.22" stroke="#000" stroke-width="2.00" stroke-linecap="round"/><line x1="1244.62" y1="1092.32" x2="1244.62" y2="1101.22" stroke="#000" stroke-width="2.00" stroke-linecap="round"/><line x1="1251.15" y1="1092.32" x2="1251.15" y2="1101.22" stroke="#000" stroke-width="2.00" stroke-linecap="round"/><line x1="1257.69" y1="1092.32" x2="1257.69" y2="1101.22" stroke="#000" stroke-width="2.00" stroke-linecap="round"/><line x1="1264.22" y1="1092.32" x2="1264.22" y2="1101.22" stroke="#000" stroke-width="2.00" stroke-linecap="round"/><line x1="1270.76" y1="1092.32" x2="1270.76" y2="1110.12" stroke="#000" stroke-width="2.60" stroke-linecap="round"/><text transform="translate(1270.76,1142.46) scale(1,1.050)" font-size="19.7" text-anchor="middle">2000</text><line x1="1277.30" y1="1092.32" x2="1277.30" y2="1101.22" stroke="#000" stroke-width="2.00" stroke-linecap="round"/><line x1="1283.83" y1="1092.32" x2="1283.83" y2="1101.22" stroke="#000" stroke-width="2.00" stroke-linecap="round"/><line x1="1290.37" y1="1092.32" x2="1290.37" y2="1101.22" stroke="#000" stroke-width="2.00" stroke-linecap="round"/><line x1="1296.90" y1="1092.32" x2="1296.90" y2="1101.22" stroke="#000" stroke-width="2.00" stroke-linecap="round"/><line x1="1303.44" y1="1092.32" x2="1303.44" y2="1101.22" stroke="#000" stroke-width="2.00" stroke-linecap="round"/><line x1="1309.98" y1="1092.32" x2="1309.98" y2="1101.22" stroke="#000" stroke-width="2.00" stroke-linecap="round"/><line x1="1316.51" y1="1092.32" x2="1316.51" y2="1101.22" stroke="#000" stroke-width="2.00" stroke-linecap="round"/><line x1="1323.05" y1="1092.32" x2="1323.05" y2="1101.22" stroke="#000" stroke-width="2.00" stroke-linecap="round"/><line x1="1329.58" y1="1092.32" x2="1329.58" y2="1101.22" stroke="#000" stroke-width="2.00" stroke-linecap="round"/><line x1="1336.12" y1="1092.32" x2="1336.12" y2="1110.12" stroke="#000" stroke-width="2.60" stroke-linecap="round"/><text transform="translate(1336.12,1142.46) scale(1,1.050)" font-size="19.7" text-anchor="middle">3000</text><line x1="1342.66" y1="1092.32" x2="1342.66" y2="1101.22" stroke="#000" stroke-width="2.00" stroke-linecap="round"/><line x1="1349.19" y1="1092.32" x2="1349.19" y2="1101.22" stroke="#000" stroke-width="2.00" stroke-linecap="round"/><line x1="1355.73" y1="1092.32" x2="1355.73" y2="1101.22" stroke="#000" stroke-width="2.00" stroke-linecap="round"/><line x1="1362.26" y1="1092.32" x2="1362.26" y2="1101.22" stroke="#000" stroke-width="2.00" stroke-linecap="round"/><line x1="1368.80" y1="1092.32" x2="1368.80" y2="1101.22" stroke="#000" stroke-width="2.00" stroke-linecap="round"/><line x1="1375.34" y1="1092.32" x2="1375.34" y2="1101.22" stroke="#000" stroke-width="2.00" stroke-linecap="round"/><line x1="1381.87" y1="1092.32" x2="1381.87" y2="1101.22" stroke="#000" stroke-width="2.00" stroke-linecap="round"/><line x1="1388.41" y1="1092.32" x2="1388.41" y2="1101.22" stroke="#000" stroke-width="2.00" stroke-linecap="round"/><line x1="1394.94" y1="1092.32" x2="1394.94" y2="1101.22" stroke="#000" stroke-width="2.00" stroke-linecap="round"/><line x1="1401.48" y1="1092.32" x2="1401.48" y2="1110.12" stroke="#000" stroke-width="2.60" stroke-linecap="round"/><text transform="translate(1401.48,1142.46) scale(1,1.050)" font-size="19.7" text-anchor="middle">4000</text><line x1="1408.02" y1="1092.32" x2="1408.02" y2="1101.22" stroke="#000" stroke-width="2.00" stroke-linecap="round"/><line x1="1414.55" y1="1092.32" x2="1414.55" y2="1101.22" stroke="#000" stroke-width="2.00" stroke-linecap="round"/><line x1="1421.09" y1="1092.32" x2="1421.09" y2="1101.22" stroke="#000" stroke-width="2.00" stroke-linecap="round"/><line x1="1427.62" y1="1092.32" x2="1427.62" y2="1101.22" stroke="#000" stroke-width="2.00" stroke-linecap="round"/><line x1="1434.16" y1="1092.32" x2="1434.16" y2="1101.22" stroke="#000" stroke-width="2.00" stroke-linecap="round"/><line x1="1440.70" y1="1092.32" x2="1440.70" y2="1101.22" stroke="#000" stroke-width="2.00" stroke-linecap="round"/><line x1="1447.23" y1="1092.32" x2="1447.23" y2="1101.22" stroke="#000" stroke-width="2.00" stroke-linecap="round"/><line x1="1453.77" y1="1092.32" x2="1453.77" y2="1101.22" stroke="#000" stroke-width="2.00" stroke-linecap="round"/><line x1="1460.30" y1="1092.32" x2="1460.30" y2="1101.22" stroke="#000" stroke-width="2.00" stroke-linecap="round"/><line x1="1466.84" y1="1092.32" x2="1466.84" y2="1110.12" stroke="#000" stroke-width="2.60" stroke-linecap="round"/><text transform="translate(1466.84,1142.46) scale(1,1.050)" font-size="19.7" text-anchor="middle">5000</text><line x1="1205.40" y1="828.80" x2="1205.40" y2="1092.32" stroke="#000" stroke-width="2.10" stroke-dasharray="7.0 7.8" stroke-dashoffset="8.89"/><text x="1211.70" y="856.46" font-size="22.0">Infection</text><path d="M1205.40,947.14 L1466.84,947.14" fill="none" stroke="#d70000" stroke-width="2.20" stroke-dasharray="7.4 7.4" stroke-dashoffset="9.80" clip-path="url(#cp22)"/><path d="M1205.40,957.97 L1466.84,957.97" fill="none" stroke="#2a5c0a" stroke-width="2.20" stroke-dasharray="7.4 7.4" stroke-dashoffset="10.85" clip-path="url(#cp22)"/><path d="M1140.04,987.45 L1141.22,923.57 L1141.39,923.56 L1141.56,923.54 L1141.73,923.53 L1141.90,923.51 L1142.07,923.50 L1142.25,923.48 L1142.42,923.46 L1142.59,923.45 L1142.76,923.43 L1142.93,923.42 L1143.10,923.41 L1143.28,923.40 L1143.45,923.39 L1143.62,923.38 L1143.79,923.38 L1143.96,923.37 L1144.84,923.38 L1145.73,923.38 L1146.61,923.38 L1147.49,923.39 L1148.37,923.39 L1149.26,923.40 L1150.14,923.41 L1151.02,923.43 L1151.90,923.44 L1152.79,923.45 L1153.67,923.47 L1154.55,923.49 L1155.43,923.51 L1156.31,923.53 L1157.20,923.55 L1158.08,923.57 L1158.59,923.59 L1159.09,923.61 L1159.60,923.64 L1160.11,923.68 L1160.61,923.73 L1161.12,923.78 L1161.63,923.83 L1162.13,923.89 L1162.64,923.96 L1163.14,924.02 L1163.65,924.09 L1164.16,924.16 L1164.66,924.23 L1165.17,924.30 L1165.68,924.38 L1166.18,924.45 L1166.43,924.48 L1166.68,924.52 L1166.93,924.55 L1167.18,924.59 L1167.43,924.62 L1167.68,924.66 L1167.93,924.70 L1168.18,924.74 L1168.43,924.78 L1168.68,924.83 L1168.93,924.88 L1169.17,924.93 L1169.42,924.99 L1169.67,925.05 L1169.92,925.11 L1170.17,925.18 L1170.35,925.24 L1170.53,925.30 L1170.71,925.38 L1170.89,925.46 L1171.07,925.56 L1171.25,925.65 L1171.43,925.76 L1171.61,925.87 L1171.79,925.99 L1171.97,926.11 L1172.15,926.23 L1172.33,926.36 L1172.51,926.49 L1172.69,926.62 L1172.87,926.75 L1173.05,926.89 L1173.17,926.98 L1173.29,927.07 L1173.41,927.17 L1173.54,927.27 L1173.66,927.37 L1173.78,927.47 L1173.90,927.58 L1174.03,927.69 L1174.15,927.80 L1174.27,927.92 L1174.39,928.04 L1174.52,928.17 L1174.64,928.31 L1174.76,928.45 L1174.89,928.59 L1175.01,928.74 L1175.11,928.88 L1175.21,929.02 L1175.31,929.18 L1175.42,929.34 L1175.52,929.52 L1175.62,929.70 L1175.72,929.89 L1175.82,930.08 L1175.93,930.28 L1176.03,930.49 L1176.13,930.70 L1176.23,930.91 L1176.34,931.12 L1176.44,931.34 L1176.54,931.55 L1176.64,931.77 L1176.72,931.93 L1176.80,932.10 L1176.87,932.26 L1176.95,932.43 L1177.03,932.60 L1177.11,932.77 L1177.18,932.95 L1177.26,933.13 L1177.34,933.31 L1177.42,933.50 L1177.50,933.69 L1177.57,933.89 L1177.65,934.10 L1177.73,934.31 L1177.81,934.52 L1177.88,934.74 L1177.95,934.94 L1178.01,935.15 L1178.08,935.36 L1178.14,935.58 L1178.21,935.81 L1178.28,936.05 L1178.34,936.29 L1178.41,936.53 L1178.47,936.78 L1178.54,937.04 L1178.60,937.30 L1178.67,937.55 L1178.73,937.82 L1178.80,938.08 L1178.86,938.34 L1178.93,938.60 L1178.99,938.85 L1179.05,939.10 L1179.11,939.36 L1179.17,939.63 L1179.24,939.90 L1179.30,940.18 L1179.36,940.45 L1179.42,940.73 L1179.48,941.00 L1179.54,941.28 L1179.60,941.55 L1179.66,941.82 L1179.73,942.09 L1179.79,942.35 L1179.85,942.60 L1179.91,942.85 L1179.97,943.09 L1180.03,943.34 L1180.09,943.60 L1180.15,943.86 L1180.22,944.12 L1180.28,944.38 L1180.34,944.64 L1180.40,944.89 L1180.46,945.13 L1180.52,945.36 L1180.58,945.58 L1180.64,945.78 L1180.71,945.97 L1180.77,946.14 L1180.83,946.28 L1180.89,946.41 L1180.96,946.53 L1181.02,946.65 L1181.09,946.76 L1181.15,946.88 L1181.22,946.98 L1181.28,947.09 L1181.35,947.19 L1181.41,947.28 L1181.48,947.37 L1181.54,947.44 L1181.61,947.51 L1181.67,947.57 L1181.74,947.61 L1181.81,947.65 L1181.87,947.67 L1181.94,947.68 L1182.10,947.67 L1182.25,947.65 L1182.41,947.63 L1182.57,947.59 L1182.73,947.55 L1182.89,947.51 L1183.05,947.46 L1183.21,947.41 L1183.37,947.36 L1183.53,947.31 L1183.69,947.26 L1183.85,947.22 L1184.01,947.19 L1184.17,947.16 L1184.33,947.15 L1184.48,947.14 L1185.79,947.14 L1187.10,947.14 L1188.41,947.14 L1189.71,947.14 L1191.02,947.14 L1192.33,947.14 L1193.64,947.14 L1194.94,947.14 L1196.25,947.14 L1197.56,947.14 L1198.86,947.14 L1200.17,947.14 L1201.48,947.14 L1202.79,947.14 L1204.09,947.14 L1205.40,947.14 L1205.52,947.14 L1205.65,947.12 L1205.77,947.10 L1205.89,947.08 L1206.01,947.04 L1206.14,947.01 L1206.26,946.96 L1206.38,946.91 L1206.50,946.86 L1206.63,946.80 L1206.75,946.74 L1206.87,946.68 L1206.99,946.61 L1207.12,946.55 L1207.24,946.48 L1207.36,946.41 L1207.52,946.30 L1207.69,946.16 L1207.85,945.99 L1208.01,945.79 L1208.18,945.58 L1208.34,945.35 L1208.50,945.10 L1208.67,944.85 L1208.83,944.59 L1208.99,944.33 L1209.16,944.08 L1209.32,943.83 L1209.48,943.60 L1209.65,943.37 L1209.81,943.17 L1209.98,942.99 L1210.14,942.83 L1210.30,942.66 L1210.47,942.50 L1210.63,942.34 L1210.79,942.18 L1210.96,942.03 L1211.12,941.88 L1211.28,941.73 L1211.45,941.59 L1211.61,941.46 L1211.77,941.33 L1211.94,941.21 L1212.10,941.09 L1212.26,940.99 L1212.43,940.89 L1212.59,940.80 L1212.77,940.70 L1212.96,940.60 L1213.14,940.51 L1213.32,940.41 L1213.51,940.32 L1213.69,940.23 L1213.88,940.14 L1214.06,940.06 L1214.24,939.99 L1214.43,939.92 L1214.61,939.86 L1214.80,939.80 L1214.98,939.76 L1215.16,939.72 L1215.35,939.69 L1215.53,939.67 L1215.92,939.65 L1216.31,939.63 L1216.70,939.61 L1217.08,939.59 L1217.47,939.57 L1217.86,939.55 L1218.25,939.54 L1218.64,939.53 L1219.02,939.51 L1219.41,939.50 L1219.80,939.50 L1220.19,939.49 L1220.58,939.48 L1220.96,939.48 L1221.35,939.48 L1221.74,939.48 L1237.06,939.48 L1252.38,939.48 L1267.70,939.48 L1283.01,939.48 L1298.33,939.48 L1313.65,939.48 L1328.97,939.48 L1344.29,939.48 L1359.61,939.48 L1374.93,939.48 L1390.25,939.48 L1405.57,939.48 L1420.88,939.48 L1436.20,939.48 L1451.52,939.48 L1466.84,939.48" fill="none" stroke="#d70000" stroke-width="3.50" stroke-linecap="round" stroke-linejoin="round" clip-path="url(#cp22)"/><path d="M1140.04,1033.37 L1140.08,1033.32 L1140.12,1033.27 L1140.16,1033.22 L1140.20,1033.17 L1140.24,1033.11 L1140.29,1033.06 L1140.33,1033.01 L1140.37,1032.96 L1140.41,1032.91 L1140.45,1032.86 L1140.49,1032.81 L1140.53,1032.76 L1140.57,1032.70 L1140.61,1032.65 L1140.65,1032.60 L1140.69,1032.54 L1140.78,1032.43 L1140.86,1032.31 L1140.94,1032.19 L1141.02,1032.07 L1141.10,1031.95 L1141.18,1031.82 L1141.27,1031.69 L1141.35,1031.57 L1141.43,1031.44 L1141.51,1031.31 L1141.59,1031.18 L1141.67,1031.05 L1141.76,1030.92 L1141.84,1030.79 L1141.92,1030.67 L1142.00,1030.54 L1142.49,1030.01 L1142.98,1029.47 L1143.47,1028.94 L1143.96,1028.40 L1144.45,1027.87 L1144.94,1027.33 L1145.43,1026.80 L1145.92,1026.26 L1146.41,1025.73 L1146.90,1025.19 L1147.39,1024.66 L1147.88,1024.14 L1148.37,1023.61 L1148.86,1023.09 L1149.35,1022.56 L1149.84,1022.05 L1150.36,1021.51 L1150.87,1020.99 L1151.39,1020.48 L1151.90,1019.97 L1152.42,1019.47 L1152.93,1018.98 L1153.45,1018.48 L1153.96,1017.98 L1154.48,1017.48 L1154.99,1016.97 L1155.51,1016.45 L1156.02,1015.92 L1156.54,1015.38 L1157.05,1014.82 L1157.56,1014.25 L1158.08,1013.65 L1158.59,1013.06 L1159.09,1012.46 L1159.60,1011.85 L1160.11,1011.24 L1160.61,1010.61 L1161.12,1009.97 L1161.63,1009.32 L1162.13,1008.65 L1162.64,1007.96 L1163.14,1007.25 L1163.65,1006.51 L1164.16,1005.75 L1164.66,1004.96 L1165.17,1004.13 L1165.68,1003.28 L1166.18,1002.38 L1166.54,1001.73 L1166.89,1001.05 L1167.24,1000.33 L1167.59,999.58 L1167.94,998.80 L1168.29,997.99 L1168.64,997.16 L1168.99,996.30 L1169.35,995.41 L1169.70,994.51 L1170.05,993.58 L1170.40,992.63 L1170.75,991.66 L1171.10,990.68 L1171.45,989.68 L1171.80,988.67 L1172.06,987.91 L1172.32,987.14 L1172.58,986.36 L1172.83,985.55 L1173.09,984.73 L1173.35,983.89 L1173.61,983.03 L1173.86,982.15 L1174.12,981.25 L1174.38,980.32 L1174.64,979.38 L1174.89,978.40 L1175.15,977.41 L1175.41,976.39 L1175.67,975.34 L1175.92,974.27 L1176.10,973.49 L1176.27,972.63 L1176.45,971.71 L1176.63,970.73 L1176.80,969.72 L1176.98,968.68 L1177.15,967.63 L1177.33,966.59 L1177.50,965.55 L1177.68,964.54 L1177.85,963.58 L1178.03,962.66 L1178.21,961.81 L1178.38,961.04 L1178.56,960.36 L1178.73,959.78 L1178.81,959.56 L1178.88,959.35 L1178.95,959.14 L1179.03,958.94 L1179.10,958.74 L1179.17,958.55 L1179.25,958.36 L1179.32,958.19 L1179.39,958.02 L1179.47,957.86 L1179.54,957.71 L1179.62,957.57 L1179.69,957.45 L1179.76,957.33 L1179.84,957.23 L1179.91,957.14 L1179.96,957.09 L1180.01,957.04 L1180.06,956.98 L1180.11,956.93 L1180.15,956.88 L1180.20,956.83 L1180.25,956.79 L1180.30,956.74 L1180.35,956.71 L1180.40,956.67 L1180.45,956.64 L1180.50,956.61 L1180.55,956.59 L1180.60,956.57 L1180.64,956.56 L1180.69,956.56 L1180.77,956.57 L1180.84,956.60 L1180.91,956.64 L1180.99,956.69 L1181.06,956.76 L1181.14,956.84 L1181.21,956.92 L1181.28,957.01 L1181.36,957.10 L1181.43,957.19 L1181.50,957.28 L1181.58,957.37 L1181.65,957.45 L1181.72,957.52 L1181.80,957.58 L1181.87,957.63 L1181.95,957.68 L1182.03,957.73 L1182.10,957.77 L1182.18,957.82 L1182.26,957.86 L1182.34,957.91 L1182.41,957.95 L1182.49,957.99 L1182.57,958.03 L1182.65,958.06 L1182.72,958.09 L1182.80,958.12 L1182.88,958.14 L1182.96,958.16 L1183.03,958.17 L1183.11,958.17 L1183.28,958.17 L1183.45,958.17 L1183.61,958.16 L1183.78,958.15 L1183.95,958.15 L1184.12,958.14 L1184.28,958.13 L1184.45,958.12 L1184.62,958.11 L1184.79,958.11 L1184.95,958.10 L1185.12,958.09 L1185.29,958.08 L1185.46,958.08 L1185.62,958.07 L1185.79,958.07 L1187.02,958.06 L1188.24,958.05 L1189.47,958.04 L1190.69,958.03 L1191.92,958.02 L1193.14,958.01 L1194.37,958.00 L1195.60,958.00 L1196.82,957.99 L1198.05,957.99 L1199.27,957.98 L1200.50,957.98 L1201.72,957.98 L1202.95,957.97 L1204.17,957.97 L1205.40,957.97 L1205.52,957.98 L1205.65,958.00 L1205.77,958.04 L1205.89,958.09 L1206.01,958.15 L1206.14,958.21 L1206.26,958.29 L1206.38,958.37 L1206.50,958.46 L1206.63,958.55 L1206.75,958.64 L1206.87,958.73 L1206.99,958.83 L1207.12,958.92 L1207.24,959.01 L1207.36,959.10 L1207.52,959.21 L1207.69,959.34 L1207.85,959.47 L1208.01,959.60 L1208.18,959.75 L1208.34,959.89 L1208.50,960.04 L1208.67,960.19 L1208.83,960.35 L1208.99,960.49 L1209.16,960.64 L1209.32,960.78 L1209.48,960.92 L1209.65,961.05 L1209.81,961.18 L1209.98,961.29 L1210.14,961.40 L1210.30,961.52 L1210.47,961.63 L1210.63,961.74 L1210.79,961.86 L1210.96,961.97 L1211.12,962.07 L1211.28,962.18 L1211.45,962.28 L1211.61,962.37 L1211.77,962.46 L1211.94,962.54 L1212.10,962.61 L1212.26,962.67 L1212.43,962.72 L1212.59,962.76 L1212.79,962.80 L1213.00,962.84 L1213.20,962.87 L1213.41,962.91 L1213.61,962.94 L1213.82,962.98 L1214.02,963.01 L1214.22,963.03 L1214.43,963.06 L1214.63,963.08 L1214.84,963.10 L1215.04,963.12 L1215.24,963.13 L1215.45,963.14 L1215.65,963.14 L1215.86,963.15 L1231.54,963.15 L1247.23,963.15 L1262.92,963.15 L1278.60,963.15 L1294.29,963.15 L1309.98,963.15 L1325.66,963.15 L1341.35,963.15 L1357.04,963.15 L1372.72,963.15 L1388.41,963.15 L1404.09,963.15 L1419.78,963.15 L1435.47,963.15 L1451.15,963.15 L1466.84,963.15" fill="none" stroke="#2a5c0a" stroke-width="3.50" stroke-linecap="round" stroke-linejoin="round" clip-path="url(#cp22)"/><rect x="1281.24" y="993.56" width="185.60" height="89.00" fill="#fff" stroke="#000" stroke-width="1.7"/><line x1="1293.94" y1="1011.56" x2="1322.24" y2="1011.56" stroke="#d70000" stroke-width="2.3" stroke-dasharray="7.3 7.5"/><text x="1334.94" y="1017.06" font-size="14.7">Teffs (no infection)</text><line x1="1293.94" y1="1029.21" x2="1322.24" y2="1029.21" stroke="#2a5c0a" stroke-width="2.3" stroke-dasharray="7.3 7.5"/><text x="1334.94" y="1034.51" font-size="14.7">Tregs (no infection)</text><line x1="1295.24" y1="1046.86" x2="1321.04" y2="1046.86" stroke="#d70000" stroke-width="2.6" stroke-linecap="round"/><text x="1334.94" y="1051.96" font-size="14.7">Teffs (infection)</text><line x1="1295.24" y1="1064.51" x2="1321.04" y2="1064.51" stroke="#2a5c0a" stroke-width="2.6" stroke-linecap="round"/><text x="1334.94" y="1069.41" font-size="14.7">Tregs (infection)</text><rect x="1126.97" y="828.80" width="352.94" height="263.52" fill="none" stroke="#000" stroke-width="2.70" stroke-linejoin="round"/></g>
<g><line x1="1593.24" y1="1082.56" x2="1575.44" y2="1082.56" stroke="#000" stroke-width="2.60" stroke-linecap="round"/><text transform="translate(1572.24,1083.16) scale(1,1.050)" font-size="32.0" text-anchor="end" dominant-baseline="central">0.01</text><line x1="1593.24" y1="1033.76" x2="1575.44" y2="1033.76" stroke="#000" stroke-width="2.60" stroke-linecap="round"/><text transform="translate(1572.24,1034.36) scale(1,1.050)" font-size="32.0" text-anchor="end" dominant-baseline="central">0.1</text><line x1="1593.24" y1="984.96" x2="1575.44" y2="984.96" stroke="#000" stroke-width="2.60" stroke-linecap="round"/><text transform="translate(1572.24,985.56) scale(1,1.050)" font-size="32.0" text-anchor="end" dominant-baseline="central">1</text><line x1="1593.24" y1="936.16" x2="1575.44" y2="936.16" stroke="#000" stroke-width="2.60" stroke-linecap="round"/><text transform="translate(1572.24,936.76) scale(1,1.050)" font-size="32.0" text-anchor="end" dominant-baseline="central">10</text><line x1="1593.24" y1="887.36" x2="1575.44" y2="887.36" stroke="#000" stroke-width="2.60" stroke-linecap="round"/><text transform="translate(1572.24,887.96) scale(1,1.050)" font-size="32.0" text-anchor="end" dominant-baseline="central">100</text><line x1="1593.24" y1="838.56" x2="1575.44" y2="838.56" stroke="#000" stroke-width="2.60" stroke-linecap="round"/><text transform="translate(1572.24,839.16) scale(1,1.050)" font-size="32.0" text-anchor="end" dominant-baseline="central">1000</text><line x1="1606.31" y1="1092.32" x2="1606.31" y2="1110.12" stroke="#000" stroke-width="2.60" stroke-linecap="round"/><text transform="translate(1606.31,1142.46) scale(1,1.050)" font-size="19.7" text-anchor="middle">0</text><line x1="1612.85" y1="1092.32" x2="1612.85" y2="1101.22" stroke="#000" stroke-width="2.00" stroke-linecap="round"/><line x1="1619.38" y1="1092.32" x2="1619.38" y2="1101.22" stroke="#000" stroke-width="2.00" stroke-linecap="round"/><line x1="1625.92" y1="1092.32" x2="1625.92" y2="1101.22" stroke="#000" stroke-width="2.00" stroke-linecap="round"/><line x1="1632.45" y1="1092.32" x2="1632.45" y2="1101.22" stroke="#000" stroke-width="2.00" stroke-linecap="round"/><line x1="1638.99" y1="1092.32" x2="1638.99" y2="1101.22" stroke="#000" stroke-width="2.00" stroke-linecap="round"/><line x1="1645.53" y1="1092.32" x2="1645.53" y2="1101.22" stroke="#000" stroke-width="2.00" stroke-linecap="round"/><line x1="1652.06" y1="1092.32" x2="1652.06" y2="1101.22" stroke="#000" stroke-width="2.00" stroke-linecap="round"/><line x1="1658.60" y1="1092.32" x2="1658.60" y2="1101.22" stroke="#000" stroke-width="2.00" stroke-linecap="round"/><line x1="1665.13" y1="1092.32" x2="1665.13" y2="1101.22" stroke="#000" stroke-width="2.00" stroke-linecap="round"/><line x1="1671.67" y1="1092.32" x2="1671.67" y2="1110.12" stroke="#000" stroke-width="2.60" stroke-linecap="round"/><text transform="translate(1671.67,1142.46) scale(1,1.050)" font-size="19.7" text-anchor="middle">1000</text><line x1="1678.21" y1="1092.32" x2="1678.21" y2="1101.22" stroke="#000" stroke-width="2.00" stroke-linecap="round"/><line x1="1684.74" y1="1092.32" x2="1684.74" y2="1101.22" stroke="#000" stroke-width="2.00" stroke-linecap="round"/><line x1="1691.28" y1="1092.32" x2="1691.28" y2="1101.22" stroke="#000" stroke-width="2.00" stroke-linecap="round"/><line x1="1697.81" y1="1092.32" x2="1697.81" y2="1101.22" stroke="#000" stroke-width="2.00" stroke-linecap="round"/><line x1="1704.35" y1="1092.32" x2="1704.35" y2="1101.22" stroke="#000" stroke-width="2.00" stroke-linecap="round"/><line x1="1710.89" y1="1092.32" x2="1710.89" y2="1101.22" stroke="#000" stroke-width="2.00" stroke-linecap="round"/><line x1="1717.42" y1="1092.32" x2="1717.42" y2="1101.22" stroke="#000" stroke-width="2.00" stroke-linecap="round"/><line x1="1723.96" y1="1092.32" x2="1723.96" y2="1101.22" stroke="#000" stroke-width="2.00" stroke-linecap="round"/><line x1="1730.49" y1="1092.32" x2="1730.49" y2="1101.22" stroke="#000" stroke-width="2.00" stroke-linecap="round"/><line x1="1737.03" y1="1092.32" x2="1737.03" y2="1110.12" stroke="#000" stroke-width="2.60" stroke-linecap="round"/><text transform="translate(1737.03,1142.46) scale(1,1.050)" font-size="19.7" text-anchor="middle">2000</text><line x1="1743.57" y1="1092.32" x2="1743.57" y2="1101.22" stroke="#000" stroke-width="2.00" stroke-linecap="round"/><line x1="1750.10" y1="1092.32" x2="1750.10" y2="1101.22" stroke="#000" stroke-width="2.00" stroke-linecap="round"/><line x1="1756.64" y1="1092.32" x2="1756.64" y2="1101.22" stroke="#000" stroke-width="2.00" stroke-linecap="round"/><line x1="1763.17" y1="1092.32" x2="1763.17" y2="1101.22" stroke="#000" stroke-width="2.00" stroke-linecap="round"/><line x1="1769.71" y1="1092.32" x2="1769.71" y2="1101.22" stroke="#000" stroke-width="2.00" stroke-linecap="round"/><line x1="1776.25" y1="1092.32" x2="1776.25" y2="1101.22" stroke="#000" stroke-width="2.00" stroke-linecap="round"/><line x1="1782.78" y1="1092.32" x2="1782.78" y2="1101.22" stroke="#000" stroke-width="2.00" stroke-linecap="round"/><line x1="1789.32" y1="1092.32" x2="1789.32" y2="1101.22" stroke="#000" stroke-width="2.00" stroke-linecap="round"/><line x1="1795.85" y1="1092.32" x2="1795.85" y2="1101.22" stroke="#000" stroke-width="2.00" stroke-linecap="round"/><line x1="1802.39" y1="1092.32" x2="1802.39" y2="1110.12" stroke="#000" stroke-width="2.60" stroke-linecap="round"/><text transform="translate(1802.39,1142.46) scale(1,1.050)" font-size="19.7" text-anchor="middle">3000</text><line x1="1808.93" y1="1092.32" x2="1808.93" y2="1101.22" stroke="#000" stroke-width="2.00" stroke-linecap="round"/><line x1="1815.46" y1="1092.32" x2="1815.46" y2="1101.22" stroke="#000" stroke-width="2.00" stroke-linecap="round"/><line x1="1822.00" y1="1092.32" x2="1822.00" y2="1101.22" stroke="#000" stroke-width="2.00" stroke-linecap="round"/><line x1="1828.53" y1="1092.32" x2="1828.53" y2="1101.22" stroke="#000" stroke-width="2.00" stroke-linecap="round"/><line x1="1835.07" y1="1092.32" x2="1835.07" y2="1101.22" stroke="#000" stroke-width="2.00" stroke-linecap="round"/><line x1="1841.61" y1="1092.32" x2="1841.61" y2="1101.22" stroke="#000" stroke-width="2.00" stroke-linecap="round"/><line x1="1848.14" y1="1092.32" x2="1848.14" y2="1101.22" stroke="#000" stroke-width="2.00" stroke-linecap="round"/><line x1="1854.68" y1="1092.32" x2="1854.68" y2="1101.22" stroke="#000" stroke-width="2.00" stroke-linecap="round"/><line x1="1861.21" y1="1092.32" x2="1861.21" y2="1101.22" stroke="#000" stroke-width="2.00" stroke-linecap="round"/><line x1="1867.75" y1="1092.32" x2="1867.75" y2="1110.12" stroke="#000" stroke-width="2.60" stroke-linecap="round"/><text transform="translate(1867.75,1142.46) scale(1,1.050)" font-size="19.7" text-anchor="middle">4000</text><line x1="1874.29" y1="1092.32" x2="1874.29" y2="1101.22" stroke="#000" stroke-width="2.00" stroke-linecap="round"/><line x1="1880.82" y1="1092.32" x2="1880.82" y2="1101.22" stroke="#000" stroke-width="2.00" stroke-linecap="round"/><line x1="1887.36" y1="1092.32" x2="1887.36" y2="1101.22" stroke="#000" stroke-width="2.00" stroke-linecap="round"/><line x1="1893.89" y1="1092.32" x2="1893.89" y2="1101.22" stroke="#000" stroke-width="2.00" stroke-linecap="round"/><line x1="1900.43" y1="1092.32" x2="1900.43" y2="1101.22" stroke="#000" stroke-width="2.00" stroke-linecap="round"/><line x1="1906.97" y1="1092.32" x2="1906.97" y2="1101.22" stroke="#000" stroke-width="2.00" stroke-linecap="round"/><line x1="1913.50" y1="1092.32" x2="1913.50" y2="1101.22" stroke="#000" stroke-width="2.00" stroke-linecap="round"/><line x1="1920.04" y1="1092.32" x2="1920.04" y2="1101.22" stroke="#000" stroke-width="2.00" stroke-linecap="round"/><line x1="1926.57" y1="1092.32" x2="1926.57" y2="1101.22" stroke="#000" stroke-width="2.00" stroke-linecap="round"/><line x1="1933.11" y1="1092.32" x2="1933.11" y2="1110.12" stroke="#000" stroke-width="2.60" stroke-linecap="round"/><text transform="translate(1933.11,1142.46) scale(1,1.050)" font-size="19.7" text-anchor="middle">5000</text><line x1="1671.67" y1="828.80" x2="1671.67" y2="1092.32" stroke="#000" stroke-width="2.10" stroke-dasharray="7.0 7.8" stroke-dashoffset="8.89"/><text x="1677.97" y="856.36" font-size="22.0">Infection</text><path d="M1671.67,966.42 L1933.11,966.42" fill="none" stroke="#d70000" stroke-width="2.20" stroke-dasharray="7.4 7.4" stroke-dashoffset="9.75" clip-path="url(#cp23)"/><path d="M1671.67,979.15 L1933.11,979.15" fill="none" stroke="#2a5c0a" stroke-width="2.20" stroke-dasharray="7.4 7.4" stroke-dashoffset="11.88" clip-path="url(#cp23)"/><path d="M1606.31,990.47 L1606.90,942.55 L1607.47,942.57 L1608.05,942.60 L1608.63,942.62 L1609.20,942.64 L1609.78,942.66 L1610.35,942.68 L1610.93,942.70 L1611.51,942.72 L1612.08,942.74 L1612.66,942.76 L1613.23,942.79 L1613.81,942.81 L1614.39,942.83 L1614.96,942.85 L1615.54,942.87 L1616.11,942.89 L1617.15,942.93 L1618.19,942.97 L1619.23,942.99 L1620.26,943.02 L1621.30,943.05 L1622.34,943.07 L1623.38,943.10 L1624.41,943.13 L1625.45,943.16 L1626.49,943.20 L1627.53,943.24 L1628.57,943.29 L1629.60,943.35 L1630.64,943.41 L1631.68,943.49 L1632.72,943.58 L1632.99,943.61 L1633.25,943.66 L1633.52,943.73 L1633.79,943.82 L1634.06,943.92 L1634.33,944.03 L1634.60,944.15 L1634.87,944.28 L1635.14,944.42 L1635.41,944.56 L1635.68,944.71 L1635.95,944.85 L1636.22,945.00 L1636.49,945.15 L1636.76,945.29 L1637.03,945.43 L1637.19,945.51 L1637.35,945.59 L1637.51,945.67 L1637.67,945.75 L1637.83,945.83 L1637.99,945.91 L1638.14,945.99 L1638.30,946.08 L1638.46,946.17 L1638.62,946.26 L1638.78,946.36 L1638.94,946.46 L1639.10,946.57 L1639.26,946.69 L1639.42,946.81 L1639.58,946.94 L1639.68,947.04 L1639.79,947.15 L1639.90,947.26 L1640.00,947.38 L1640.11,947.51 L1640.22,947.65 L1640.32,947.79 L1640.43,947.94 L1640.53,948.10 L1640.64,948.26 L1640.75,948.43 L1640.85,948.60 L1640.96,948.78 L1641.07,948.96 L1641.17,949.15 L1641.28,949.34 L1641.36,949.49 L1641.44,949.64 L1641.52,949.81 L1641.60,949.98 L1641.69,950.16 L1641.77,950.34 L1641.85,950.54 L1641.93,950.73 L1642.01,950.93 L1642.09,951.14 L1642.18,951.35 L1642.26,951.56 L1642.34,951.78 L1642.42,952.01 L1642.50,952.23 L1642.58,952.46 L1642.69,952.75 L1642.79,953.06 L1642.89,953.38 L1642.99,953.70 L1643.10,954.04 L1643.20,954.39 L1643.30,954.74 L1643.40,955.10 L1643.50,955.47 L1643.61,955.84 L1643.71,956.22 L1643.81,956.60 L1643.91,956.98 L1644.01,957.36 L1644.12,957.74 L1644.22,958.12 L1644.30,958.43 L1644.38,958.75 L1644.46,959.09 L1644.55,959.43 L1644.63,959.77 L1644.71,960.12 L1644.79,960.47 L1644.87,960.82 L1644.95,961.17 L1645.04,961.51 L1645.12,961.85 L1645.20,962.17 L1645.28,962.49 L1645.36,962.79 L1645.44,963.07 L1645.53,963.34 L1645.62,963.65 L1645.71,963.96 L1645.81,964.29 L1645.90,964.62 L1646.00,964.95 L1646.09,965.27 L1646.18,965.59 L1646.28,965.89 L1646.37,966.17 L1646.47,966.43 L1646.56,966.66 L1646.65,966.86 L1646.75,967.02 L1646.84,967.14 L1646.94,967.22 L1647.03,967.25 L1647.10,967.24 L1647.17,967.22 L1647.24,967.20 L1647.31,967.16 L1647.38,967.12 L1647.45,967.07 L1647.52,967.02 L1647.58,966.97 L1647.65,966.92 L1647.72,966.87 L1647.79,966.82 L1647.86,966.77 L1647.93,966.73 L1648.00,966.70 L1648.07,966.67 L1648.14,966.66 L1648.39,966.63 L1648.63,966.60 L1648.88,966.57 L1649.12,966.55 L1649.37,966.53 L1649.61,966.51 L1649.86,966.49 L1650.10,966.47 L1650.35,966.46 L1650.59,966.45 L1650.84,966.44 L1651.08,966.43 L1651.33,966.42 L1651.57,966.42 L1651.82,966.42 L1652.06,966.42 L1653.29,966.42 L1654.51,966.42 L1655.74,966.42 L1656.96,966.42 L1658.19,966.42 L1659.41,966.42 L1660.64,966.42 L1661.87,966.42 L1663.09,966.42 L1664.32,966.42 L1665.54,966.42 L1666.77,966.42 L1667.99,966.42 L1669.22,966.42 L1670.44,966.42 L1671.67,966.42 L1671.79,966.41 L1671.92,966.39 L1672.04,966.37 L1672.16,966.33 L1672.28,966.29 L1672.41,966.24 L1672.53,966.18 L1672.65,966.12 L1672.77,966.05 L1672.90,965.97 L1673.02,965.89 L1673.14,965.81 L1673.26,965.72 L1673.39,965.63 L1673.51,965.53 L1673.63,965.44 L1673.75,965.33 L1673.88,965.20 L1674.00,965.05 L1674.12,964.87 L1674.24,964.68 L1674.37,964.47 L1674.49,964.25 L1674.61,964.02 L1674.73,963.78 L1674.86,963.53 L1674.98,963.28 L1675.10,963.03 L1675.22,962.77 L1675.35,962.52 L1675.47,962.27 L1675.59,962.02 L1675.71,961.77 L1675.84,961.51 L1675.96,961.23 L1676.08,960.93 L1676.20,960.63 L1676.33,960.33 L1676.45,960.02 L1676.57,959.71 L1676.69,959.41 L1676.82,959.11 L1676.94,958.83 L1677.06,958.55 L1677.18,958.29 L1677.31,958.05 L1677.43,957.83 L1677.55,957.63 L1677.67,957.45 L1677.80,957.27 L1677.92,957.09 L1678.04,956.91 L1678.17,956.73 L1678.29,956.57 L1678.41,956.40 L1678.53,956.25 L1678.66,956.10 L1678.78,955.97 L1678.90,955.84 L1679.02,955.73 L1679.15,955.64 L1679.27,955.55 L1679.39,955.49 L1679.51,955.44 L1679.68,955.38 L1679.84,955.33 L1680.00,955.28 L1680.17,955.24 L1680.33,955.19 L1680.49,955.15 L1680.66,955.12 L1680.82,955.08 L1680.98,955.05 L1681.15,955.03 L1681.31,955.00 L1681.47,954.98 L1681.64,954.97 L1681.80,954.96 L1681.96,954.95 L1682.13,954.95 L1697.81,954.95 L1713.50,954.95 L1729.19,954.95 L1744.87,954.95 L1760.56,954.95 L1776.25,954.95 L1791.93,954.95 L1807.62,954.95 L1823.31,954.95 L1838.99,954.95 L1854.68,954.95 L1870.36,954.95 L1886.05,954.95 L1901.74,954.95 L1917.42,954.95 L1933.11,954.95" fill="none" stroke="#d70000" stroke-width="3.50" stroke-linecap="round" stroke-linejoin="round" clip-path="url(#cp23)"/><path d="M1606.31,1085.49 L1606.90,1052.94 L1607.39,1052.32 L1607.89,1051.70 L1608.38,1051.07 L1608.88,1050.45 L1609.37,1049.82 L1609.86,1049.20 L1610.36,1048.57 L1610.85,1047.95 L1611.35,1047.32 L1611.84,1046.70 L1612.34,1046.08 L1612.83,1045.46 L1613.32,1044.85 L1613.82,1044.24 L1614.31,1043.63 L1614.81,1043.03 L1615.31,1042.43 L1615.80,1041.84 L1616.30,1041.25 L1616.80,1040.67 L1617.30,1040.09 L1617.80,1039.51 L1618.30,1038.94 L1618.79,1038.37 L1619.29,1037.79 L1619.79,1037.21 L1620.29,1036.64 L1620.79,1036.05 L1621.29,1035.47 L1621.78,1034.87 L1622.28,1034.27 L1622.78,1033.66 L1623.40,1032.91 L1624.02,1032.17 L1624.64,1031.45 L1625.26,1030.73 L1625.89,1030.01 L1626.51,1029.29 L1627.13,1028.57 L1627.75,1027.83 L1628.37,1027.07 L1628.99,1026.28 L1629.61,1025.47 L1630.23,1024.62 L1630.85,1023.73 L1631.47,1022.80 L1632.09,1021.82 L1632.72,1020.78 L1633.08,1020.13 L1633.45,1019.46 L1633.82,1018.75 L1634.19,1018.02 L1634.55,1017.25 L1634.92,1016.46 L1635.29,1015.63 L1635.66,1014.78 L1636.02,1013.89 L1636.39,1012.98 L1636.76,1012.03 L1637.13,1011.06 L1637.49,1010.06 L1637.86,1009.03 L1638.23,1007.96 L1638.60,1006.87 L1638.85,1006.10 L1639.10,1005.28 L1639.35,1004.42 L1639.59,1003.52 L1639.84,1002.58 L1640.09,1001.62 L1640.34,1000.62 L1640.59,999.61 L1640.84,998.57 L1641.09,997.52 L1641.34,996.45 L1641.59,995.38 L1641.84,994.30 L1642.09,993.22 L1642.34,992.13 L1642.58,991.06 L1642.71,990.53 L1642.83,989.98 L1642.95,989.42 L1643.08,988.85 L1643.20,988.28 L1643.32,987.69 L1643.44,987.11 L1643.57,986.52 L1643.69,985.94 L1643.81,985.36 L1643.93,984.78 L1644.06,984.21 L1644.18,983.65 L1644.30,983.09 L1644.42,982.56 L1644.55,982.03 L1644.61,981.76 L1644.67,981.47 L1644.73,981.17 L1644.79,980.85 L1644.85,980.53 L1644.91,980.21 L1644.97,979.89 L1645.04,979.59 L1645.10,979.30 L1645.16,979.03 L1645.22,978.79 L1645.28,978.59 L1645.34,978.41 L1645.40,978.29 L1645.46,978.20 L1645.53,978.18 L1645.59,978.19 L1645.65,978.22 L1645.71,978.26 L1645.77,978.32 L1645.83,978.39 L1645.89,978.47 L1645.95,978.55 L1646.02,978.63 L1646.08,978.72 L1646.14,978.80 L1646.20,978.88 L1646.26,978.95 L1646.32,979.01 L1646.38,979.06 L1646.45,979.09 L1646.51,979.10 L1646.65,979.11 L1646.79,979.12 L1646.94,979.12 L1647.08,979.13 L1647.22,979.13 L1647.36,979.14 L1647.51,979.14 L1647.65,979.14 L1647.79,979.14 L1647.94,979.15 L1648.08,979.15 L1648.22,979.15 L1648.37,979.15 L1648.51,979.15 L1648.65,979.15 L1648.79,979.15 L1650.22,979.15 L1651.65,979.15 L1653.08,979.15 L1654.51,979.15 L1655.94,979.15 L1657.37,979.15 L1658.80,979.15 L1660.23,979.15 L1661.66,979.15 L1663.09,979.15 L1664.52,979.15 L1665.95,979.15 L1667.38,979.15 L1668.81,979.15 L1670.24,979.15 L1671.67,979.15 L1671.83,979.15 L1672.00,979.16 L1672.16,979.16 L1672.32,979.17 L1672.49,979.18 L1672.65,979.19 L1672.81,979.20 L1672.98,979.21 L1673.14,979.22 L1673.30,979.24 L1673.47,979.25 L1673.63,979.27 L1673.79,979.29 L1673.96,979.31 L1674.12,979.33 L1674.28,979.35 L1674.45,979.37 L1674.61,979.41 L1674.77,979.46 L1674.94,979.52 L1675.10,979.59 L1675.26,979.66 L1675.43,979.74 L1675.59,979.81 L1675.75,979.89 L1675.92,979.97 L1676.08,980.04 L1676.25,980.12 L1676.41,980.18 L1676.57,980.24 L1676.74,980.29 L1676.90,980.32 L1677.06,980.36 L1677.23,980.39 L1677.39,980.42 L1677.55,980.45 L1677.72,980.48 L1677.88,980.51 L1678.04,980.53 L1678.21,980.56 L1678.37,980.58 L1678.53,980.60 L1678.70,980.62 L1678.86,980.64 L1679.02,980.65 L1679.19,980.66 L1679.35,980.66 L1679.51,980.67 L1695.36,980.67 L1711.21,980.67 L1727.06,980.67 L1742.91,980.67 L1758.76,980.67 L1774.61,980.67 L1790.46,980.67 L1806.31,980.67 L1822.16,980.67 L1838.01,980.67 L1853.86,980.67 L1869.71,980.67 L1885.56,980.67 L1901.41,980.67 L1917.26,980.67 L1933.11,980.67" fill="none" stroke="#2a5c0a" stroke-width="3.50" stroke-linecap="round" stroke-linejoin="round" clip-path="url(#cp23)"/><rect x="1747.51" y="993.56" width="185.60" height="89.00" fill="#fff" stroke="#000" stroke-width="1.7"/><line x1="1760.21" y1="1011.56" x2="1788.51" y2="1011.56" stroke="#d70000" stroke-width="2.3" stroke-dasharray="7.3 7.5"/><text x="1801.21" y="1017.06" font-size="14.7">Teffs (no infection)</text><line x1="1760.21" y1="1029.21" x2="1788.51" y2="1029.21" stroke="#2a5c0a" stroke-width="2.3" stroke-dasharray="7.3 7.5"/><text x="1801.21" y="1034.51" font-size="14.7">Tregs (no infection)</text><line x1="1761.51" y1="1046.86" x2="1787.31" y2="1046.86" stroke="#d70000" stroke-width="2.6" stroke-linecap="round"/><text x="1801.21" y="1051.96" font-size="14.7">Teffs (infection)</text><line x1="1761.51" y1="1064.51" x2="1787.31" y2="1064.51" stroke="#2a5c0a" stroke-width="2.6" stroke-linecap="round"/><text x="1801.21" y="1069.41" font-size="14.7">Tregs (infection)</text><rect x="1593.24" y="828.80" width="352.94" height="263.52" fill="none" stroke="#000" stroke-width="2.70" stroke-linejoin="round"/></g>
<g><line x1="194.43" y1="1452.39" x2="176.63" y2="1452.39" stroke="#000" stroke-width="2.60" stroke-linecap="round"/><text transform="translate(173.43,1452.99) scale(1,1.050)" font-size="32.0" text-anchor="end" dominant-baseline="central">0.00</text><line x1="194.43" y1="1391.39" x2="176.63" y2="1391.39" stroke="#000" stroke-width="2.60" stroke-linecap="round"/><text transform="translate(173.43,1391.99) scale(1,1.050)" font-size="32.0" text-anchor="end" dominant-baseline="central">0.25</text><line x1="194.43" y1="1330.39" x2="176.63" y2="1330.39" stroke="#000" stroke-width="2.60" stroke-linecap="round"/><text transform="translate(173.43,1330.99) scale(1,1.050)" font-size="32.0" text-anchor="end" dominant-baseline="central">0.50</text><line x1="194.43" y1="1269.39" x2="176.63" y2="1269.39" stroke="#000" stroke-width="2.60" stroke-linecap="round"/><text transform="translate(173.43,1269.99) scale(1,1.050)" font-size="32.0" text-anchor="end" dominant-baseline="central">0.75</text><line x1="194.43" y1="1208.39" x2="176.63" y2="1208.39" stroke="#000" stroke-width="2.60" stroke-linecap="round"/><text transform="translate(173.43,1208.99) scale(1,1.050)" font-size="32.0" text-anchor="end" dominant-baseline="central">1.00</text><line x1="194.43" y1="1440.19" x2="185.53" y2="1440.19" stroke="#000" stroke-width="2.00" stroke-linecap="round"/><line x1="194.43" y1="1427.99" x2="185.53" y2="1427.99" stroke="#000" stroke-width="2.00" stroke-linecap="round"/><line x1="194.43" y1="1415.79" x2="185.53" y2="1415.79" stroke="#000" stroke-width="2.00" stroke-linecap="round"/><line x1="194.43" y1="1403.59" x2="185.53" y2="1403.59" stroke="#000" stroke-width="2.00" stroke-linecap="round"/><line x1="194.43" y1="1379.19" x2="185.53" y2="1379.19" stroke="#000" stroke-width="2.00" stroke-linecap="round"/><line x1="194.43" y1="1366.99" x2="185.53" y2="1366.99" stroke="#000" stroke-width="2.00" stroke-linecap="round"/><line x1="194.43" y1="1354.79" x2="185.53" y2="1354.79" stroke="#000" stroke-width="2.00" stroke-linecap="round"/><line x1="194.43" y1="1342.59" x2="185.53" y2="1342.59" stroke="#000" stroke-width="2.00" stroke-linecap="round"/><line x1="194.43" y1="1318.19" x2="185.53" y2="1318.19" stroke="#000" stroke-width="2.00" stroke-linecap="round"/><line x1="194.43" y1="1305.99" x2="185.53" y2="1305.99" stroke="#000" stroke-width="2.00" stroke-linecap="round"/><line x1="194.43" y1="1293.79" x2="185.53" y2="1293.79" stroke="#000" stroke-width="2.00" stroke-linecap="round"/><line x1="194.43" y1="1281.59" x2="185.53" y2="1281.59" stroke="#000" stroke-width="2.00" stroke-linecap="round"/><line x1="194.43" y1="1257.19" x2="185.53" y2="1257.19" stroke="#000" stroke-width="2.00" stroke-linecap="round"/><line x1="194.43" y1="1244.99" x2="185.53" y2="1244.99" stroke="#000" stroke-width="2.00" stroke-linecap="round"/><line x1="194.43" y1="1232.79" x2="185.53" y2="1232.79" stroke="#000" stroke-width="2.00" stroke-linecap="round"/><line x1="194.43" y1="1220.59" x2="185.53" y2="1220.59" stroke="#000" stroke-width="2.00" stroke-linecap="round"/><line x1="207.50" y1="1462.15" x2="207.50" y2="1479.95" stroke="#000" stroke-width="2.60" stroke-linecap="round"/><text transform="translate(207.50,1512.29) scale(1,1.050)" font-size="19.7" text-anchor="middle">0</text><line x1="214.04" y1="1462.15" x2="214.04" y2="1471.05" stroke="#000" stroke-width="2.00" stroke-linecap="round"/><line x1="220.57" y1="1462.15" x2="220.57" y2="1471.05" stroke="#000" stroke-width="2.00" stroke-linecap="round"/><line x1="227.11" y1="1462.15" x2="227.11" y2="1471.05" stroke="#000" stroke-width="2.00" stroke-linecap="round"/><line x1="233.64" y1="1462.15" x2="233.64" y2="1471.05" stroke="#000" stroke-width="2.00" stroke-linecap="round"/><line x1="240.18" y1="1462.15" x2="240.18" y2="1471.05" stroke="#000" stroke-width="2.00" stroke-linecap="round"/><line x1="246.72" y1="1462.15" x2="246.72" y2="1471.05" stroke="#000" stroke-width="2.00" stroke-linecap="round"/><line x1="253.25" y1="1462.15" x2="253.25" y2="1471.05" stroke="#000" stroke-width="2.00" stroke-linecap="round"/><line x1="259.79" y1="1462.15" x2="259.79" y2="1471.05" stroke="#000" stroke-width="2.00" stroke-linecap="round"/><line x1="266.32" y1="1462.15" x2="266.32" y2="1471.05" stroke="#000" stroke-width="2.00" stroke-linecap="round"/><line x1="272.86" y1="1462.15" x2="272.86" y2="1479.95" stroke="#000" stroke-width="2.60" stroke-linecap="round"/><text transform="translate(272.86,1512.29) scale(1,1.050)" font-size="19.7" text-anchor="middle">1000</text><line x1="279.40" y1="1462.15" x2="279.40" y2="1471.05" stroke="#000" stroke-width="2.00" stroke-linecap="round"/><line x1="285.93" y1="1462.15" x2="285.93" y2="1471.05" stroke="#000" stroke-width="2.00" stroke-linecap="round"/><line x1="292.47" y1="1462.15" x2="292.47" y2="1471.05" stroke="#000" stroke-width="2.00" stroke-linecap="round"/><line x1="299.00" y1="1462.15" x2="299.00" y2="1471.05" stroke="#000" stroke-width="2.00" stroke-linecap="round"/><line x1="305.54" y1="1462.15" x2="305.54" y2="1471.05" stroke="#000" stroke-width="2.00" stroke-linecap="round"/><line x1="312.08" y1="1462.15" x2="312.08" y2="1471.05" stroke="#000" stroke-width="2.00" stroke-linecap="round"/><line x1="318.61" y1="1462.15" x2="318.61" y2="1471.05" stroke="#000" stroke-width="2.00" stroke-linecap="round"/><line x1="325.15" y1="1462.15" x2="325.15" y2="1471.05" stroke="#000" stroke-width="2.00" stroke-linecap="round"/><line x1="331.68" y1="1462.15" x2="331.68" y2="1471.05" stroke="#000" stroke-width="2.00" stroke-linecap="round"/><line x1="338.22" y1="1462.15" x2="338.22" y2="1479.95" stroke="#000" stroke-width="2.60" stroke-linecap="round"/><text transform="translate(338.22,1512.29) scale(1,1.050)" font-size="19.7" text-anchor="middle">2000</text><line x1="344.76" y1="1462.15" x2="344.76" y2="1471.05" stroke="#000" stroke-width="2.00" stroke-linecap="round"/><line x1="351.29" y1="1462.15" x2="351.29" y2="1471.05" stroke="#000" stroke-width="2.00" stroke-linecap="round"/><line x1="357.83" y1="1462.15" x2="357.83" y2="1471.05" stroke="#000" stroke-width="2.00" stroke-linecap="round"/><line x1="364.36" y1="1462.15" x2="364.36" y2="1471.05" stroke="#000" stroke-width="2.00" stroke-linecap="round"/><line x1="370.90" y1="1462.15" x2="370.90" y2="1471.05" stroke="#000" stroke-width="2.00" stroke-linecap="round"/><line x1="377.44" y1="1462.15" x2="377.44" y2="1471.05" stroke="#000" stroke-width="2.00" stroke-linecap="round"/><line x1="383.97" y1="1462.15" x2="383.97" y2="1471.05" stroke="#000" stroke-width="2.00" stroke-linecap="round"/><line x1="390.51" y1="1462.15" x2="390.51" y2="1471.05" stroke="#000" stroke-width="2.00" stroke-linecap="round"/><line x1="397.04" y1="1462.15" x2="397.04" y2="1471.05" stroke="#000" stroke-width="2.00" stroke-linecap="round"/><line x1="403.58" y1="1462.15" x2="403.58" y2="1479.95" stroke="#000" stroke-width="2.60" stroke-linecap="round"/><text transform="translate(403.58,1512.29) scale(1,1.050)" font-size="19.7" text-anchor="middle">3000</text><line x1="410.12" y1="1462.15" x2="410.12" y2="1471.05" stroke="#000" stroke-width="2.00" stroke-linecap="round"/><line x1="416.65" y1="1462.15" x2="416.65" y2="1471.05" stroke="#000" stroke-width="2.00" stroke-linecap="round"/><line x1="423.19" y1="1462.15" x2="423.19" y2="1471.05" stroke="#000" stroke-width="2.00" stroke-linecap="round"/><line x1="429.72" y1="1462.15" x2="429.72" y2="1471.05" stroke="#000" stroke-width="2.00" stroke-linecap="round"/><line x1="436.26" y1="1462.15" x2="436.26" y2="1471.05" stroke="#000" stroke-width="2.00" stroke-linecap="round"/><line x1="442.80" y1="1462.15" x2="442.80" y2="1471.05" stroke="#000" stroke-width="2.00" stroke-linecap="round"/><line x1="449.33" y1="1462.15" x2="449.33" y2="1471.05" stroke="#000" stroke-width="2.00" stroke-linecap="round"/><line x1="455.87" y1="1462.15" x2="455.87" y2="1471.05" stroke="#000" stroke-width="2.00" stroke-linecap="round"/><line x1="462.40" y1="1462.15" x2="462.40" y2="1471.05" stroke="#000" stroke-width="2.00" stroke-linecap="round"/><line x1="468.94" y1="1462.15" x2="468.94" y2="1479.95" stroke="#000" stroke-width="2.60" stroke-linecap="round"/><text transform="translate(468.94,1512.29) scale(1,1.050)" font-size="19.7" text-anchor="middle">4000</text><line x1="475.48" y1="1462.15" x2="475.48" y2="1471.05" stroke="#000" stroke-width="2.00" stroke-linecap="round"/><line x1="482.01" y1="1462.15" x2="482.01" y2="1471.05" stroke="#000" stroke-width="2.00" stroke-linecap="round"/><line x1="488.55" y1="1462.15" x2="488.55" y2="1471.05" stroke="#000" stroke-width="2.00" stroke-linecap="round"/><line x1="495.08" y1="1462.15" x2="495.08" y2="1471.05" stroke="#000" stroke-width="2.00" stroke-linecap="round"/><line x1="501.62" y1="1462.15" x2="501.62" y2="1471.05" stroke="#000" stroke-width="2.00" stroke-linecap="round"/><line x1="508.16" y1="1462.15" x2="508.16" y2="1471.05" stroke="#000" stroke-width="2.00" stroke-linecap="round"/><line x1="514.69" y1="1462.15" x2="514.69" y2="1471.05" stroke="#000" stroke-width="2.00" stroke-linecap="round"/><line x1="521.23" y1="1462.15" x2="521.23" y2="1471.05" stroke="#000" stroke-width="2.00" stroke-linecap="round"/><line x1="527.76" y1="1462.15" x2="527.76" y2="1471.05" stroke="#000" stroke-width="2.00" stroke-linecap="round"/><line x1="534.30" y1="1462.15" x2="534.30" y2="1479.95" stroke="#000" stroke-width="2.60" stroke-linecap="round"/><text transform="translate(534.30,1512.29) scale(1,1.050)" font-size="19.7" text-anchor="middle">5000</text><line x1="272.86" y1="1198.63" x2="272.86" y2="1462.15" stroke="#000" stroke-width="2.10" stroke-dasharray="7.0 7.8" stroke-dashoffset="8.89"/><text x="279.16" y="1228.69" font-size="22.0">Infection</text><path d="M207.50,1452.39 L211.59,1452.39 L215.67,1452.39 L219.75,1452.39 L223.84,1452.39 L227.93,1452.39 L232.01,1452.39 L236.09,1452.39 L240.18,1452.39 L244.26,1452.39 L248.35,1452.39 L252.44,1452.39 L256.52,1452.39 L260.61,1452.39 L264.69,1452.39 L268.77,1452.39 L272.86,1452.39 L272.94,1452.37 L273.02,1452.33 L273.11,1452.25 L273.19,1452.15 L273.27,1452.02 L273.35,1451.86 L273.43,1451.69 L273.51,1451.50 L273.60,1451.28 L273.68,1451.06 L273.76,1450.81 L273.84,1450.56 L273.92,1450.30 L274.00,1450.02 L274.09,1449.75 L274.17,1449.46 L274.27,1449.05 L274.37,1448.54 L274.47,1447.94 L274.58,1447.26 L274.68,1446.49 L274.78,1445.66 L274.88,1444.77 L274.98,1443.83 L275.09,1442.84 L275.19,1441.81 L275.29,1440.75 L275.39,1439.67 L275.49,1438.58 L275.60,1437.49 L275.70,1436.39 L275.80,1435.31 L275.90,1434.20 L276.01,1433.04 L276.11,1431.81 L276.21,1430.54 L276.31,1429.23 L276.41,1427.87 L276.52,1426.48 L276.62,1425.07 L276.72,1423.63 L276.82,1422.17 L276.92,1420.70 L277.03,1419.23 L277.13,1417.75 L277.23,1416.27 L277.33,1414.80 L277.44,1413.35 L277.54,1411.88 L277.64,1410.38 L277.74,1408.84 L277.84,1407.27 L277.95,1405.69 L278.05,1404.09 L278.15,1402.49 L278.25,1400.89 L278.35,1399.30 L278.46,1397.72 L278.56,1396.17 L278.66,1394.64 L278.76,1393.15 L278.86,1391.70 L278.97,1390.30 L279.07,1388.95 L279.16,1387.72 L279.26,1386.47 L279.35,1385.20 L279.45,1383.93 L279.54,1382.65 L279.63,1381.40 L279.73,1380.17 L279.82,1378.97 L279.91,1377.82 L280.01,1376.72 L280.10,1375.69 L280.20,1374.73 L280.29,1373.86 L280.38,1373.09 L280.48,1372.42 L280.57,1371.87 L280.66,1371.40 L280.75,1370.94 L280.84,1370.49 L280.93,1370.05 L281.02,1369.63 L281.11,1369.23 L281.20,1368.85 L281.29,1368.49 L281.38,1368.17 L281.47,1367.88 L281.56,1367.62 L281.65,1367.40 L281.74,1367.23 L281.83,1367.10 L281.92,1367.02 L282.01,1366.99 L282.09,1366.99 L282.17,1366.99 L282.26,1366.99 L282.34,1366.99 L282.42,1366.99 L282.50,1366.99 L282.58,1366.99 L282.66,1366.99 L282.75,1366.99 L282.83,1366.99 L282.91,1366.99 L282.99,1366.99 L283.07,1366.99 L283.15,1366.99 L283.24,1366.99 L283.32,1366.99 L283.48,1367.01 L283.64,1367.08 L283.81,1367.19 L283.97,1367.33 L284.13,1367.50 L284.30,1367.70 L284.46,1367.91 L284.62,1368.14 L284.79,1368.38 L284.95,1368.63 L285.12,1368.87 L285.28,1369.11 L285.44,1369.34 L285.61,1369.55 L285.77,1369.75 L285.93,1369.92 L286.14,1370.11 L286.34,1370.31 L286.54,1370.52 L286.75,1370.72 L286.95,1370.92 L287.16,1371.12 L287.36,1371.31 L287.57,1371.50 L287.77,1371.68 L287.97,1371.85 L288.18,1372.01 L288.38,1372.16 L288.59,1372.29 L288.79,1372.41 L289.00,1372.52 L289.20,1372.60 L289.61,1372.75 L290.02,1372.89 L290.43,1373.03 L290.83,1373.15 L291.24,1373.27 L291.65,1373.38 L292.06,1373.48 L292.47,1373.57 L292.88,1373.66 L293.28,1373.74 L293.69,1373.81 L294.10,1373.87 L294.51,1373.93 L294.92,1373.98 L295.33,1374.03 L295.74,1374.07 L296.35,1374.12 L296.96,1374.17 L297.57,1374.21 L298.19,1374.26 L298.80,1374.30 L299.41,1374.34 L300.03,1374.38 L300.64,1374.41 L301.25,1374.45 L301.86,1374.47 L302.48,1374.50 L303.09,1374.52 L303.70,1374.53 L304.31,1374.54 L304.93,1374.55 L305.54,1374.55 L319.84,1374.55 L334.13,1374.55 L348.43,1374.55 L362.73,1374.55 L377.03,1374.55 L391.33,1374.55 L405.62,1374.55 L419.92,1374.55 L434.22,1374.55 L448.51,1374.55 L462.81,1374.55 L477.11,1374.55 L491.41,1374.55 L505.70,1374.55 L520.00,1374.55 L534.30,1374.55" fill="none" stroke="#000" stroke-width="3.50" stroke-linecap="round" stroke-linejoin="round" clip-path="url(#cp30)"/><rect x="194.43" y="1198.63" width="352.94" height="263.52" fill="none" stroke="#000" stroke-width="2.70" stroke-linejoin="round"/></g>
<g><line x1="660.70" y1="1452.39" x2="642.90" y2="1452.39" stroke="#000" stroke-width="2.60" stroke-linecap="round"/><text transform="translate(639.70,1452.99) scale(1,1.050)" font-size="32.0" text-anchor="end" dominant-baseline="central">0</text><line x1="660.70" y1="1403.59" x2="642.90" y2="1403.59" stroke="#000" stroke-width="2.60" stroke-linecap="round"/><text transform="translate(639.70,1404.19) scale(1,1.050)" font-size="32.0" text-anchor="end" dominant-baseline="central">2</text><line x1="660.70" y1="1354.79" x2="642.90" y2="1354.79" stroke="#000" stroke-width="2.60" stroke-linecap="round"/><text transform="translate(639.70,1355.39) scale(1,1.050)" font-size="32.0" text-anchor="end" dominant-baseline="central">4</text><line x1="660.70" y1="1305.99" x2="642.90" y2="1305.99" stroke="#000" stroke-width="2.60" stroke-linecap="round"/><text transform="translate(639.70,1306.59) scale(1,1.050)" font-size="32.0" text-anchor="end" dominant-baseline="central">6</text><line x1="660.70" y1="1257.19" x2="642.90" y2="1257.19" stroke="#000" stroke-width="2.60" stroke-linecap="round"/><text transform="translate(639.70,1257.79) scale(1,1.050)" font-size="32.0" text-anchor="end" dominant-baseline="central">8</text><line x1="660.70" y1="1208.39" x2="642.90" y2="1208.39" stroke="#000" stroke-width="2.60" stroke-linecap="round"/><text transform="translate(639.70,1208.99) scale(1,1.050)" font-size="32.0" text-anchor="end" dominant-baseline="central">10</text><line x1="660.70" y1="1440.19" x2="651.80" y2="1440.19" stroke="#000" stroke-width="2.00" stroke-linecap="round"/><line x1="660.70" y1="1427.99" x2="651.80" y2="1427.99" stroke="#000" stroke-width="2.00" stroke-linecap="round"/><line x1="660.70" y1="1415.79" x2="651.80" y2="1415.79" stroke="#000" stroke-width="2.00" stroke-linecap="round"/><line x1="660.70" y1="1391.39" x2="651.80" y2="1391.39" stroke="#000" stroke-width="2.00" stroke-linecap="round"/><line x1="660.70" y1="1379.19" x2="651.80" y2="1379.19" stroke="#000" stroke-width="2.00" stroke-linecap="round"/><line x1="660.70" y1="1366.99" x2="651.80" y2="1366.99" stroke="#000" stroke-width="2.00" stroke-linecap="round"/><line x1="660.70" y1="1342.59" x2="651.80" y2="1342.59" stroke="#000" stroke-width="2.00" stroke-linecap="round"/><line x1="660.70" y1="1330.39" x2="651.80" y2="1330.39" stroke="#000" stroke-width="2.00" stroke-linecap="round"/><line x1="660.70" y1="1318.19" x2="651.80" y2="1318.19" stroke="#000" stroke-width="2.00" stroke-linecap="round"/><line x1="660.70" y1="1293.79" x2="651.80" y2="1293.79" stroke="#000" stroke-width="2.00" stroke-linecap="round"/><line x1="660.70" y1="1281.59" x2="651.80" y2="1281.59" stroke="#000" stroke-width="2.00" stroke-linecap="round"/><line x1="660.70" y1="1269.39" x2="651.80" y2="1269.39" stroke="#000" stroke-width="2.00" stroke-linecap="round"/><line x1="660.70" y1="1244.99" x2="651.80" y2="1244.99" stroke="#000" stroke-width="2.00" stroke-linecap="round"/><line x1="660.70" y1="1232.79" x2="651.80" y2="1232.79" stroke="#000" stroke-width="2.00" stroke-linecap="round"/><line x1="660.70" y1="1220.59" x2="651.80" y2="1220.59" stroke="#000" stroke-width="2.00" stroke-linecap="round"/><line x1="673.77" y1="1462.15" x2="673.77" y2="1479.95" stroke="#000" stroke-width="2.60" stroke-linecap="round"/><text transform="translate(673.77,1512.29) scale(1,1.050)" font-size="19.7" text-anchor="middle">0</text><line x1="680.31" y1="1462.15" x2="680.31" y2="1471.05" stroke="#000" stroke-width="2.00" stroke-linecap="round"/><line x1="686.84" y1="1462.15" x2="686.84" y2="1471.05" stroke="#000" stroke-width="2.00" stroke-linecap="round"/><line x1="693.38" y1="1462.15" x2="693.38" y2="1471.05" stroke="#000" stroke-width="2.00" stroke-linecap="round"/><line x1="699.91" y1="1462.15" x2="699.91" y2="1471.05" stroke="#000" stroke-width="2.00" stroke-linecap="round"/><line x1="706.45" y1="1462.15" x2="706.45" y2="1471.05" stroke="#000" stroke-width="2.00" stroke-linecap="round"/><line x1="712.99" y1="1462.15" x2="712.99" y2="1471.05" stroke="#000" stroke-width="2.00" stroke-linecap="round"/><line x1="719.52" y1="1462.15" x2="719.52" y2="1471.05" stroke="#000" stroke-width="2.00" stroke-linecap="round"/><line x1="726.06" y1="1462.15" x2="726.06" y2="1471.05" stroke="#000" stroke-width="2.00" stroke-linecap="round"/><line x1="732.59" y1="1462.15" x2="732.59" y2="1471.05" stroke="#000" stroke-width="2.00" stroke-linecap="round"/><line x1="739.13" y1="1462.15" x2="739.13" y2="1479.95" stroke="#000" stroke-width="2.60" stroke-linecap="round"/><text transform="translate(739.13,1512.29) scale(1,1.050)" font-size="19.7" text-anchor="middle">1000</text><line x1="745.67" y1="1462.15" x2="745.67" y2="1471.05" stroke="#000" stroke-width="2.00" stroke-linecap="round"/><line x1="752.20" y1="1462.15" x2="752.20" y2="1471.05" stroke="#000" stroke-width="2.00" stroke-linecap="round"/><line x1="758.74" y1="1462.15" x2="758.74" y2="1471.05" stroke="#000" stroke-width="2.00" stroke-linecap="round"/><line x1="765.27" y1="1462.15" x2="765.27" y2="1471.05" stroke="#000" stroke-width="2.00" stroke-linecap="round"/><line x1="771.81" y1="1462.15" x2="771.81" y2="1471.05" stroke="#000" stroke-width="2.00" stroke-linecap="round"/><line x1="778.35" y1="1462.15" x2="778.35" y2="1471.05" stroke="#000" stroke-width="2.00" stroke-linecap="round"/><line x1="784.88" y1="1462.15" x2="784.88" y2="1471.05" stroke="#000" stroke-width="2.00" stroke-linecap="round"/><line x1="791.42" y1="1462.15" x2="791.42" y2="1471.05" stroke="#000" stroke-width="2.00" stroke-linecap="round"/><line x1="797.95" y1="1462.15" x2="797.95" y2="1471.05" stroke="#000" stroke-width="2.00" stroke-linecap="round"/><line x1="804.49" y1="1462.15" x2="804.49" y2="1479.95" stroke="#000" stroke-width="2.60" stroke-linecap="round"/><text transform="translate(804.49,1512.29) scale(1,1.050)" font-size="19.7" text-anchor="middle">2000</text><line x1="811.03" y1="1462.15" x2="811.03" y2="1471.05" stroke="#000" stroke-width="2.00" stroke-linecap="round"/><line x1="817.56" y1="1462.15" x2="817.56" y2="1471.05" stroke="#000" stroke-width="2.00" stroke-linecap="round"/><line x1="824.10" y1="1462.15" x2="824.10" y2="1471.05" stroke="#000" stroke-width="2.00" stroke-linecap="round"/><line x1="830.63" y1="1462.15" x2="830.63" y2="1471.05" stroke="#000" stroke-width="2.00" stroke-linecap="round"/><line x1="837.17" y1="1462.15" x2="837.17" y2="1471.05" stroke="#000" stroke-width="2.00" stroke-linecap="round"/><line x1="843.71" y1="1462.15" x2="843.71" y2="1471.05" stroke="#000" stroke-width="2.00" stroke-linecap="round"/><line x1="850.24" y1="1462.15" x2="850.24" y2="1471.05" stroke="#000" stroke-width="2.00" stroke-linecap="round"/><line x1="856.78" y1="1462.15" x2="856.78" y2="1471.05" stroke="#000" stroke-width="2.00" stroke-linecap="round"/><line x1="863.31" y1="1462.15" x2="863.31" y2="1471.05" stroke="#000" stroke-width="2.00" stroke-linecap="round"/><line x1="869.85" y1="1462.15" x2="869.85" y2="1479.95" stroke="#000" stroke-width="2.60" stroke-linecap="round"/><text transform="translate(869.85,1512.29) scale(1,1.050)" font-size="19.7" text-anchor="middle">3000</text><line x1="876.39" y1="1462.15" x2="876.39" y2="1471.05" stroke="#000" stroke-width="2.00" stroke-linecap="round"/><line x1="882.92" y1="1462.15" x2="882.92" y2="1471.05" stroke="#000" stroke-width="2.00" stroke-linecap="round"/><line x1="889.46" y1="1462.15" x2="889.46" y2="1471.05" stroke="#000" stroke-width="2.00" stroke-linecap="round"/><line x1="895.99" y1="1462.15" x2="895.99" y2="1471.05" stroke="#000" stroke-width="2.00" stroke-linecap="round"/><line x1="902.53" y1="1462.15" x2="902.53" y2="1471.05" stroke="#000" stroke-width="2.00" stroke-linecap="round"/><line x1="909.07" y1="1462.15" x2="909.07" y2="1471.05" stroke="#000" stroke-width="2.00" stroke-linecap="round"/><line x1="915.60" y1="1462.15" x2="915.60" y2="1471.05" stroke="#000" stroke-width="2.00" stroke-linecap="round"/><line x1="922.14" y1="1462.15" x2="922.14" y2="1471.05" stroke="#000" stroke-width="2.00" stroke-linecap="round"/><line x1="928.67" y1="1462.15" x2="928.67" y2="1471.05" stroke="#000" stroke-width="2.00" stroke-linecap="round"/><line x1="935.21" y1="1462.15" x2="935.21" y2="1479.95" stroke="#000" stroke-width="2.60" stroke-linecap="round"/><text transform="translate(935.21,1512.29) scale(1,1.050)" font-size="19.7" text-anchor="middle">4000</text><line x1="941.75" y1="1462.15" x2="941.75" y2="1471.05" stroke="#000" stroke-width="2.00" stroke-linecap="round"/><line x1="948.28" y1="1462.15" x2="948.28" y2="1471.05" stroke="#000" stroke-width="2.00" stroke-linecap="round"/><line x1="954.82" y1="1462.15" x2="954.82" y2="1471.05" stroke="#000" stroke-width="2.00" stroke-linecap="round"/><line x1="961.35" y1="1462.15" x2="961.35" y2="1471.05" stroke="#000" stroke-width="2.00" stroke-linecap="round"/><line x1="967.89" y1="1462.15" x2="967.89" y2="1471.05" stroke="#000" stroke-width="2.00" stroke-linecap="round"/><line x1="974.43" y1="1462.15" x2="974.43" y2="1471.05" stroke="#000" stroke-width="2.00" stroke-linecap="round"/><line x1="980.96" y1="1462.15" x2="980.96" y2="1471.05" stroke="#000" stroke-width="2.00" stroke-linecap="round"/><line x1="987.50" y1="1462.15" x2="987.50" y2="1471.05" stroke="#000" stroke-width="2.00" stroke-linecap="round"/><line x1="994.03" y1="1462.15" x2="994.03" y2="1471.05" stroke="#000" stroke-width="2.00" stroke-linecap="round"/><line x1="1000.57" y1="1462.15" x2="1000.57" y2="1479.95" stroke="#000" stroke-width="2.60" stroke-linecap="round"/><text transform="translate(1000.57,1512.29) scale(1,1.050)" font-size="19.7" text-anchor="middle">5000</text><line x1="739.13" y1="1198.63" x2="739.13" y2="1462.15" stroke="#000" stroke-width="2.10" stroke-dasharray="7.0 7.8" stroke-dashoffset="8.89"/><text x="746.12" y="1229.49" font-size="24.4">Infection</text><path d="M673.77,1354.79 L677.86,1354.79 L681.94,1354.79 L686.02,1354.79 L690.11,1354.79 L694.19,1354.79 L698.28,1354.79 L702.37,1354.79 L706.45,1354.79 L710.53,1354.79 L714.62,1354.79 L718.70,1354.79 L722.79,1354.79 L726.88,1354.79 L730.96,1354.79 L735.04,1354.79 L739.13,1354.79 L739.25,1354.77 L739.38,1354.73 L739.50,1354.65 L739.62,1354.54 L739.74,1354.41 L739.87,1354.25 L739.99,1354.08 L740.11,1353.88 L740.23,1353.67 L740.36,1353.44 L740.48,1353.20 L740.60,1352.95 L740.72,1352.68 L740.85,1352.41 L740.97,1352.14 L741.09,1351.86 L741.21,1351.55 L741.34,1351.18 L741.46,1350.74 L741.58,1350.26 L741.70,1349.73 L741.83,1349.16 L741.95,1348.56 L742.07,1347.93 L742.19,1347.27 L742.32,1346.61 L742.44,1345.93 L742.56,1345.24 L742.68,1344.56 L742.81,1343.89 L742.93,1343.23 L743.05,1342.59 L743.17,1341.95 L743.30,1341.30 L743.42,1340.63 L743.54,1339.96 L743.66,1339.27 L743.79,1338.57 L743.91,1337.87 L744.03,1337.17 L744.15,1336.46 L744.28,1335.75 L744.40,1335.05 L744.52,1334.34 L744.64,1333.65 L744.77,1332.96 L744.89,1332.28 L745.01,1331.61 L745.11,1331.05 L745.22,1330.46 L745.32,1329.86 L745.42,1329.25 L745.52,1328.64 L745.63,1328.02 L745.73,1327.41 L745.83,1326.82 L745.93,1326.23 L746.03,1325.67 L746.14,1325.14 L746.24,1324.64 L746.34,1324.18 L746.44,1323.76 L746.54,1323.39 L746.65,1323.07 L746.75,1322.78 L746.85,1322.50 L746.95,1322.22 L747.05,1321.95 L747.16,1321.70 L747.26,1321.45 L747.36,1321.21 L747.46,1320.99 L747.57,1320.78 L747.67,1320.59 L747.77,1320.42 L747.87,1320.27 L747.97,1320.14 L748.08,1320.03 L748.18,1319.95 L748.28,1319.90 L748.42,1319.84 L748.57,1319.79 L748.71,1319.74 L748.85,1319.69 L749.00,1319.65 L749.14,1319.61 L749.28,1319.57 L749.42,1319.54 L749.57,1319.51 L749.71,1319.48 L749.85,1319.46 L750.00,1319.44 L750.14,1319.43 L750.28,1319.42 L750.43,1319.41 L750.57,1319.41 L750.79,1319.43 L751.02,1319.49 L751.24,1319.57 L751.47,1319.69 L751.69,1319.83 L751.92,1319.99 L752.14,1320.16 L752.37,1320.34 L752.59,1320.53 L752.81,1320.71 L753.04,1320.90 L753.26,1321.07 L753.49,1321.24 L753.71,1321.38 L753.94,1321.51 L754.16,1321.61 L754.45,1321.71 L754.73,1321.82 L755.02,1321.93 L755.31,1322.03 L755.59,1322.13 L755.88,1322.22 L756.16,1322.32 L756.45,1322.40 L756.74,1322.48 L757.02,1322.56 L757.31,1322.62 L757.59,1322.68 L757.88,1322.73 L758.17,1322.78 L758.45,1322.81 L758.74,1322.83 L759.35,1322.86 L759.96,1322.88 L760.58,1322.91 L761.19,1322.93 L761.80,1322.96 L762.41,1322.98 L763.03,1322.99 L763.64,1323.01 L764.25,1323.02 L764.87,1323.04 L765.48,1323.05 L766.09,1323.06 L766.70,1323.06 L767.32,1323.07 L767.93,1323.07 L768.54,1323.07 L783.04,1323.07 L797.55,1323.07 L812.05,1323.07 L826.55,1323.07 L841.05,1323.07 L855.55,1323.07 L870.05,1323.07 L884.56,1323.07 L899.06,1323.07 L913.56,1323.07 L928.06,1323.07 L942.56,1323.07 L957.06,1323.07 L971.57,1323.07 L986.07,1323.07 L1000.57,1323.07" fill="none" stroke="#000" stroke-width="3.50" stroke-linecap="round" stroke-linejoin="round" clip-path="url(#cp31)"/><rect x="660.70" y="1198.63" width="352.94" height="263.52" fill="none" stroke="#000" stroke-width="2.70" stroke-linejoin="round"/></g>
<g><line x1="1126.97" y1="1452.39" x2="1109.17" y2="1452.39" stroke="#000" stroke-width="2.60" stroke-linecap="round"/><text transform="translate(1105.97,1452.99) scale(1,1.050)" font-size="32.0" text-anchor="end" dominant-baseline="central">0.01</text><line x1="1126.97" y1="1403.59" x2="1109.17" y2="1403.59" stroke="#000" stroke-width="2.60" stroke-linecap="round"/><text transform="translate(1105.97,1404.19) scale(1,1.050)" font-size="32.0" text-anchor="end" dominant-baseline="central">0.1</text><line x1="1126.97" y1="1354.79" x2="1109.17" y2="1354.79" stroke="#000" stroke-width="2.60" stroke-linecap="round"/><text transform="translate(1105.97,1355.39) scale(1,1.050)" font-size="32.0" text-anchor="end" dominant-baseline="central">1</text><line x1="1126.97" y1="1305.99" x2="1109.17" y2="1305.99" stroke="#000" stroke-width="2.60" stroke-linecap="round"/><text transform="translate(1105.97,1306.59) scale(1,1.050)" font-size="32.0" text-anchor="end" dominant-baseline="central">10</text><line x1="1126.97" y1="1257.19" x2="1109.17" y2="1257.19" stroke="#000" stroke-width="2.60" stroke-linecap="round"/><text transform="translate(1105.97,1257.79) scale(1,1.050)" font-size="32.0" text-anchor="end" dominant-baseline="central">100</text><line x1="1126.97" y1="1208.39" x2="1109.17" y2="1208.39" stroke="#000" stroke-width="2.60" stroke-linecap="round"/><text transform="translate(1105.97,1208.99) scale(1,1.050)" font-size="32.0" text-anchor="end" dominant-baseline="central">1000</text><line x1="1140.04" y1="1462.15" x2="1140.04" y2="1479.95" stroke="#000" stroke-width="2.60" stroke-linecap="round"/><text transform="translate(1140.04,1512.29) scale(1,1.050)" font-size="19.7" text-anchor="middle">0</text><line x1="1146.58" y1="1462.15" x2="1146.58" y2="1471.05" stroke="#000" stroke-width="2.00" stroke-linecap="round"/><line x1="1153.11" y1="1462.15" x2="1153.11" y2="1471.05" stroke="#000" stroke-width="2.00" stroke-linecap="round"/><line x1="1159.65" y1="1462.15" x2="1159.65" y2="1471.05" stroke="#000" stroke-width="2.00" stroke-linecap="round"/><line x1="1166.18" y1="1462.15" x2="1166.18" y2="1471.05" stroke="#000" stroke-width="2.00" stroke-linecap="round"/><line x1="1172.72" y1="1462.15" x2="1172.72" y2="1471.05" stroke="#000" stroke-width="2.00" stroke-linecap="round"/><line x1="1179.26" y1="1462.15" x2="1179.26" y2="1471.05" stroke="#000" stroke-width="2.00" stroke-linecap="round"/><line x1="1185.79" y1="1462.15" x2="1185.79" y2="1471.05" stroke="#000" stroke-width="2.00" stroke-linecap="round"/><line x1="1192.33" y1="1462.15" x2="1192.33" y2="1471.05" stroke="#000" stroke-width="2.00" stroke-linecap="round"/><line x1="1198.86" y1="1462.15" x2="1198.86" y2="1471.05" stroke="#000" stroke-width="2.00" stroke-linecap="round"/><line x1="1205.40" y1="1462.15" x2="1205.40" y2="1479.95" stroke="#000" stroke-width="2.60" stroke-linecap="round"/><text transform="translate(1205.40,1512.29) scale(1,1.050)" font-size="19.7" text-anchor="middle">1000</text><line x1="1211.94" y1="1462.15" x2="1211.94" y2="1471.05" stroke="#000" stroke-width="2.00" stroke-linecap="round"/><line x1="1218.47" y1="1462.15" x2="1218.47" y2="1471.05" stroke="#000" stroke-width="2.00" stroke-linecap="round"/><line x1="1225.01" y1="1462.15" x2="1225.01" y2="1471.05" stroke="#000" stroke-width="2.00" stroke-linecap="round"/><line x1="1231.54" y1="1462.15" x2="1231.54" y2="1471.05" stroke="#000" stroke-width="2.00" stroke-linecap="round"/><line x1="1238.08" y1="1462.15" x2="1238.08" y2="1471.05" stroke="#000" stroke-width="2.00" stroke-linecap="round"/><line x1="1244.62" y1="1462.15" x2="1244.62" y2="1471.05" stroke="#000" stroke-width="2.00" stroke-linecap="round"/><line x1="1251.15" y1="1462.15" x2="1251.15" y2="1471.05" stroke="#000" stroke-width="2.00" stroke-linecap="round"/><line x1="1257.69" y1="1462.15" x2="1257.69" y2="1471.05" stroke="#000" stroke-width="2.00" stroke-linecap="round"/><line x1="1264.22" y1="1462.15" x2="1264.22" y2="1471.05" stroke="#000" stroke-width="2.00" stroke-linecap="round"/><line x1="1270.76" y1="1462.15" x2="1270.76" y2="1479.95" stroke="#000" stroke-width="2.60" stroke-linecap="round"/><text transform="translate(1270.76,1512.29) scale(1,1.050)" font-size="19.7" text-anchor="middle">2000</text><line x1="1277.30" y1="1462.15" x2="1277.30" y2="1471.05" stroke="#000" stroke-width="2.00" stroke-linecap="round"/><line x1="1283.83" y1="1462.15" x2="1283.83" y2="1471.05" stroke="#000" stroke-width="2.00" stroke-linecap="round"/><line x1="1290.37" y1="1462.15" x2="1290.37" y2="1471.05" stroke="#000" stroke-width="2.00" stroke-linecap="round"/><line x1="1296.90" y1="1462.15" x2="1296.90" y2="1471.05" stroke="#000" stroke-width="2.00" stroke-linecap="round"/><line x1="1303.44" y1="1462.15" x2="1303.44" y2="1471.05" stroke="#000" stroke-width="2.00" stroke-linecap="round"/><line x1="1309.98" y1="1462.15" x2="1309.98" y2="1471.05" stroke="#000" stroke-width="2.00" stroke-linecap="round"/><line x1="1316.51" y1="1462.15" x2="1316.51" y2="1471.05" stroke="#000" stroke-width="2.00" stroke-linecap="round"/><line x1="1323.05" y1="1462.15" x2="1323.05" y2="1471.05" stroke="#000" stroke-width="2.00" stroke-linecap="round"/><line x1="1329.58" y1="1462.15" x2="1329.58" y2="1471.05" stroke="#000" stroke-width="2.00" stroke-linecap="round"/><line x1="1336.12" y1="1462.15" x2="1336.12" y2="1479.95" stroke="#000" stroke-width="2.60" stroke-linecap="round"/><text transform="translate(1336.12,1512.29) scale(1,1.050)" font-size="19.7" text-anchor="middle">3000</text><line x1="1342.66" y1="1462.15" x2="1342.66" y2="1471.05" stroke="#000" stroke-width="2.00" stroke-linecap="round"/><line x1="1349.19" y1="1462.15" x2="1349.19" y2="1471.05" stroke="#000" stroke-width="2.00" stroke-linecap="round"/><line x1="1355.73" y1="1462.15" x2="1355.73" y2="1471.05" stroke="#000" stroke-width="2.00" stroke-linecap="round"/><line x1="1362.26" y1="1462.15" x2="1362.26" y2="1471.05" stroke="#000" stroke-width="2.00" stroke-linecap="round"/><line x1="1368.80" y1="1462.15" x2="1368.80" y2="1471.05" stroke="#000" stroke-width="2.00" stroke-linecap="round"/><line x1="1375.34" y1="1462.15" x2="1375.34" y2="1471.05" stroke="#000" stroke-width="2.00" stroke-linecap="round"/><line x1="1381.87" y1="1462.15" x2="1381.87" y2="1471.05" stroke="#000" stroke-width="2.00" stroke-linecap="round"/><line x1="1388.41" y1="1462.15" x2="1388.41" y2="1471.05" stroke="#000" stroke-width="2.00" stroke-linecap="round"/><line x1="1394.94" y1="1462.15" x2="1394.94" y2="1471.05" stroke="#000" stroke-width="2.00" stroke-linecap="round"/><line x1="1401.48" y1="1462.15" x2="1401.48" y2="1479.95" stroke="#000" stroke-width="2.60" stroke-linecap="round"/><text transform="translate(1401.48,1512.29) scale(1,1.050)" font-size="19.7" text-anchor="middle">4000</text><line x1="1408.02" y1="1462.15" x2="1408.02" y2="1471.05" stroke="#000" stroke-width="2.00" stroke-linecap="round"/><line x1="1414.55" y1="1462.15" x2="1414.55" y2="1471.05" stroke="#000" stroke-width="2.00" stroke-linecap="round"/><line x1="1421.09" y1="1462.15" x2="1421.09" y2="1471.05" stroke="#000" stroke-width="2.00" stroke-linecap="round"/><line x1="1427.62" y1="1462.15" x2="1427.62" y2="1471.05" stroke="#000" stroke-width="2.00" stroke-linecap="round"/><line x1="1434.16" y1="1462.15" x2="1434.16" y2="1471.05" stroke="#000" stroke-width="2.00" stroke-linecap="round"/><line x1="1440.70" y1="1462.15" x2="1440.70" y2="1471.05" stroke="#000" stroke-width="2.00" stroke-linecap="round"/><line x1="1447.23" y1="1462.15" x2="1447.23" y2="1471.05" stroke="#000" stroke-width="2.00" stroke-linecap="round"/><line x1="1453.77" y1="1462.15" x2="1453.77" y2="1471.05" stroke="#000" stroke-width="2.00" stroke-linecap="round"/><line x1="1460.30" y1="1462.15" x2="1460.30" y2="1471.05" stroke="#000" stroke-width="2.00" stroke-linecap="round"/><line x1="1466.84" y1="1462.15" x2="1466.84" y2="1479.95" stroke="#000" stroke-width="2.60" stroke-linecap="round"/><text transform="translate(1466.84,1512.29) scale(1,1.050)" font-size="19.7" text-anchor="middle">5000</text><line x1="1205.40" y1="1198.63" x2="1205.40" y2="1462.15" stroke="#000" stroke-width="2.10" stroke-dasharray="7.0 7.8" stroke-dashoffset="8.89"/><text x="1211.70" y="1226.29" font-size="22.0">Infection</text><path d="M1205.40,1316.97 L1466.84,1316.97" fill="none" stroke="#d70000" stroke-width="2.20" stroke-dasharray="7.4 7.4" stroke-dashoffset="9.80" clip-path="url(#cp32)"/><path d="M1205.40,1327.80 L1466.84,1327.80" fill="none" stroke="#2a5c0a" stroke-width="2.20" stroke-dasharray="7.4 7.4" stroke-dashoffset="10.85" clip-path="url(#cp32)"/><path d="M1140.04,1357.28 L1141.22,1293.40 L1141.39,1293.39 L1141.56,1293.37 L1141.73,1293.36 L1141.90,1293.34 L1142.07,1293.33 L1142.25,1293.31 L1142.42,1293.29 L1142.59,1293.28 L1142.76,1293.26 L1142.93,1293.25 L1143.10,1293.24 L1143.28,1293.23 L1143.45,1293.22 L1143.62,1293.21 L1143.79,1293.21 L1143.96,1293.20 L1144.84,1293.21 L1145.73,1293.21 L1146.61,1293.21 L1147.49,1293.22 L1148.37,1293.22 L1149.26,1293.23 L1150.14,1293.24 L1151.02,1293.26 L1151.90,1293.27 L1152.79,1293.28 L1153.67,1293.30 L1154.55,1293.32 L1155.43,1293.34 L1156.31,1293.36 L1157.20,1293.38 L1158.08,1293.40 L1158.59,1293.42 L1159.09,1293.44 L1159.60,1293.47 L1160.11,1293.51 L1160.61,1293.56 L1161.12,1293.61 L1161.63,1293.66 L1162.13,1293.72 L1162.64,1293.79 L1163.14,1293.85 L1163.65,1293.92 L1164.16,1293.99 L1164.66,1294.06 L1165.17,1294.13 L1165.68,1294.21 L1166.18,1294.28 L1166.43,1294.31 L1166.68,1294.35 L1166.93,1294.38 L1167.18,1294.42 L1167.43,1294.45 L1167.68,1294.49 L1167.93,1294.53 L1168.18,1294.57 L1168.43,1294.61 L1168.68,1294.66 L1168.93,1294.71 L1169.17,1294.76 L1169.42,1294.82 L1169.67,1294.88 L1169.92,1294.94 L1170.17,1295.01 L1170.35,1295.07 L1170.53,1295.13 L1170.71,1295.21 L1170.89,1295.29 L1171.07,1295.39 L1171.25,1295.48 L1171.43,1295.59 L1171.61,1295.70 L1171.79,1295.82 L1171.97,1295.94 L1172.15,1296.06 L1172.33,1296.19 L1172.51,1296.32 L1172.69,1296.45 L1172.87,1296.58 L1173.05,1296.72 L1173.17,1296.81 L1173.29,1296.90 L1173.41,1297.00 L1173.54,1297.10 L1173.66,1297.20 L1173.78,1297.30 L1173.90,1297.41 L1174.03,1297.52 L1174.15,1297.63 L1174.27,1297.75 L1174.39,1297.87 L1174.52,1298.00 L1174.64,1298.14 L1174.76,1298.28 L1174.89,1298.42 L1175.01,1298.57 L1175.11,1298.71 L1175.21,1298.85 L1175.31,1299.01 L1175.42,1299.17 L1175.52,1299.35 L1175.62,1299.53 L1175.72,1299.72 L1175.82,1299.91 L1175.93,1300.11 L1176.03,1300.32 L1176.13,1300.53 L1176.23,1300.74 L1176.34,1300.95 L1176.44,1301.17 L1176.54,1301.38 L1176.64,1301.60 L1176.72,1301.76 L1176.80,1301.93 L1176.87,1302.09 L1176.95,1302.26 L1177.03,1302.43 L1177.11,1302.60 L1177.18,1302.78 L1177.26,1302.96 L1177.34,1303.14 L1177.42,1303.33 L1177.50,1303.52 L1177.57,1303.72 L1177.65,1303.93 L1177.73,1304.14 L1177.81,1304.35 L1177.88,1304.57 L1177.95,1304.77 L1178.01,1304.98 L1178.08,1305.19 L1178.14,1305.41 L1178.21,1305.64 L1178.28,1305.88 L1178.34,1306.12 L1178.41,1306.36 L1178.47,1306.61 L1178.54,1306.87 L1178.60,1307.13 L1178.67,1307.38 L1178.73,1307.65 L1178.80,1307.91 L1178.86,1308.17 L1178.93,1308.43 L1178.99,1308.68 L1179.05,1308.93 L1179.11,1309.19 L1179.17,1309.46 L1179.24,1309.73 L1179.30,1310.01 L1179.36,1310.28 L1179.42,1310.56 L1179.48,1310.83 L1179.54,1311.11 L1179.60,1311.38 L1179.66,1311.65 L1179.73,1311.92 L1179.79,1312.18 L1179.85,1312.43 L1179.91,1312.68 L1179.97,1312.92 L1180.03,1313.17 L1180.09,1313.43 L1180.15,1313.69 L1180.22,1313.95 L1180.28,1314.21 L1180.34,1314.47 L1180.40,1314.72 L1180.46,1314.96 L1180.52,1315.19 L1180.58,1315.41 L1180.64,1315.61 L1180.71,1315.80 L1180.77,1315.97 L1180.83,1316.11 L1180.89,1316.24 L1180.96,1316.36 L1181.02,1316.48 L1181.09,1316.59 L1181.15,1316.71 L1181.22,1316.81 L1181.28,1316.92 L1181.35,1317.02 L1181.41,1317.11 L1181.48,1317.20 L1181.54,1317.27 L1181.61,1317.34 L1181.67,1317.40 L1181.74,1317.44 L1181.81,1317.48 L1181.87,1317.50 L1181.94,1317.51 L1182.10,1317.50 L1182.25,1317.48 L1182.41,1317.46 L1182.57,1317.42 L1182.73,1317.38 L1182.89,1317.34 L1183.05,1317.29 L1183.21,1317.24 L1183.37,1317.19 L1183.53,1317.14 L1183.69,1317.09 L1183.85,1317.05 L1184.01,1317.02 L1184.17,1316.99 L1184.33,1316.98 L1184.48,1316.97 L1185.79,1316.97 L1187.10,1316.97 L1188.41,1316.97 L1189.71,1316.97 L1191.02,1316.97 L1192.33,1316.97 L1193.64,1316.97 L1194.94,1316.97 L1196.25,1316.97 L1197.56,1316.97 L1198.86,1316.97 L1200.17,1316.97 L1201.48,1316.97 L1202.79,1316.97 L1204.09,1316.97 L1205.40,1316.97 L1205.52,1316.96 L1205.65,1316.91 L1205.77,1316.85 L1205.89,1316.76 L1206.01,1316.65 L1206.14,1316.52 L1206.26,1316.38 L1206.38,1316.23 L1206.50,1316.06 L1206.63,1315.88 L1206.75,1315.70 L1206.87,1315.52 L1206.99,1315.33 L1207.12,1315.14 L1207.24,1314.95 L1207.36,1314.77 L1207.53,1314.51 L1207.70,1314.23 L1207.88,1313.93 L1208.05,1313.60 L1208.22,1313.26 L1208.39,1312.90 L1208.56,1312.53 L1208.73,1312.15 L1208.90,1311.76 L1209.08,1311.36 L1209.25,1310.95 L1209.42,1310.55 L1209.59,1310.14 L1209.76,1309.73 L1209.93,1309.32 L1210.11,1308.92 L1210.26,1308.54 L1210.42,1308.15 L1210.57,1307.73 L1210.73,1307.30 L1210.88,1306.86 L1211.04,1306.42 L1211.19,1305.97 L1211.35,1305.52 L1211.50,1305.09 L1211.66,1304.66 L1211.81,1304.25 L1211.97,1303.86 L1212.12,1303.49 L1212.28,1303.15 L1212.43,1302.84 L1212.59,1302.57 L1212.77,1302.28 L1212.96,1302.00 L1213.14,1301.73 L1213.32,1301.47 L1213.51,1301.21 L1213.69,1300.97 L1213.88,1300.74 L1214.06,1300.52 L1214.24,1300.31 L1214.43,1300.11 L1214.61,1299.93 L1214.80,1299.75 L1214.98,1299.58 L1215.16,1299.43 L1215.35,1299.29 L1215.53,1299.16 L1215.80,1298.98 L1216.06,1298.81 L1216.33,1298.65 L1216.59,1298.50 L1216.86,1298.36 L1217.12,1298.22 L1217.39,1298.09 L1217.65,1297.97 L1217.92,1297.85 L1218.19,1297.74 L1218.45,1297.63 L1218.72,1297.54 L1218.98,1297.45 L1219.25,1297.36 L1219.51,1297.28 L1219.78,1297.21 L1220.11,1297.12 L1220.43,1297.03 L1220.76,1296.95 L1221.09,1296.87 L1221.41,1296.79 L1221.74,1296.72 L1222.07,1296.65 L1222.39,1296.58 L1222.72,1296.52 L1223.05,1296.46 L1223.37,1296.41 L1223.70,1296.36 L1224.03,1296.32 L1224.35,1296.28 L1224.68,1296.25 L1225.01,1296.23 L1225.62,1296.19 L1226.23,1296.16 L1226.85,1296.12 L1227.46,1296.09 L1228.07,1296.06 L1228.68,1296.03 L1229.30,1296.01 L1229.91,1295.98 L1230.52,1295.96 L1231.14,1295.94 L1231.75,1295.93 L1232.36,1295.91 L1232.97,1295.90 L1233.59,1295.89 L1234.20,1295.89 L1234.81,1295.89 L1249.31,1295.89 L1263.82,1295.89 L1278.32,1295.89 L1292.82,1295.89 L1307.32,1295.89 L1321.82,1295.89 L1336.32,1295.89 L1350.83,1295.89 L1365.33,1295.89 L1379.83,1295.89 L1394.33,1295.89 L1408.83,1295.89 L1423.33,1295.89 L1437.84,1295.89 L1452.34,1295.89 L1466.84,1295.89" fill="none" stroke="#d70000" stroke-width="3.50" stroke-linecap="round" stroke-linejoin="round" clip-path="url(#cp32)"/><path d="M1140.04,1403.20 L1140.08,1403.15 L1140.12,1403.10 L1140.16,1403.05 L1140.20,1403.00 L1140.24,1402.94 L1140.29,1402.89 L1140.33,1402.84 L1140.37,1402.79 L1140.41,1402.74 L1140.45,1402.69 L1140.49,1402.64 L1140.53,1402.59 L1140.57,1402.53 L1140.61,1402.48 L1140.65,1402.43 L1140.69,1402.37 L1140.78,1402.26 L1140.86,1402.14 L1140.94,1402.02 L1141.02,1401.90 L1141.10,1401.78 L1141.18,1401.65 L1141.27,1401.52 L1141.35,1401.40 L1141.43,1401.27 L1141.51,1401.14 L1141.59,1401.01 L1141.67,1400.88 L1141.76,1400.75 L1141.84,1400.62 L1141.92,1400.50 L1142.00,1400.37 L1142.49,1399.84 L1142.98,1399.30 L1143.47,1398.77 L1143.96,1398.23 L1144.45,1397.70 L1144.94,1397.16 L1145.43,1396.63 L1145.92,1396.09 L1146.41,1395.56 L1146.90,1395.02 L1147.39,1394.49 L1147.88,1393.97 L1148.37,1393.44 L1148.86,1392.92 L1149.35,1392.39 L1149.84,1391.88 L1150.36,1391.34 L1150.87,1390.82 L1151.39,1390.31 L1151.90,1389.80 L1152.42,1389.30 L1152.93,1388.81 L1153.45,1388.31 L1153.96,1387.81 L1154.48,1387.31 L1154.99,1386.80 L1155.51,1386.28 L1156.02,1385.75 L1156.54,1385.21 L1157.05,1384.65 L1157.56,1384.08 L1158.08,1383.48 L1158.59,1382.89 L1159.09,1382.29 L1159.60,1381.68 L1160.11,1381.07 L1160.61,1380.44 L1161.12,1379.80 L1161.63,1379.15 L1162.13,1378.48 L1162.64,1377.79 L1163.14,1377.08 L1163.65,1376.34 L1164.16,1375.58 L1164.66,1374.79 L1165.17,1373.96 L1165.68,1373.11 L1166.18,1372.21 L1166.54,1371.56 L1166.89,1370.88 L1167.24,1370.16 L1167.59,1369.41 L1167.94,1368.63 L1168.29,1367.82 L1168.64,1366.99 L1168.99,1366.13 L1169.35,1365.24 L1169.70,1364.34 L1170.05,1363.41 L1170.40,1362.46 L1170.75,1361.49 L1171.10,1360.51 L1171.45,1359.51 L1171.80,1358.50 L1172.06,1357.74 L1172.32,1356.97 L1172.58,1356.19 L1172.83,1355.38 L1173.09,1354.56 L1173.35,1353.72 L1173.61,1352.86 L1173.86,1351.98 L1174.12,1351.08 L1174.38,1350.15 L1174.64,1349.21 L1174.89,1348.23 L1175.15,1347.24 L1175.41,1346.22 L1175.67,1345.17 L1175.92,1344.10 L1176.10,1343.32 L1176.27,1342.46 L1176.45,1341.54 L1176.63,1340.56 L1176.80,1339.55 L1176.98,1338.51 L1177.15,1337.46 L1177.33,1336.42 L1177.50,1335.38 L1177.68,1334.37 L1177.85,1333.41 L1178.03,1332.49 L1178.21,1331.64 L1178.38,1330.87 L1178.56,1330.19 L1178.73,1329.61 L1178.81,1329.39 L1178.88,1329.18 L1178.95,1328.97 L1179.03,1328.77 L1179.10,1328.57 L1179.17,1328.38 L1179.25,1328.19 L1179.32,1328.02 L1179.39,1327.85 L1179.47,1327.69 L1179.54,1327.54 L1179.62,1327.40 L1179.69,1327.28 L1179.76,1327.16 L1179.84,1327.06 L1179.91,1326.97 L1179.96,1326.92 L1180.01,1326.87 L1180.06,1326.81 L1180.11,1326.76 L1180.15,1326.71 L1180.20,1326.66 L1180.25,1326.62 L1180.30,1326.57 L1180.35,1326.54 L1180.40,1326.50 L1180.45,1326.47 L1180.50,1326.44 L1180.55,1326.42 L1180.60,1326.40 L1180.64,1326.39 L1180.69,1326.39 L1180.77,1326.40 L1180.84,1326.43 L1180.91,1326.47 L1180.99,1326.52 L1181.06,1326.59 L1181.14,1326.67 L1181.21,1326.75 L1181.28,1326.84 L1181.36,1326.93 L1181.43,1327.02 L1181.50,1327.11 L1181.58,1327.20 L1181.65,1327.28 L1181.72,1327.35 L1181.80,1327.41 L1181.87,1327.46 L1181.95,1327.51 L1182.03,1327.56 L1182.10,1327.60 L1182.18,1327.65 L1182.26,1327.69 L1182.34,1327.74 L1182.41,1327.78 L1182.49,1327.82 L1182.57,1327.86 L1182.65,1327.89 L1182.72,1327.92 L1182.80,1327.95 L1182.88,1327.97 L1182.96,1327.99 L1183.03,1328.00 L1183.11,1328.00 L1183.28,1328.00 L1183.45,1328.00 L1183.61,1327.99 L1183.78,1327.98 L1183.95,1327.98 L1184.12,1327.97 L1184.28,1327.96 L1184.45,1327.95 L1184.62,1327.94 L1184.79,1327.94 L1184.95,1327.93 L1185.12,1327.92 L1185.29,1327.91 L1185.46,1327.91 L1185.62,1327.90 L1185.79,1327.90 L1187.02,1327.89 L1188.24,1327.88 L1189.47,1327.87 L1190.69,1327.86 L1191.92,1327.85 L1193.14,1327.84 L1194.37,1327.83 L1195.60,1327.83 L1196.82,1327.82 L1198.05,1327.82 L1199.27,1327.81 L1200.50,1327.81 L1201.72,1327.81 L1202.95,1327.80 L1204.17,1327.80 L1205.40,1327.80 L1205.52,1327.81 L1205.65,1327.81 L1205.77,1327.82 L1205.89,1327.83 L1206.01,1327.85 L1206.14,1327.87 L1206.26,1327.89 L1206.38,1327.91 L1206.50,1327.94 L1206.63,1327.97 L1206.75,1328.00 L1206.87,1328.04 L1206.99,1328.07 L1207.12,1328.11 L1207.24,1328.15 L1207.36,1328.19 L1207.48,1328.25 L1207.60,1328.32 L1207.72,1328.41 L1207.83,1328.52 L1207.95,1328.64 L1208.07,1328.78 L1208.19,1328.94 L1208.31,1329.11 L1208.43,1329.29 L1208.55,1329.49 L1208.66,1329.70 L1208.78,1329.92 L1208.90,1330.14 L1209.02,1330.38 L1209.14,1330.63 L1209.26,1330.88 L1209.38,1331.19 L1209.51,1331.56 L1209.64,1332.00 L1209.76,1332.48 L1209.89,1333.02 L1210.02,1333.60 L1210.14,1334.21 L1210.27,1334.84 L1210.40,1335.50 L1210.52,1336.18 L1210.65,1336.86 L1210.78,1337.54 L1210.90,1338.22 L1211.03,1338.88 L1211.16,1339.53 L1211.28,1340.15 L1211.44,1340.90 L1211.59,1341.66 L1211.75,1342.43 L1211.90,1343.21 L1212.06,1343.99 L1212.21,1344.78 L1212.37,1345.57 L1212.52,1346.37 L1212.68,1347.17 L1212.83,1347.97 L1212.99,1348.77 L1213.15,1349.56 L1213.30,1350.35 L1213.46,1351.14 L1213.61,1351.92 L1213.77,1352.69 L1215.19,1359.70 L1216.61,1366.66 L1218.03,1373.58 L1219.45,1380.45 L1220.87,1387.29 L1222.30,1394.09 L1223.72,1400.87 L1225.14,1407.63 L1226.56,1414.38 L1227.98,1421.12 L1229.40,1427.85 L1230.83,1434.59 L1232.25,1441.33 L1233.67,1448.09 L1235.09,1454.86 L1236.51,1461.66" fill="none" stroke="#2a5c0a" stroke-width="3.50" stroke-linecap="round" stroke-linejoin="round" clip-path="url(#cp32)"/><rect x="1281.24" y="1363.39" width="185.60" height="89.00" fill="#fff" stroke="#000" stroke-width="1.7"/><line x1="1293.94" y1="1381.39" x2="1322.24" y2="1381.39" stroke="#d70000" stroke-width="2.3" stroke-dasharray="7.3 7.5"/><text x="1334.94" y="1386.89" font-size="14.7">Teffs (no infection)</text><line x1="1293.94" y1="1399.04" x2="1322.24" y2="1399.04" stroke="#2a5c0a" stroke-width="2.3" stroke-dasharray="7.3 7.5"/><text x="1334.94" y="1404.34" font-size="14.7">Tregs (no infection)</text><line x1="1295.24" y1="1416.69" x2="1321.04" y2="1416.69" stroke="#d70000" stroke-width="2.6" stroke-linecap="round"/><text x="1334.94" y="1421.79" font-size="14.7">Teffs (infection)</text><line x1="1295.24" y1="1434.34" x2="1321.04" y2="1434.34" stroke="#2a5c0a" stroke-width="2.6" stroke-linecap="round"/><text x="1334.94" y="1439.24" font-size="14.7">Tregs (infection)</text><rect x="1126.97" y="1198.63" width="352.94" height="263.52" fill="none" stroke="#000" stroke-width="2.70" stroke-linejoin="round"/></g>
<g><line x1="1593.24" y1="1452.39" x2="1575.44" y2="1452.39" stroke="#000" stroke-width="2.60" stroke-linecap="round"/><text transform="translate(1572.24,1452.99) scale(1,1.050)" font-size="32.0" text-anchor="end" dominant-baseline="central">0.01</text><line x1="1593.24" y1="1403.59" x2="1575.44" y2="1403.59" stroke="#000" stroke-width="2.60" stroke-linecap="round"/><text transform="translate(1572.24,1404.19) scale(1,1.050)" font-size="32.0" text-anchor="end" dominant-baseline="central">0.1</text><line x1="1593.24" y1="1354.79" x2="1575.44" y2="1354.79" stroke="#000" stroke-width="2.60" stroke-linecap="round"/><text transform="translate(1572.24,1355.39) scale(1,1.050)" font-size="32.0" text-anchor="end" dominant-baseline="central">1</text><line x1="1593.24" y1="1305.99" x2="1575.44" y2="1305.99" stroke="#000" stroke-width="2.60" stroke-linecap="round"/><text transform="translate(1572.24,1306.59) scale(1,1.050)" font-size="32.0" text-anchor="end" dominant-baseline="central">10</text><line x1="1593.24" y1="1257.19" x2="1575.44" y2="1257.19" stroke="#000" stroke-width="2.60" stroke-linecap="round"/><text transform="translate(1572.24,1257.79) scale(1,1.050)" font-size="32.0" text-anchor="end" dominant-baseline="central">100</text><line x1="1593.24" y1="1208.39" x2="1575.44" y2="1208.39" stroke="#000" stroke-width="2.60" stroke-linecap="round"/><text transform="translate(1572.24,1208.99) scale(1,1.050)" font-size="32.0" text-anchor="end" dominant-baseline="central">1000</text><line x1="1606.31" y1="1462.15" x2="1606.31" y2="1479.95" stroke="#000" stroke-width="2.60" stroke-linecap="round"/><text transform="translate(1606.31,1512.29) scale(1,1.050)" font-size="19.7" text-anchor="middle">0</text><line x1="1612.85" y1="1462.15" x2="1612.85" y2="1471.05" stroke="#000" stroke-width="2.00" stroke-linecap="round"/><line x1="1619.38" y1="1462.15" x2="1619.38" y2="1471.05" stroke="#000" stroke-width="2.00" stroke-linecap="round"/><line x1="1625.92" y1="1462.15" x2="1625.92" y2="1471.05" stroke="#000" stroke-width="2.00" stroke-linecap="round"/><line x1="1632.45" y1="1462.15" x2="1632.45" y2="1471.05" stroke="#000" stroke-width="2.00" stroke-linecap="round"/><line x1="1638.99" y1="1462.15" x2="1638.99" y2="1471.05" stroke="#000" stroke-width="2.00" stroke-linecap="round"/><line x1="1645.53" y1="1462.15" x2="1645.53" y2="1471.05" stroke="#000" stroke-width="2.00" stroke-linecap="round"/><line x1="1652.06" y1="1462.15" x2="1652.06" y2="1471.05" stroke="#000" stroke-width="2.00" stroke-linecap="round"/><line x1="1658.60" y1="1462.15" x2="1658.60" y2="1471.05" stroke="#000" stroke-width="2.00" stroke-linecap="round"/><line x1="1665.13" y1="1462.15" x2="1665.13" y2="1471.05" stroke="#000" stroke-width="2.00" stroke-linecap="round"/><line x1="1671.67" y1="1462.15" x2="1671.67" y2="1479.95" stroke="#000" stroke-width="2.60" stroke-linecap="round"/><text transform="translate(1671.67,1512.29) scale(1,1.050)" font-size="19.7" text-anchor="middle">1000</text><line x1="1678.21" y1="1462.15" x2="1678.21" y2="1471.05" stroke="#000" stroke-width="2.00" stroke-linecap="round"/><line x1="1684.74" y1="1462.15" x2="1684.74" y2="1471.05" stroke="#000" stroke-width="2.00" stroke-linecap="round"/><line x1="1691.28" y1="1462.15" x2="1691.28" y2="1471.05" stroke="#000" stroke-width="2.00" stroke-linecap="round"/><line x1="1697.81" y1="1462.15" x2="1697.81" y2="1471.05" stroke="#000" stroke-width="2.00" stroke-linecap="round"/><line x1="1704.35" y1="1462.15" x2="1704.35" y2="1471.05" stroke="#000" stroke-width="2.00" stroke-linecap="round"/><line x1="1710.89" y1="1462.15" x2="1710.89" y2="1471.05" stroke="#000" stroke-width="2.00" stroke-linecap="round"/><line x1="1717.42" y1="1462.15" x2="1717.42" y2="1471.05" stroke="#000" stroke-width="2.00" stroke-linecap="round"/><line x1="1723.96" y1="1462.15" x2="1723.96" y2="1471.05" stroke="#000" stroke-width="2.00" stroke-linecap="round"/><line x1="1730.49" y1="1462.15" x2="1730.49" y2="1471.05" stroke="#000" stroke-width="2.00" stroke-linecap="round"/><line x1="1737.03" y1="1462.15" x2="1737.03" y2="1479.95" stroke="#000" stroke-width="2.60" stroke-linecap="round"/><text transform="translate(1737.03,1512.29) scale(1,1.050)" font-size="19.7" text-anchor="middle">2000</text><line x1="1743.57" y1="1462.15" x2="1743.57" y2="1471.05" stroke="#000" stroke-width="2.00" stroke-linecap="round"/><line x1="1750.10" y1="1462.15" x2="1750.10" y2="1471.05" stroke="#000" stroke-width="2.00" stroke-linecap="round"/><line x1="1756.64" y1="1462.15" x2="1756.64" y2="1471.05" stroke="#000" stroke-width="2.00" stroke-linecap="round"/><line x1="1763.17" y1="1462.15" x2="1763.17" y2="1471.05" stroke="#000" stroke-width="2.00" stroke-linecap="round"/><line x1="1769.71" y1="1462.15" x2="1769.71" y2="1471.05" stroke="#000" stroke-width="2.00" stroke-linecap="round"/><line x1="1776.25" y1="1462.15" x2="1776.25" y2="1471.05" stroke="#000" stroke-width="2.00" stroke-linecap="round"/><line x1="1782.78" y1="1462.15" x2="1782.78" y2="1471.05" stroke="#000" stroke-width="2.00" stroke-linecap="round"/><line x1="1789.32" y1="1462.15" x2="1789.32" y2="1471.05" stroke="#000" stroke-width="2.00" stroke-linecap="round"/><line x1="1795.85" y1="1462.15" x2="1795.85" y2="1471.05" stroke="#000" stroke-width="2.00" stroke-linecap="round"/><line x1="1802.39" y1="1462.15" x2="1802.39" y2="1479.95" stroke="#000" stroke-width="2.60" stroke-linecap="round"/><text transform="translate(1802.39,1512.29) scale(1,1.050)" font-size="19.7" text-anchor="middle">3000</text><line x1="1808.93" y1="1462.15" x2="1808.93" y2="1471.05" stroke="#000" stroke-width="2.00" stroke-linecap="round"/><line x1="1815.46" y1="1462.15" x2="1815.46" y2="1471.05" stroke="#000" stroke-width="2.00" stroke-linecap="round"/><line x1="1822.00" y1="1462.15" x2="1822.00" y2="1471.05" stroke="#000" stroke-width="2.00" stroke-linecap="round"/><line x1="1828.53" y1="1462.15" x2="1828.53" y2="1471.05" stroke="#000" stroke-width="2.00" stroke-linecap="round"/><line x1="1835.07" y1="1462.15" x2="1835.07" y2="1471.05" stroke="#000" stroke-width="2.00" stroke-linecap="round"/><line x1="1841.61" y1="1462.15" x2="1841.61" y2="1471.05" stroke="#000" stroke-width="2.00" stroke-linecap="round"/><line x1="1848.14" y1="1462.15" x2="1848.14" y2="1471.05" stroke="#000" stroke-width="2.00" stroke-linecap="round"/><line x1="1854.68" y1="1462.15" x2="1854.68" y2="1471.05" stroke="#000" stroke-width="2.00" stroke-linecap="round"/><line x1="1861.21" y1="1462.15" x2="1861.21" y2="1471.05" stroke="#000" stroke-width="2.00" stroke-linecap="round"/><line x1="1867.75" y1="1462.15" x2="1867.75" y2="1479.95" stroke="#000" stroke-width="2.60" stroke-linecap="round"/><text transform="translate(1867.75,1512.29) scale(1,1.050)" font-size="19.7" text-anchor="middle">4000</text><line x1="1874.29" y1="1462.15" x2="1874.29" y2="1471.05" stroke="#000" stroke-width="2.00" stroke-linecap="round"/><line x1="1880.82" y1="1462.15" x2="1880.82" y2="1471.05" stroke="#000" stroke-width="2.00" stroke-linecap="round"/><line x1="1887.36" y1="1462.15" x2="1887.36" y2="1471.05" stroke="#000" stroke-width="2.00" stroke-linecap="round"/><line x1="1893.89" y1="1462.15" x2="1893.89" y2="1471.05" stroke="#000" stroke-width="2.00" stroke-linecap="round"/><line x1="1900.43" y1="1462.15" x2="1900.43" y2="1471.05" stroke="#000" stroke-width="2.00" stroke-linecap="round"/><line x1="1906.97" y1="1462.15" x2="1906.97" y2="1471.05" stroke="#000" stroke-width="2.00" stroke-linecap="round"/><line x1="1913.50" y1="1462.15" x2="1913.50" y2="1471.05" stroke="#000" stroke-width="2.00" stroke-linecap="round"/><line x1="1920.04" y1="1462.15" x2="1920.04" y2="1471.05" stroke="#000" stroke-width="2.00" stroke-linecap="round"/><line x1="1926.57" y1="1462.15" x2="1926.57" y2="1471.05" stroke="#000" stroke-width="2.00" stroke-linecap="round"/><line x1="1933.11" y1="1462.15" x2="1933.11" y2="1479.95" stroke="#000" stroke-width="2.60" stroke-linecap="round"/><text transform="translate(1933.11,1512.29) scale(1,1.050)" font-size="19.7" text-anchor="middle">5000</text><line x1="1671.67" y1="1198.63" x2="1671.67" y2="1462.15" stroke="#000" stroke-width="2.10" stroke-dasharray="7.0 7.8" stroke-dashoffset="8.89"/><text x="1677.97" y="1226.19" font-size="22.0">Infection</text><path d="M1671.67,1336.25 L1933.11,1336.25" fill="none" stroke="#d70000" stroke-width="2.20" stroke-dasharray="7.4 7.4" stroke-dashoffset="9.75" clip-path="url(#cp33)"/><path d="M1671.67,1348.98 L1933.11,1348.98" fill="none" stroke="#2a5c0a" stroke-width="2.20" stroke-dasharray="7.4 7.4" stroke-dashoffset="11.88" clip-path="url(#cp33)"/><path d="M1606.31,1360.30 L1606.90,1312.38 L1607.47,1312.40 L1608.05,1312.43 L1608.63,1312.45 L1609.20,1312.47 L1609.78,1312.49 L1610.35,1312.51 L1610.93,1312.53 L1611.51,1312.55 L1612.08,1312.57 L1612.66,1312.59 L1613.23,1312.62 L1613.81,1312.64 L1614.39,1312.66 L1614.96,1312.68 L1615.54,1312.70 L1616.11,1312.72 L1617.15,1312.76 L1618.19,1312.80 L1619.23,1312.82 L1620.26,1312.85 L1621.30,1312.88 L1622.34,1312.90 L1623.38,1312.93 L1624.41,1312.96 L1625.45,1312.99 L1626.49,1313.03 L1627.53,1313.07 L1628.57,1313.12 L1629.60,1313.18 L1630.64,1313.24 L1631.68,1313.32 L1632.72,1313.41 L1632.99,1313.44 L1633.25,1313.49 L1633.52,1313.56 L1633.79,1313.65 L1634.06,1313.75 L1634.33,1313.86 L1634.60,1313.98 L1634.87,1314.11 L1635.14,1314.25 L1635.41,1314.39 L1635.68,1314.54 L1635.95,1314.68 L1636.22,1314.83 L1636.49,1314.98 L1636.76,1315.12 L1637.03,1315.26 L1637.19,1315.34 L1637.35,1315.42 L1637.51,1315.50 L1637.67,1315.58 L1637.83,1315.66 L1637.99,1315.74 L1638.14,1315.82 L1638.30,1315.91 L1638.46,1316.00 L1638.62,1316.09 L1638.78,1316.19 L1638.94,1316.29 L1639.10,1316.40 L1639.26,1316.52 L1639.42,1316.64 L1639.58,1316.77 L1639.68,1316.87 L1639.79,1316.98 L1639.90,1317.09 L1640.00,1317.21 L1640.11,1317.34 L1640.22,1317.48 L1640.32,1317.62 L1640.43,1317.77 L1640.53,1317.93 L1640.64,1318.09 L1640.75,1318.26 L1640.85,1318.43 L1640.96,1318.61 L1641.07,1318.79 L1641.17,1318.98 L1641.28,1319.17 L1641.36,1319.32 L1641.44,1319.47 L1641.52,1319.64 L1641.60,1319.81 L1641.69,1319.99 L1641.77,1320.17 L1641.85,1320.37 L1641.93,1320.56 L1642.01,1320.76 L1642.09,1320.97 L1642.18,1321.18 L1642.26,1321.39 L1642.34,1321.61 L1642.42,1321.84 L1642.50,1322.06 L1642.58,1322.29 L1642.69,1322.58 L1642.79,1322.89 L1642.89,1323.21 L1642.99,1323.53 L1643.10,1323.87 L1643.20,1324.22 L1643.30,1324.57 L1643.40,1324.93 L1643.50,1325.30 L1643.61,1325.67 L1643.71,1326.05 L1643.81,1326.43 L1643.91,1326.81 L1644.01,1327.19 L1644.12,1327.57 L1644.22,1327.95 L1644.30,1328.26 L1644.38,1328.58 L1644.46,1328.92 L1644.55,1329.26 L1644.63,1329.60 L1644.71,1329.95 L1644.79,1330.30 L1644.87,1330.65 L1644.95,1331.00 L1645.04,1331.34 L1645.12,1331.68 L1645.20,1332.00 L1645.28,1332.32 L1645.36,1332.62 L1645.44,1332.90 L1645.53,1333.17 L1645.62,1333.48 L1645.71,1333.79 L1645.81,1334.12 L1645.90,1334.45 L1646.00,1334.78 L1646.09,1335.10 L1646.18,1335.42 L1646.28,1335.72 L1646.37,1336.00 L1646.47,1336.26 L1646.56,1336.49 L1646.65,1336.69 L1646.75,1336.85 L1646.84,1336.97 L1646.94,1337.05 L1647.03,1337.08 L1647.10,1337.07 L1647.17,1337.05 L1647.24,1337.03 L1647.31,1336.99 L1647.38,1336.95 L1647.45,1336.90 L1647.52,1336.85 L1647.58,1336.80 L1647.65,1336.75 L1647.72,1336.70 L1647.79,1336.65 L1647.86,1336.60 L1647.93,1336.56 L1648.00,1336.53 L1648.07,1336.50 L1648.14,1336.49 L1648.39,1336.46 L1648.63,1336.43 L1648.88,1336.40 L1649.12,1336.38 L1649.37,1336.36 L1649.61,1336.34 L1649.86,1336.32 L1650.10,1336.30 L1650.35,1336.29 L1650.59,1336.28 L1650.84,1336.27 L1651.08,1336.26 L1651.33,1336.25 L1651.57,1336.25 L1651.82,1336.25 L1652.06,1336.25 L1653.29,1336.25 L1654.51,1336.25 L1655.74,1336.25 L1656.96,1336.25 L1658.19,1336.25 L1659.41,1336.25 L1660.64,1336.25 L1661.87,1336.25 L1663.09,1336.25 L1664.32,1336.25 L1665.54,1336.25 L1666.77,1336.25 L1667.99,1336.25 L1669.22,1336.25 L1670.44,1336.25 L1671.67,1336.25 L1671.77,1336.22 L1671.87,1336.16 L1671.98,1336.05 L1672.08,1335.92 L1672.18,1335.74 L1672.28,1335.55 L1672.38,1335.32 L1672.49,1335.08 L1672.59,1334.82 L1672.69,1334.55 L1672.79,1334.26 L1672.90,1333.97 L1673.00,1333.68 L1673.10,1333.39 L1673.20,1333.11 L1673.30,1332.83 L1673.40,1332.56 L1673.50,1332.28 L1673.60,1331.98 L1673.70,1331.67 L1673.79,1331.34 L1673.89,1331.01 L1673.99,1330.66 L1674.09,1330.30 L1674.19,1329.93 L1674.28,1329.56 L1674.38,1329.17 L1674.48,1328.78 L1674.58,1328.38 L1674.68,1327.98 L1674.77,1327.58 L1674.87,1327.17 L1674.98,1326.70 L1675.09,1326.20 L1675.19,1325.66 L1675.30,1325.09 L1675.40,1324.51 L1675.51,1323.91 L1675.62,1323.31 L1675.72,1322.71 L1675.83,1322.11 L1675.93,1321.53 L1676.04,1320.96 L1676.15,1320.43 L1676.25,1319.92 L1676.36,1319.46 L1676.47,1319.04 L1676.57,1318.68 L1676.69,1318.33 L1676.80,1318.00 L1676.92,1317.69 L1677.03,1317.39 L1677.14,1317.12 L1677.26,1316.85 L1677.37,1316.60 L1677.49,1316.35 L1677.60,1316.11 L1677.72,1315.88 L1677.83,1315.65 L1677.94,1315.42 L1678.06,1315.19 L1678.17,1314.96 L1678.29,1314.72 L1678.40,1314.48 L1678.51,1314.24 L1678.62,1313.99 L1678.73,1313.74 L1678.84,1313.49 L1678.95,1313.24 L1679.06,1312.99 L1679.17,1312.74 L1679.28,1312.49 L1679.39,1312.25 L1679.51,1312.02 L1679.62,1311.80 L1679.73,1311.58 L1679.84,1311.38 L1679.95,1311.20 L1680.06,1311.03 L1680.17,1310.87 L1680.29,1310.71 L1680.41,1310.55 L1680.53,1310.40 L1680.66,1310.24 L1680.78,1310.10 L1680.90,1309.96 L1681.02,1309.82 L1681.15,1309.69 L1681.27,1309.57 L1681.39,1309.46 L1681.51,1309.35 L1681.64,1309.26 L1681.76,1309.17 L1681.88,1309.09 L1682.01,1309.02 L1682.13,1308.97 L1682.51,1308.82 L1682.89,1308.68 L1683.27,1308.55 L1683.65,1308.42 L1684.03,1308.31 L1684.41,1308.21 L1684.79,1308.11 L1685.17,1308.03 L1685.55,1307.95 L1685.93,1307.88 L1686.31,1307.82 L1686.69,1307.76 L1687.07,1307.71 L1687.45,1307.67 L1687.83,1307.63 L1688.21,1307.60 L1688.81,1307.56 L1689.41,1307.52 L1690.01,1307.48 L1690.61,1307.44 L1691.21,1307.41 L1691.81,1307.37 L1692.41,1307.35 L1693.01,1307.32 L1693.61,1307.29 L1694.21,1307.27 L1694.81,1307.25 L1695.41,1307.24 L1696.01,1307.23 L1696.61,1307.22 L1697.21,1307.21 L1697.81,1307.21 L1712.52,1307.21 L1727.23,1307.21 L1741.93,1307.21 L1756.64,1307.21 L1771.34,1307.21 L1786.05,1307.21 L1800.76,1307.21 L1815.46,1307.21 L1830.17,1307.21 L1844.87,1307.21 L1859.58,1307.21 L1874.29,1307.21 L1888.99,1307.21 L1903.70,1307.21 L1918.40,1307.21 L1933.11,1307.21" fill="none" stroke="#d70000" stroke-width="3.50" stroke-linecap="round" stroke-linejoin="round" clip-path="url(#cp33)"/><path d="M1606.31,1455.32 L1606.90,1422.77 L1607.39,1422.15 L1607.89,1421.53 L1608.38,1420.90 L1608.88,1420.28 L1609.37,1419.65 L1609.86,1419.03 L1610.36,1418.40 L1610.85,1417.78 L1611.35,1417.15 L1611.84,1416.53 L1612.34,1415.91 L1612.83,1415.29 L1613.32,1414.68 L1613.82,1414.07 L1614.31,1413.46 L1614.81,1412.86 L1615.31,1412.26 L1615.80,1411.67 L1616.30,1411.08 L1616.80,1410.50 L1617.30,1409.92 L1617.80,1409.34 L1618.30,1408.77 L1618.79,1408.20 L1619.29,1407.62 L1619.79,1407.04 L1620.29,1406.47 L1620.79,1405.88 L1621.29,1405.30 L1621.78,1404.70 L1622.28,1404.10 L1622.78,1403.49 L1623.40,1402.74 L1624.02,1402.00 L1624.64,1401.28 L1625.26,1400.56 L1625.89,1399.84 L1626.51,1399.12 L1627.13,1398.40 L1627.75,1397.66 L1628.37,1396.90 L1628.99,1396.11 L1629.61,1395.30 L1630.23,1394.45 L1630.85,1393.56 L1631.47,1392.63 L1632.09,1391.65 L1632.72,1390.61 L1633.08,1389.96 L1633.45,1389.29 L1633.82,1388.58 L1634.19,1387.85 L1634.55,1387.08 L1634.92,1386.29 L1635.29,1385.46 L1635.66,1384.61 L1636.02,1383.72 L1636.39,1382.81 L1636.76,1381.86 L1637.13,1380.89 L1637.49,1379.89 L1637.86,1378.86 L1638.23,1377.79 L1638.60,1376.70 L1638.85,1375.93 L1639.10,1375.11 L1639.35,1374.25 L1639.59,1373.35 L1639.84,1372.41 L1640.09,1371.45 L1640.34,1370.45 L1640.59,1369.44 L1640.84,1368.40 L1641.09,1367.35 L1641.34,1366.28 L1641.59,1365.21 L1641.84,1364.13 L1642.09,1363.05 L1642.34,1361.96 L1642.58,1360.89 L1642.71,1360.36 L1642.83,1359.81 L1642.95,1359.25 L1643.08,1358.68 L1643.20,1358.11 L1643.32,1357.52 L1643.44,1356.94 L1643.57,1356.35 L1643.69,1355.77 L1643.81,1355.19 L1643.93,1354.61 L1644.06,1354.04 L1644.18,1353.48 L1644.30,1352.92 L1644.42,1352.39 L1644.55,1351.86 L1644.61,1351.59 L1644.67,1351.30 L1644.73,1351.00 L1644.79,1350.68 L1644.85,1350.36 L1644.91,1350.04 L1644.97,1349.72 L1645.04,1349.42 L1645.10,1349.13 L1645.16,1348.86 L1645.22,1348.62 L1645.28,1348.42 L1645.34,1348.24 L1645.40,1348.12 L1645.46,1348.03 L1645.53,1348.01 L1645.59,1348.02 L1645.65,1348.05 L1645.71,1348.09 L1645.77,1348.15 L1645.83,1348.22 L1645.89,1348.30 L1645.95,1348.38 L1646.02,1348.46 L1646.08,1348.55 L1646.14,1348.63 L1646.20,1348.71 L1646.26,1348.78 L1646.32,1348.84 L1646.38,1348.89 L1646.45,1348.92 L1646.51,1348.93 L1646.65,1348.94 L1646.79,1348.95 L1646.94,1348.95 L1647.08,1348.96 L1647.22,1348.96 L1647.36,1348.97 L1647.51,1348.97 L1647.65,1348.97 L1647.79,1348.97 L1647.94,1348.98 L1648.08,1348.98 L1648.22,1348.98 L1648.37,1348.98 L1648.51,1348.98 L1648.65,1348.98 L1648.79,1348.98 L1650.22,1348.98 L1651.65,1348.98 L1653.08,1348.98 L1654.51,1348.98 L1655.94,1348.98 L1657.37,1348.98 L1658.80,1348.98 L1660.23,1348.98 L1661.66,1348.98 L1663.09,1348.98 L1664.52,1348.98 L1665.95,1348.98 L1667.38,1348.98 L1668.81,1348.98 L1670.24,1348.98 L1671.67,1348.98 L1671.79,1348.98 L1671.92,1348.99 L1672.04,1348.99 L1672.16,1349.00 L1672.28,1349.00 L1672.41,1349.01 L1672.53,1349.02 L1672.65,1349.04 L1672.77,1349.05 L1672.90,1349.06 L1673.02,1349.08 L1673.14,1349.10 L1673.26,1349.12 L1673.39,1349.14 L1673.51,1349.16 L1673.63,1349.18 L1673.71,1349.19 L1673.79,1349.21 L1673.86,1349.24 L1673.94,1349.27 L1674.02,1349.30 L1674.10,1349.33 L1674.17,1349.37 L1674.25,1349.42 L1674.33,1349.46 L1674.41,1349.52 L1674.48,1349.57 L1674.56,1349.63 L1674.64,1349.70 L1674.72,1349.76 L1674.80,1349.83 L1674.87,1349.91 L1674.96,1350.02 L1675.04,1350.17 L1675.13,1350.36 L1675.22,1350.59 L1675.30,1350.85 L1675.39,1351.14 L1675.47,1351.45 L1675.56,1351.79 L1675.64,1352.14 L1675.73,1352.51 L1675.82,1352.88 L1675.90,1353.27 L1675.99,1353.65 L1676.07,1354.04 L1676.16,1354.42 L1676.25,1354.79 L1676.33,1355.15 L1676.41,1355.53 L1676.49,1355.94 L1676.57,1356.35 L1676.65,1356.79 L1676.74,1357.23 L1676.82,1357.69 L1676.90,1358.15 L1676.98,1358.61 L1677.06,1359.08 L1677.14,1359.54 L1677.23,1360.00 L1677.31,1360.46 L1677.39,1360.91 L1677.47,1361.35 L1677.55,1361.77 L1678.86,1368.33 L1680.17,1374.69 L1681.49,1380.88 L1682.80,1386.94 L1684.11,1392.89 L1685.42,1398.76 L1686.73,1404.59 L1688.04,1410.40 L1689.35,1416.23 L1690.67,1422.10 L1691.98,1428.05 L1693.29,1434.10 L1694.60,1440.30 L1695.91,1446.66 L1697.22,1453.21 L1698.53,1460.00 L1698.61,1460.42 L1698.69,1460.84 L1698.77,1461.26 L1698.84,1461.69 L1698.92,1462.13 L1699.00,1462.57 L1699.08,1463.01 L1699.15,1463.46 L1699.23,1463.90 L1699.31,1464.35 L1699.39,1464.80 L1699.46,1465.25 L1699.54,1465.70 L1699.62,1466.15 L1699.70,1466.59 L1699.77,1467.03" fill="none" stroke="#2a5c0a" stroke-width="3.50" stroke-linecap="round" stroke-linejoin="round" clip-path="url(#cp33)"/><rect x="1747.51" y="1363.39" width="185.60" height="89.00" fill="#fff" stroke="#000" stroke-width="1.7"/><line x1="1760.21" y1="1381.39" x2="1788.51" y2="1381.39" stroke="#d70000" stroke-width="2.3" stroke-dasharray="7.3 7.5"/><text x="1801.21" y="1386.89" font-size="14.7">Teffs (no infection)</text><line x1="1760.21" y1="1399.04" x2="1788.51" y2="1399.04" stroke="#2a5c0a" stroke-width="2.3" stroke-dasharray="7.3 7.5"/><text x="1801.21" y="1404.34" font-size="14.7">Tregs (no infection)</text><line x1="1761.51" y1="1416.69" x2="1787.31" y2="1416.69" stroke="#d70000" stroke-width="2.6" stroke-linecap="round"/><text x="1801.21" y="1421.79" font-size="14.7">Teffs (infection)</text><line x1="1761.51" y1="1434.34" x2="1787.31" y2="1434.34" stroke="#2a5c0a" stroke-width="2.6" stroke-linecap="round"/><text x="1801.21" y="1439.24" font-size="14.7">Tregs (infection)</text><rect x="1593.24" y="1198.63" width="352.94" height="263.52" fill="none" stroke="#000" stroke-width="2.70" stroke-linejoin="round"/></g>
</svg></body></html>
